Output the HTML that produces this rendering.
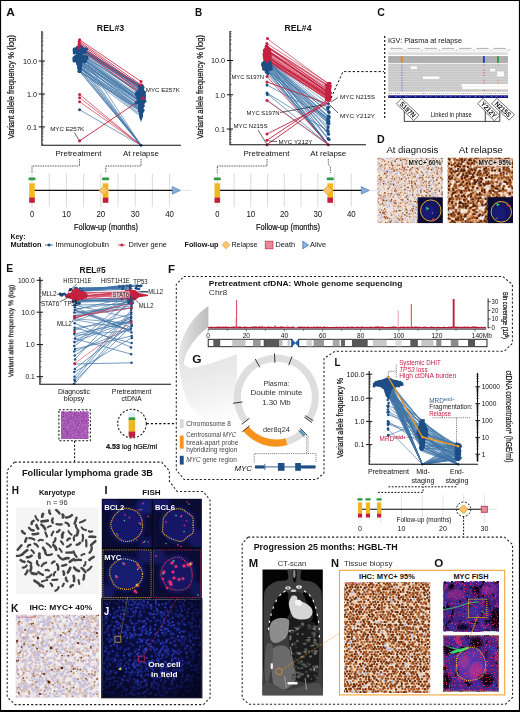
<!DOCTYPE html>
<html><head><meta charset="utf-8"><title>Figure</title>
<style>
html,body{margin:0;padding:0;background:#fff;}
body{width:520px;height:712px;overflow:hidden;font-family:"Liberation Sans",sans-serif;}
svg{display:block;font-family:"Liberation Sans",sans-serif;}
</style></head><body>
<svg width="520" height="712" viewBox="0 0 520 712">
<defs>
<filter id="blur04" x="-0.05" y="-0.05" width="1.1" height="1.1"><feGaussianBlur stdDeviation="0.4"/></filter>
<clipPath id="d1c"><rect x="377.5" y="157.8" width="65.3" height="65.3"/></clipPath>
<clipPath id="d2c"><rect x="447.7" y="157.8" width="65.3" height="65.3"/></clipPath>
<filter id="he" x="0" y="0" width="1" height="1" color-interpolation-filters="sRGB"><feTurbulence type="fractalNoise" baseFrequency="0.6" numOctaves="2" seed="5" result="n"/><feColorMatrix in="n" type="matrix" values="0 0 0 0 0.588 0 0 0 0 0.275 0 0 0 0 0.675 6 0 0 0 -3.1" result="L0"/><feColorMatrix in="n" type="matrix" values="0 0 0 0 0.808 0 0 0 0 0.510 0 0 0 0 0.784 0 7 0 0 -4.3" result="L1"/><feColorMatrix in="n" type="matrix" values="0 0 0 0 0.471 0 0 0 0 0.220 0 0 0 0 0.612 0 0 8 0 -5.2" result="L2"/><feMerge result="m"><feMergeNode in="L0"/><feMergeNode in="L1"/><feMergeNode in="L2"/></feMerge><feGaussianBlur in="m" stdDeviation="0.4"/></filter>
<linearGradient id="sw1" x1="0" y1="0" x2="1" y2="0"><stop offset="0" stop-color="#e6e6e6"/><stop offset="1" stop-color="#bdbdbd"/></linearGradient>
<linearGradient id="sw2" gradientUnits="userSpaceOnUse" x1="200" y1="350" x2="215" y2="425"><stop offset="0" stop-color="#e2e2e2"/><stop offset="0.55" stop-color="#f0f0f0"/><stop offset="1" stop-color="#ffffff"/></linearGradient>
<filter id="blur3" x="-0.3" y="-0.3" width="1.6" height="1.6"><feGaussianBlur stdDeviation="2.2"/></filter>
<filter id="blur1" x="-0.3" y="-0.3" width="1.6" height="1.6"><feGaussianBlur stdDeviation="0.45"/></filter>
<clipPath id="cf1"><rect x="102.4" y="499.4" width="49.2" height="47.8"/></clipPath>
<clipPath id="cf2"><rect x="153" y="499.4" width="48.2" height="47.8"/></clipPath>
<clipPath id="cf3"><rect x="102.4" y="549.4" width="49.2" height="48.6"/></clipPath>
<clipPath id="cf4"><rect x="153" y="549.4" width="48.2" height="48.6"/></clipPath>
<radialGradient id="jg" cx="0.42" cy="0.42" r="0.62"><stop offset="0" stop-color="#10165a"/><stop offset="0.6" stop-color="#0a0e40"/><stop offset="1" stop-color="#04051c"/></radialGradient>
<radialGradient id="jv" cx="0.42" cy="0.4" r="0.72"><stop offset="0" stop-color="#03041a" stop-opacity="0"/><stop offset="0.5" stop-color="#03041a" stop-opacity="0.12"/><stop offset="1" stop-color="#03041a" stop-opacity="0.85"/></radialGradient>
<filter id="blur06" x="-0.05" y="-0.05" width="1.1" height="1.1"><feGaussianBlur stdDeviation="0.55"/></filter>
<clipPath id="jc"><rect x="102.4" y="599.6" width="98.8" height="97.6"/></clipPath>
<clipPath id="kc"><rect x="15.8" y="614.8" width="83.3" height="82.8"/></clipPath>
<clipPath id="ctc"><rect x="262.5" y="569.5" width="60.3" height="125.8"/></clipPath>
<filter id="b08" x="-0.2" y="-0.2" width="1.4" height="1.4"><feGaussianBlur stdDeviation="0.7"/></filter>
<filter id="b15" x="-0.2" y="-0.2" width="1.4" height="1.4"><feGaussianBlur stdDeviation="1.4"/></filter>
<clipPath id="nc"><rect x="344.1" y="582.3" width="86.1" height="110.7"/></clipPath>
<filter id="of1" x="0" y="0" width="1" height="1" color-interpolation-filters="sRGB"><feTurbulence type="fractalNoise" baseFrequency="0.2" numOctaves="3" seed="41" result="n"/><feColorMatrix in="n" type="matrix" values="0 0 0 0 0.227 0 0 0 0 0.173 0 0 0 0 0.643 0 0 6 0 -3.0" result="L0"/><feColorMatrix in="n" type="matrix" values="0 0 0 0 0.031 0 0 0 0 0.020 0 0 0 0 0.063 9 0 0 0 -5.6" result="L1"/><feColorMatrix in="n" type="matrix" values="0 0 0 0 0.588 0 0 0 0 0.141 0 0 0 0 0.510 0 10 0 0 -6.3" result="L2"/><feMerge><feMergeNode in="L0"/><feMergeNode in="L1"/><feMergeNode in="L2"/></feMerge></filter>
<filter id="of1b" x="0" y="0" width="1" height="1" color-interpolation-filters="sRGB"><feTurbulence type="fractalNoise" baseFrequency="1.1" numOctaves="1" seed="42" result="n"/><feColorMatrix in="n" type="matrix" values="0 0 0 0 0.902 0 0 0 0 0.157 0 0 0 0 0.392 14 0 0 0 -8.9" result="L0"/><feMerge><feMergeNode in="L0"/></feMerge></filter>
<clipPath id="oc1"><rect x="443.3" y="581.9" width="55.7" height="49.3"/></clipPath>
<filter id="of2" x="0" y="0" width="1" height="1" color-interpolation-filters="sRGB"><feTurbulence type="fractalNoise" baseFrequency="0.11" numOctaves="3" seed="57" result="n"/><feColorMatrix in="n" type="matrix" values="0 0 0 0 0.227 0 0 0 0 0.180 0 0 0 0 0.651 0 0 6 0 -3.1" result="L0"/><feColorMatrix in="n" type="matrix" values="0 0 0 0 0.031 0 0 0 0 0.020 0 0 0 0 0.063 9 0 0 0 -5.3" result="L1"/><feColorMatrix in="n" type="matrix" values="0 0 0 0 0.706 0 0 0 0 0.141 0 0 0 0 0.471 0 9 0 0 -5.9" result="L2"/><feMerge><feMergeNode in="L0"/><feMergeNode in="L1"/><feMergeNode in="L2"/></feMerge></filter>
<filter id="of2b" x="0" y="0" width="1" height="1" color-interpolation-filters="sRGB"><feTurbulence type="fractalNoise" baseFrequency="0.75" numOctaves="1" seed="58" result="n"/><feColorMatrix in="n" type="matrix" values="0 0 0 0 0.941 0 0 0 0 0.157 0 0 0 0 0.373 14 0 0 0 -8.6" result="L0"/><feMerge><feMergeNode in="L0"/></feMerge></filter>
<clipPath id="oc2"><rect x="443.3" y="635.4" width="55.7" height="56.1"/></clipPath>
</defs>
<rect x="0" y="0" width="520" height="712" fill="#fff"/>
<g style="opacity:0.999">
<text x="6.3" y="16.3" font-size="11.3" font-weight="bold" text-anchor="start" fill="#111" textLength="8.6" lengthAdjust="spacingAndGlyphs">A</text>
<text x="110.5" y="30.9" font-size="9.3" font-weight="bold" text-anchor="middle" fill="#111" textLength="27.5" lengthAdjust="spacingAndGlyphs">REL#3</text>
<text transform="translate(14.2,87) rotate(-90)" font-size="9.2" text-anchor="middle" fill="#111" stroke="#111" stroke-width="0.22" textLength="104" lengthAdjust="spacingAndGlyphs">Variant allele frequency % (log)</text>
<g stroke-linecap="round">
<line x1="79.6" y1="54.4" x2="141.0" y2="92.2" stroke="#3f74a6" stroke-width="0.7" opacity="0.85"/>
<line x1="79.6" y1="62.9" x2="141.0" y2="101.3" stroke="#3f74a6" stroke-width="0.7" opacity="0.85"/>
<line x1="79.6" y1="59.9" x2="141.0" y2="100.7" stroke="#3f74a6" stroke-width="0.7" opacity="0.85"/>
<line x1="79.6" y1="47.5" x2="141.0" y2="87.8" stroke="#3f74a6" stroke-width="0.7" opacity="0.85"/>
<line x1="79.6" y1="47.0" x2="141.0" y2="86.5" stroke="#3f74a6" stroke-width="0.7" opacity="0.85"/>
<line x1="79.6" y1="47.8" x2="141.0" y2="85.5" stroke="#3f74a6" stroke-width="0.7" opacity="0.85"/>
<line x1="79.6" y1="57.0" x2="141.0" y2="102.0" stroke="#3f74a6" stroke-width="0.7" opacity="0.85"/>
<line x1="79.6" y1="49.2" x2="141.0" y2="86.9" stroke="#3f74a6" stroke-width="0.7" opacity="0.85"/>
<line x1="79.6" y1="62.3" x2="141.0" y2="109.3" stroke="#3f74a6" stroke-width="0.7" opacity="0.85"/>
<line x1="79.6" y1="61.0" x2="141.0" y2="102.3" stroke="#3f74a6" stroke-width="0.7" opacity="0.85"/>
<line x1="79.6" y1="71.4" x2="141.0" y2="110.8" stroke="#3f74a6" stroke-width="0.7" opacity="0.85"/>
<line x1="79.6" y1="68.3" x2="141.0" y2="109.7" stroke="#3f74a6" stroke-width="0.7" opacity="0.85"/>
<line x1="79.6" y1="49.8" x2="141.0" y2="86.5" stroke="#3f74a6" stroke-width="0.7" opacity="0.85"/>
<line x1="79.6" y1="54.0" x2="141.0" y2="98.4" stroke="#3f74a6" stroke-width="0.7" opacity="0.85"/>
<line x1="79.6" y1="50.7" x2="141.0" y2="92.2" stroke="#3f74a6" stroke-width="0.7" opacity="0.85"/>
<line x1="79.6" y1="62.6" x2="141.0" y2="103.9" stroke="#3f74a6" stroke-width="0.7" opacity="0.85"/>
<line x1="79.6" y1="60.2" x2="141.0" y2="98.1" stroke="#3f74a6" stroke-width="0.7" opacity="0.85"/>
<line x1="79.6" y1="47.5" x2="141.0" y2="85.5" stroke="#3f74a6" stroke-width="0.7" opacity="0.85"/>
<line x1="79.6" y1="63.7" x2="141.0" y2="105.7" stroke="#3f74a6" stroke-width="0.7" opacity="0.85"/>
<line x1="79.6" y1="54.2" x2="141.0" y2="96.3" stroke="#3f74a6" stroke-width="0.7" opacity="0.85"/>
<line x1="79.6" y1="57.8" x2="141.0" y2="97.6" stroke="#3f74a6" stroke-width="0.7" opacity="0.85"/>
<line x1="79.6" y1="66.7" x2="141.0" y2="111.8" stroke="#3f74a6" stroke-width="0.7" opacity="0.85"/>
<line x1="79.6" y1="52.3" x2="141.0" y2="94.1" stroke="#3f74a6" stroke-width="0.7" opacity="0.85"/>
<line x1="79.6" y1="59.7" x2="141.0" y2="105.5" stroke="#3f74a6" stroke-width="0.7" opacity="0.85"/>
<line x1="79.6" y1="65.0" x2="141.0" y2="105.8" stroke="#3f74a6" stroke-width="0.7" opacity="0.85"/>
<line x1="79.6" y1="71.5" x2="141.0" y2="111.6" stroke="#3f74a6" stroke-width="0.7" opacity="0.85"/>
<line x1="79.6" y1="56.9" x2="141.0" y2="101.1" stroke="#3f74a6" stroke-width="0.7" opacity="0.85"/>
<line x1="79.6" y1="50.0" x2="141.0" y2="90.4" stroke="#3f74a6" stroke-width="0.7" opacity="0.85"/>
<line x1="79.6" y1="47.0" x2="141.0" y2="88.9" stroke="#3f74a6" stroke-width="0.7" opacity="0.85"/>
<line x1="79.6" y1="65.9" x2="141.0" y2="109.7" stroke="#3f74a6" stroke-width="0.7" opacity="0.85"/>
<line x1="79.6" y1="68.8" x2="141.0" y2="110.4" stroke="#3f74a6" stroke-width="0.7" opacity="0.85"/>
<line x1="79.6" y1="64.1" x2="141.0" y2="107.8" stroke="#3f74a6" stroke-width="0.7" opacity="0.85"/>
<line x1="79.6" y1="61.1" x2="141.0" y2="103.0" stroke="#3f74a6" stroke-width="0.7" opacity="0.85"/>
<line x1="79.6" y1="67.8" x2="141.0" y2="115.6" stroke="#3f74a6" stroke-width="0.7" opacity="0.85"/>
<line x1="79.6" y1="58.3" x2="141.0" y2="101.9" stroke="#3f74a6" stroke-width="0.7" opacity="0.85"/>
<line x1="79.6" y1="47.6" x2="141.0" y2="89.8" stroke="#3f74a6" stroke-width="0.7" opacity="0.85"/>
<line x1="79.6" y1="62.8" x2="141.0" y2="110.3" stroke="#3f74a6" stroke-width="0.7" opacity="0.85"/>
<line x1="79.6" y1="67.4" x2="141.0" y2="108.5" stroke="#3f74a6" stroke-width="0.7" opacity="0.85"/>
<line x1="79.6" y1="56.0" x2="141.0" y2="99.3" stroke="#3f74a6" stroke-width="0.7" opacity="0.85"/>
<line x1="79.6" y1="46.6" x2="141.0" y2="86.3" stroke="#3f74a6" stroke-width="0.7" opacity="0.85"/>
<line x1="79.6" y1="50.4" x2="141.0" y2="87.2" stroke="#3f74a6" stroke-width="0.7" opacity="0.85"/>
<line x1="79.6" y1="47.5" x2="141.0" y2="90.5" stroke="#3f74a6" stroke-width="0.7" opacity="0.85"/>
<line x1="79.6" y1="49.4" x2="141.0" y2="87.4" stroke="#3f74a6" stroke-width="0.7" opacity="0.85"/>
<line x1="79.6" y1="56.2" x2="141.0" y2="101.4" stroke="#3f74a6" stroke-width="0.7" opacity="0.85"/>
<line x1="79.6" y1="48.1" x2="141.0" y2="87.9" stroke="#3f74a6" stroke-width="0.7" opacity="0.85"/>
<line x1="79.6" y1="60.3" x2="141.0" y2="106.3" stroke="#3f74a6" stroke-width="0.7" opacity="0.85"/>
<line x1="79.6" y1="67.3" x2="141.0" y2="114.2" stroke="#3f74a6" stroke-width="0.7" opacity="0.85"/>
<line x1="79.6" y1="53.2" x2="141.0" y2="93.5" stroke="#3f74a6" stroke-width="0.7" opacity="0.85"/>
<line x1="79.6" y1="55.3" x2="141.0" y2="100.6" stroke="#3f74a6" stroke-width="0.7" opacity="0.85"/>
<line x1="79.6" y1="70.9" x2="141.0" y2="111.2" stroke="#3f74a6" stroke-width="0.7" opacity="0.85"/>
<line x1="79.6" y1="50.6" x2="141.0" y2="88.6" stroke="#3f74a6" stroke-width="0.7" opacity="0.85"/>
<line x1="79.6" y1="52.1" x2="141.0" y2="92.8" stroke="#3f74a6" stroke-width="0.7" opacity="0.85"/>
<line x1="79.6" y1="61.3" x2="141.0" y2="101.3" stroke="#3f74a6" stroke-width="0.7" opacity="0.85"/>
<line x1="79.6" y1="46.1" x2="141.0" y2="85.5" stroke="#3f74a6" stroke-width="0.7" opacity="0.85"/>
<line x1="79.6" y1="55.6" x2="141.0" y2="97.7" stroke="#3f74a6" stroke-width="0.7" opacity="0.85"/>
<line x1="79.6" y1="70.8" x2="141.0" y2="116.5" stroke="#3f74a6" stroke-width="0.7" opacity="0.85"/>
<line x1="79.6" y1="62.4" x2="141.0" y2="145.3" stroke="#3f74a6" stroke-width="0.7" opacity="0.9"/>
<line x1="79.6" y1="64.8" x2="141.0" y2="145.3" stroke="#3f74a6" stroke-width="0.7" opacity="0.9"/>
<line x1="79.6" y1="66.2" x2="141.0" y2="145.3" stroke="#3f74a6" stroke-width="0.7" opacity="0.9"/>
<line x1="79.6" y1="51.3" x2="141.0" y2="145.3" stroke="#3f74a6" stroke-width="0.7" opacity="0.9"/>
<line x1="79.6" y1="71.6" x2="141.0" y2="145.3" stroke="#3f74a6" stroke-width="0.7" opacity="0.9"/>
<line x1="79.6" y1="68.7" x2="141.0" y2="145.3" stroke="#3f74a6" stroke-width="0.7" opacity="0.9"/>
<line x1="79.6" y1="71.0" x2="141.0" y2="145.3" stroke="#3f74a6" stroke-width="0.7" opacity="0.9"/>
<line x1="79.6" y1="69.1" x2="141.0" y2="145.3" stroke="#3f74a6" stroke-width="0.7" opacity="0.9"/>
<line x1="79.6" y1="59.4" x2="141.0" y2="145.3" stroke="#3f74a6" stroke-width="0.7" opacity="0.9"/>
<line x1="79.6" y1="109.8" x2="141.0" y2="145.3" stroke="#3f74a6" stroke-width="0.7"/>
<line x1="79.6" y1="39.8" x2="141.0" y2="81.5" stroke="#c4203f" stroke-width="0.8"/>
<line x1="79.6" y1="41.5" x2="141.0" y2="84.8" stroke="#c4203f" stroke-width="0.8"/>
<line x1="79.6" y1="43.0" x2="141.0" y2="87.0" stroke="#c4203f" stroke-width="0.8"/>
<line x1="79.6" y1="44.6" x2="141.0" y2="89.0" stroke="#c4203f" stroke-width="0.8"/>
<line x1="79.6" y1="46.5" x2="141.0" y2="92.0" stroke="#c4203f" stroke-width="0.8"/>
<line x1="79.6" y1="48.0" x2="141.0" y2="95.0" stroke="#c4203f" stroke-width="0.8"/>
<line x1="79.6" y1="94.5" x2="141.0" y2="145.3" stroke="#cf3552" stroke-width="0.7"/>
<line x1="79.6" y1="97.7" x2="141.0" y2="145.3" stroke="#cf3552" stroke-width="0.7"/>
<line x1="79.6" y1="101.7" x2="141.0" y2="145.3" stroke="#cf3552" stroke-width="0.7"/>
<line x1="79.6" y1="140.8" x2="143.1" y2="98.2" stroke="#c4203f" stroke-width="0.9"/>
</g>
<circle cx="79.2" cy="54.4" r="1.5" fill="#1d4f86"/>
<circle cx="78.0" cy="62.9" r="1.5" fill="#1d4f86"/>
<circle cx="81.1" cy="59.9" r="1.5" fill="#1d4f86"/>
<circle cx="77.8" cy="47.5" r="1.5" fill="#1d4f86"/>
<circle cx="77.9" cy="47.0" r="1.5" fill="#1d4f86"/>
<circle cx="78.4" cy="47.8" r="1.5" fill="#1d4f86"/>
<circle cx="75.9" cy="57.0" r="1.5" fill="#1d4f86"/>
<circle cx="77.8" cy="49.2" r="1.5" fill="#1d4f86"/>
<circle cx="77.8" cy="62.3" r="1.5" fill="#1d4f86"/>
<circle cx="74.1" cy="61.0" r="1.5" fill="#1d4f86"/>
<circle cx="79.2" cy="71.4" r="1.5" fill="#1d4f86"/>
<circle cx="79.1" cy="68.3" r="1.5" fill="#1d4f86"/>
<circle cx="78.1" cy="49.8" r="1.5" fill="#1d4f86"/>
<circle cx="77.7" cy="54.0" r="1.5" fill="#1d4f86"/>
<circle cx="83.7" cy="50.7" r="1.5" fill="#1d4f86"/>
<circle cx="80.1" cy="62.6" r="1.5" fill="#1d4f86"/>
<circle cx="75.7" cy="60.2" r="1.5" fill="#1d4f86"/>
<circle cx="78.6" cy="47.5" r="1.5" fill="#1d4f86"/>
<circle cx="79.0" cy="63.7" r="1.5" fill="#1d4f86"/>
<circle cx="79.1" cy="54.2" r="1.5" fill="#1d4f86"/>
<circle cx="75.5" cy="57.8" r="1.5" fill="#1d4f86"/>
<circle cx="80.0" cy="66.7" r="1.5" fill="#1d4f86"/>
<circle cx="85.0" cy="52.3" r="1.5" fill="#1d4f86"/>
<circle cx="79.2" cy="59.7" r="1.5" fill="#1d4f86"/>
<circle cx="79.5" cy="65.0" r="1.5" fill="#1d4f86"/>
<circle cx="79.1" cy="71.5" r="1.5" fill="#1d4f86"/>
<circle cx="75.2" cy="56.9" r="1.5" fill="#1d4f86"/>
<circle cx="77.9" cy="50.0" r="1.5" fill="#1d4f86"/>
<circle cx="78.7" cy="47.0" r="1.5" fill="#1d4f86"/>
<circle cx="80.9" cy="65.9" r="1.5" fill="#1d4f86"/>
<circle cx="79.2" cy="68.8" r="1.5" fill="#1d4f86"/>
<circle cx="77.7" cy="64.1" r="1.5" fill="#1d4f86"/>
<circle cx="84.6" cy="61.1" r="1.5" fill="#1d4f86"/>
<circle cx="79.6" cy="67.8" r="1.5" fill="#1d4f86"/>
<circle cx="75.7" cy="58.3" r="1.5" fill="#1d4f86"/>
<circle cx="79.8" cy="47.6" r="1.5" fill="#1d4f86"/>
<circle cx="77.7" cy="62.8" r="1.5" fill="#1d4f86"/>
<circle cx="79.6" cy="67.4" r="1.5" fill="#1d4f86"/>
<circle cx="84.9" cy="56.0" r="1.5" fill="#1d4f86"/>
<circle cx="81.1" cy="46.6" r="1.5" fill="#1d4f86"/>
<circle cx="81.8" cy="50.4" r="1.5" fill="#1d4f86"/>
<circle cx="78.6" cy="47.5" r="1.5" fill="#1d4f86"/>
<circle cx="78.1" cy="49.4" r="1.5" fill="#1d4f86"/>
<circle cx="75.9" cy="56.2" r="1.5" fill="#1d4f86"/>
<circle cx="82.6" cy="48.1" r="1.5" fill="#1d4f86"/>
<circle cx="80.0" cy="60.3" r="1.5" fill="#1d4f86"/>
<circle cx="79.9" cy="67.3" r="1.5" fill="#1d4f86"/>
<circle cx="77.7" cy="53.2" r="1.5" fill="#1d4f86"/>
<circle cx="78.5" cy="55.3" r="1.5" fill="#1d4f86"/>
<circle cx="80.0" cy="70.9" r="1.5" fill="#1d4f86"/>
<circle cx="84.9" cy="50.6" r="1.5" fill="#1d4f86"/>
<circle cx="83.5" cy="52.1" r="1.5" fill="#1d4f86"/>
<circle cx="83.0" cy="61.3" r="1.5" fill="#1d4f86"/>
<circle cx="80.9" cy="46.1" r="1.5" fill="#1d4f86"/>
<circle cx="80.6" cy="55.6" r="1.5" fill="#1d4f86"/>
<circle cx="79.3" cy="70.8" r="1.5" fill="#1d4f86"/>
<circle cx="79.7" cy="62.4" r="1.5" fill="#1d4f86"/>
<circle cx="79.0" cy="64.8" r="1.5" fill="#1d4f86"/>
<circle cx="79.0" cy="66.2" r="1.5" fill="#1d4f86"/>
<circle cx="74.4" cy="51.3" r="1.5" fill="#1d4f86"/>
<circle cx="79.3" cy="71.6" r="1.5" fill="#1d4f86"/>
<circle cx="79.3" cy="68.7" r="1.5" fill="#1d4f86"/>
<circle cx="79.8" cy="71.0" r="1.5" fill="#1d4f86"/>
<circle cx="80.1" cy="69.1" r="1.5" fill="#1d4f86"/>
<circle cx="79.0" cy="59.4" r="1.5" fill="#1d4f86"/>
<path d="M77.1,46 L72.6,49.5 L73.1,53 L76.6,54.5 L72.6,57 L72.6,61 L76.6,63 L77.6,70 L79.6,73 L81.6,70 L82.1,63 L84.6,60 L83.1,55 L85.1,51 L82.6,47 Z" fill="#1d4f86" stroke="none" stroke-width="1"/>
<circle cx="144.5" cy="92.2" r="1.5" fill="#1d4f86"/>
<circle cx="144.9" cy="101.3" r="1.5" fill="#1d4f86"/>
<circle cx="144.6" cy="100.7" r="1.5" fill="#1d4f86"/>
<circle cx="140.4" cy="87.8" r="1.5" fill="#1d4f86"/>
<circle cx="139.8" cy="86.5" r="1.5" fill="#1d4f86"/>
<circle cx="139.8" cy="85.5" r="1.5" fill="#1d4f86"/>
<circle cx="139.7" cy="102.0" r="1.5" fill="#1d4f86"/>
<circle cx="139.7" cy="86.9" r="1.5" fill="#1d4f86"/>
<circle cx="141.5" cy="109.3" r="1.5" fill="#1d4f86"/>
<circle cx="142.8" cy="102.3" r="1.5" fill="#1d4f86"/>
<circle cx="142.5" cy="110.8" r="1.5" fill="#1d4f86"/>
<circle cx="140.9" cy="109.7" r="1.5" fill="#1d4f86"/>
<circle cx="141.7" cy="86.5" r="1.5" fill="#1d4f86"/>
<circle cx="143.4" cy="98.4" r="1.5" fill="#1d4f86"/>
<circle cx="137.7" cy="92.2" r="1.5" fill="#1d4f86"/>
<circle cx="141.7" cy="103.9" r="1.5" fill="#1d4f86"/>
<circle cx="144.3" cy="98.1" r="1.5" fill="#1d4f86"/>
<circle cx="142.2" cy="85.5" r="1.5" fill="#1d4f86"/>
<circle cx="142.1" cy="105.7" r="1.5" fill="#1d4f86"/>
<circle cx="140.8" cy="96.3" r="1.5" fill="#1d4f86"/>
<circle cx="138.4" cy="97.6" r="1.5" fill="#1d4f86"/>
<circle cx="142.3" cy="111.8" r="1.5" fill="#1d4f86"/>
<circle cx="139.7" cy="94.1" r="1.5" fill="#1d4f86"/>
<circle cx="142.3" cy="105.5" r="1.5" fill="#1d4f86"/>
<circle cx="143.1" cy="105.8" r="1.5" fill="#1d4f86"/>
<circle cx="140.5" cy="111.6" r="1.5" fill="#1d4f86"/>
<circle cx="140.2" cy="101.1" r="1.5" fill="#1d4f86"/>
<circle cx="143.0" cy="90.4" r="1.5" fill="#1d4f86"/>
<circle cx="142.0" cy="88.9" r="1.5" fill="#1d4f86"/>
<circle cx="139.5" cy="109.7" r="1.5" fill="#1d4f86"/>
<circle cx="139.4" cy="110.4" r="1.5" fill="#1d4f86"/>
<circle cx="139.5" cy="107.8" r="1.5" fill="#1d4f86"/>
<circle cx="142.8" cy="103.0" r="1.5" fill="#1d4f86"/>
<circle cx="141.6" cy="115.6" r="1.5" fill="#1d4f86"/>
<circle cx="138.2" cy="101.9" r="1.5" fill="#1d4f86"/>
<circle cx="142.4" cy="89.8" r="1.5" fill="#1d4f86"/>
<circle cx="143.1" cy="110.3" r="1.5" fill="#1d4f86"/>
<circle cx="141.7" cy="108.5" r="1.5" fill="#1d4f86"/>
<circle cx="139.8" cy="99.3" r="1.5" fill="#1d4f86"/>
<circle cx="141.2" cy="86.3" r="1.5" fill="#1d4f86"/>
<circle cx="139.4" cy="87.2" r="1.5" fill="#1d4f86"/>
<circle cx="138.9" cy="90.5" r="1.5" fill="#1d4f86"/>
<circle cx="143.1" cy="87.4" r="1.5" fill="#1d4f86"/>
<circle cx="142.2" cy="101.4" r="1.5" fill="#1d4f86"/>
<circle cx="141.1" cy="87.9" r="1.5" fill="#1d4f86"/>
<circle cx="142.9" cy="106.3" r="1.5" fill="#1d4f86"/>
<circle cx="140.9" cy="114.2" r="1.5" fill="#1d4f86"/>
<circle cx="144.0" cy="93.5" r="1.5" fill="#1d4f86"/>
<circle cx="143.6" cy="100.6" r="1.5" fill="#1d4f86"/>
<circle cx="139.7" cy="111.2" r="1.5" fill="#1d4f86"/>
<circle cx="139.9" cy="88.6" r="1.5" fill="#1d4f86"/>
<circle cx="139.3" cy="92.8" r="1.5" fill="#1d4f86"/>
<circle cx="138.9" cy="101.3" r="1.5" fill="#1d4f86"/>
<circle cx="141.4" cy="85.5" r="1.5" fill="#1d4f86"/>
<circle cx="139.1" cy="97.7" r="1.5" fill="#1d4f86"/>
<circle cx="140.8" cy="116.5" r="1.5" fill="#1d4f86"/>
<path d="M139.5,86 L138,91 L136,96 L137,102 L138.5,108 L139.5,118 L141,122 L142.5,118 L143.5,108 L145.5,100 L146,95 L143.5,90 L142.5,86 Z" fill="#1d4f86" stroke="none" stroke-width="1"/>
<circle cx="74.1" cy="58.1" r="1.5" fill="#1d4f86"/>
<circle cx="82.0" cy="52.6" r="1.5" fill="#1d4f86"/>
<circle cx="80.1" cy="56.1" r="1.5" fill="#1d4f86"/>
<circle cx="83.7" cy="51.5" r="1.5" fill="#1d4f86"/>
<circle cx="74.7" cy="50.9" r="1.5" fill="#1d4f86"/>
<circle cx="77.0" cy="51.1" r="1.5" fill="#1d4f86"/>
<circle cx="85.3" cy="48.8" r="1.5" fill="#1d4f86"/>
<circle cx="83.7" cy="51.0" r="1.5" fill="#1d4f86"/>
<circle cx="78.7" cy="51.6" r="1.5" fill="#1d4f86"/>
<circle cx="82.5" cy="59.2" r="1.5" fill="#1d4f86"/>
<circle cx="79.7" cy="59.1" r="1.5" fill="#1d4f86"/>
<circle cx="85.9" cy="57.2" r="1.5" fill="#1d4f86"/>
<circle cx="74.2" cy="49.1" r="1.5" fill="#1d4f86"/>
<circle cx="82.2" cy="57.3" r="1.5" fill="#1d4f86"/>
<circle cx="83.9" cy="56.9" r="1.5" fill="#1d4f86"/>
<circle cx="74.2" cy="52.9" r="1.5" fill="#1d4f86"/>
<circle cx="83.3" cy="49.0" r="1.5" fill="#1d4f86"/>
<circle cx="86.9" cy="57.0" r="1.5" fill="#1d4f86"/>
<circle cx="87.0" cy="58.5" r="1.5" fill="#1d4f86"/>
<circle cx="76.9" cy="56.1" r="1.5" fill="#1d4f86"/>
<circle cx="78.7" cy="58.0" r="1.5" fill="#1d4f86"/>
<circle cx="79.8" cy="48.8" r="1.5" fill="#1d4f86"/>
<circle cx="86.7" cy="49.0" r="1.5" fill="#1d4f86"/>
<circle cx="85.7" cy="60.5" r="1.5" fill="#1d4f86"/>
<circle cx="84.8" cy="61.7" r="1.5" fill="#1d4f86"/>
<circle cx="74.3" cy="59.4" r="1.5" fill="#1d4f86"/>
<circle cx="136.5" cy="92.7" r="1.5" fill="#1d4f86"/>
<circle cx="143.1" cy="97.1" r="1.5" fill="#1d4f86"/>
<circle cx="136.3" cy="103.3" r="1.5" fill="#1d4f86"/>
<circle cx="142.5" cy="101.6" r="1.5" fill="#1d4f86"/>
<circle cx="136.4" cy="102.3" r="1.5" fill="#1d4f86"/>
<circle cx="136.2" cy="102.4" r="1.5" fill="#1d4f86"/>
<circle cx="140.5" cy="96.1" r="1.5" fill="#1d4f86"/>
<circle cx="141.6" cy="103.1" r="1.5" fill="#1d4f86"/>
<circle cx="138.4" cy="93.6" r="1.5" fill="#1d4f86"/>
<circle cx="141.3" cy="94.9" r="1.5" fill="#1d4f86"/>
<circle cx="136.7" cy="93.9" r="1.5" fill="#1d4f86"/>
<circle cx="136.1" cy="94.4" r="1.5" fill="#1d4f86"/>
<circle cx="138.9" cy="95.7" r="1.5" fill="#1d4f86"/>
<circle cx="143.9" cy="95.5" r="1.5" fill="#1d4f86"/>
<circle cx="79.6" cy="109.8" r="1.5" fill="#1d4f86"/>
<circle cx="79.6" cy="39.8" r="1.5" fill="#c4203f"/>
<circle cx="79.2" cy="41.5" r="1.5" fill="#c4203f"/>
<circle cx="79.4" cy="43.0" r="1.5" fill="#c4203f"/>
<circle cx="79.0" cy="44.6" r="1.5" fill="#c4203f"/>
<circle cx="79.3" cy="46.5" r="1.5" fill="#c4203f"/>
<circle cx="79.0" cy="48.0" r="1.5" fill="#c4203f"/>
<circle cx="141.0" cy="81.5" r="1.5" fill="#c4203f"/>
<circle cx="141.0" cy="84.8" r="1.5" fill="#c4203f"/>
<circle cx="79.6" cy="94.5" r="1.5" fill="#c4203f"/>
<circle cx="79.6" cy="97.7" r="1.5" fill="#c4203f"/>
<circle cx="79.6" cy="101.7" r="1.5" fill="#c4203f"/>
<circle cx="79.6" cy="140.8" r="1.6" fill="#c4203f"/>
<circle cx="143.1" cy="98.2" r="1.7" fill="#c4203f"/>
<circle cx="141.0" cy="145.3" r="1.5" fill="#1d4f86"/>
<line x1="41.9" y1="31.0" x2="41.9" y2="145.3" stroke="#111" stroke-width="1.1"/>
<line x1="38.7" y1="61.0" x2="45.0" y2="61.0" stroke="#111" stroke-width="1.0"/>
<text x="37.0" y="63.8" font-size="7.9" font-weight="normal" text-anchor="end" fill="#111" textLength="14.1" lengthAdjust="spacingAndGlyphs">10.0</text>
<line x1="38.7" y1="94.0" x2="45.0" y2="94.0" stroke="#111" stroke-width="1.0"/>
<text x="37.0" y="96.8" font-size="7.9" font-weight="normal" text-anchor="end" fill="#111" textLength="10.0" lengthAdjust="spacingAndGlyphs">1.0</text>
<line x1="38.7" y1="126.9" x2="45.0" y2="126.9" stroke="#111" stroke-width="1.0"/>
<text x="37.0" y="129.7" font-size="7.9" font-weight="normal" text-anchor="end" fill="#111" textLength="10.0" lengthAdjust="spacingAndGlyphs">0.1</text>
<line x1="41.9" y1="51.1" x2="43.6" y2="51.1" stroke="#111" stroke-width="0.5"/>
<line x1="41.9" y1="45.3" x2="43.6" y2="45.3" stroke="#111" stroke-width="0.5"/>
<line x1="41.9" y1="41.1" x2="43.6" y2="41.1" stroke="#111" stroke-width="0.5"/>
<line x1="41.9" y1="37.9" x2="43.6" y2="37.9" stroke="#111" stroke-width="0.5"/>
<line x1="41.9" y1="35.3" x2="43.6" y2="35.3" stroke="#111" stroke-width="0.5"/>
<line x1="41.9" y1="33.1" x2="43.6" y2="33.1" stroke="#111" stroke-width="0.5"/>
<line x1="41.9" y1="84.1" x2="43.6" y2="84.1" stroke="#111" stroke-width="0.5"/>
<line x1="41.9" y1="78.3" x2="43.6" y2="78.3" stroke="#111" stroke-width="0.5"/>
<line x1="41.9" y1="74.1" x2="43.6" y2="74.1" stroke="#111" stroke-width="0.5"/>
<line x1="41.9" y1="70.9" x2="43.6" y2="70.9" stroke="#111" stroke-width="0.5"/>
<line x1="41.9" y1="68.3" x2="43.6" y2="68.3" stroke="#111" stroke-width="0.5"/>
<line x1="41.9" y1="66.1" x2="43.6" y2="66.1" stroke="#111" stroke-width="0.5"/>
<line x1="41.9" y1="64.2" x2="43.6" y2="64.2" stroke="#111" stroke-width="0.5"/>
<line x1="41.9" y1="62.5" x2="43.6" y2="62.5" stroke="#111" stroke-width="0.5"/>
<line x1="41.9" y1="117.0" x2="43.6" y2="117.0" stroke="#111" stroke-width="0.5"/>
<line x1="41.9" y1="111.2" x2="43.6" y2="111.2" stroke="#111" stroke-width="0.5"/>
<line x1="41.9" y1="107.0" x2="43.6" y2="107.0" stroke="#111" stroke-width="0.5"/>
<line x1="41.9" y1="103.8" x2="43.6" y2="103.8" stroke="#111" stroke-width="0.5"/>
<line x1="41.9" y1="101.2" x2="43.6" y2="101.2" stroke="#111" stroke-width="0.5"/>
<line x1="41.9" y1="99.0" x2="43.6" y2="99.0" stroke="#111" stroke-width="0.5"/>
<line x1="41.9" y1="97.1" x2="43.6" y2="97.1" stroke="#111" stroke-width="0.5"/>
<line x1="41.9" y1="95.4" x2="43.6" y2="95.4" stroke="#111" stroke-width="0.5"/>
<line x1="41.9" y1="144.2" x2="43.6" y2="144.2" stroke="#111" stroke-width="0.5"/>
<line x1="41.9" y1="140.0" x2="43.6" y2="140.0" stroke="#111" stroke-width="0.5"/>
<line x1="41.9" y1="136.8" x2="43.6" y2="136.8" stroke="#111" stroke-width="0.5"/>
<line x1="41.9" y1="134.2" x2="43.6" y2="134.2" stroke="#111" stroke-width="0.5"/>
<line x1="41.9" y1="132.0" x2="43.6" y2="132.0" stroke="#111" stroke-width="0.5"/>
<line x1="41.9" y1="130.1" x2="43.6" y2="130.1" stroke="#111" stroke-width="0.5"/>
<line x1="41.9" y1="128.4" x2="43.6" y2="128.4" stroke="#111" stroke-width="0.5"/>
<line x1="41.4" y1="145.3" x2="181.0" y2="145.3" stroke="#111" stroke-width="1.1"/>
<text x="50.2" y="131.0" font-size="6.0" font-weight="normal" text-anchor="start" fill="#111" textLength="34.0" lengthAdjust="spacingAndGlyphs">MYC E257K</text>
<line x1="74.5" y1="132.5" x2="78.6" y2="139.5" stroke="#111" stroke-width="0.65"/>
<text x="145.8" y="92.0" font-size="6.0" font-weight="normal" text-anchor="start" fill="#111" textLength="34.0" lengthAdjust="spacingAndGlyphs">MYC E257K</text>
<text x="78.5" y="156.3" font-size="7.4" font-weight="normal" text-anchor="middle" fill="#111" textLength="46.0" lengthAdjust="spacingAndGlyphs">Pretreatment</text>
<text x="141.0" y="156.3" font-size="7.4" font-weight="normal" text-anchor="middle" fill="#111" textLength="36.0" lengthAdjust="spacingAndGlyphs">At relapse</text>
<path d="M79.5,159 V166 H32 V173" fill="none" stroke="#111" stroke-width="0.8" stroke-dasharray="0.9,0.8"/>
<path d="M141,159 V166 H105.8 V173" fill="none" stroke="#111" stroke-width="0.8" stroke-dasharray="0.9,0.8"/>
<line x1="32.0" y1="173.5" x2="32.0" y2="207.0" stroke="#d2d2d2" stroke-width="0.8"/>
<line x1="49.2" y1="173.5" x2="49.2" y2="207.0" stroke="#d2d2d2" stroke-width="0.8"/>
<line x1="66.4" y1="173.5" x2="66.4" y2="207.0" stroke="#d2d2d2" stroke-width="0.8"/>
<line x1="83.6" y1="173.5" x2="83.6" y2="207.0" stroke="#d2d2d2" stroke-width="0.8"/>
<line x1="100.8" y1="173.5" x2="100.8" y2="207.0" stroke="#d2d2d2" stroke-width="0.8"/>
<line x1="118.0" y1="173.5" x2="118.0" y2="207.0" stroke="#d2d2d2" stroke-width="0.8"/>
<line x1="135.2" y1="173.5" x2="135.2" y2="207.0" stroke="#d2d2d2" stroke-width="0.8"/>
<line x1="152.4" y1="173.5" x2="152.4" y2="207.0" stroke="#d2d2d2" stroke-width="0.8"/>
<line x1="169.6" y1="173.5" x2="169.6" y2="207.0" stroke="#d2d2d2" stroke-width="0.8"/>
<line x1="32.0" y1="190.4" x2="190.5" y2="190.4" stroke="#d0d0d0" stroke-width="0.6"/>
<line x1="32.0" y1="190.4" x2="173.5" y2="190.4" stroke="#111" stroke-width="1.2"/>
<rect x="29.2" y="183.3" width="5.6" height="14.6" fill="#f0b81e"/>
<rect x="29.2" y="197.6" width="5.6" height="5.2" fill="#c41f3a"/>
<rect x="28.4" y="177.5" width="7.2" height="2.8" fill="#2e9a48" rx="1"/>
<rect x="102.8" y="183.3" width="5.6" height="14.6" fill="#f0b81e"/>
<rect x="102.8" y="197.6" width="5.6" height="5.2" fill="#c41f3a"/>
<rect x="102.0" y="177.5" width="7.2" height="2.8" fill="#2e9a48" rx="1"/>
<path d="M99.29599999999999,190.4 L103.89599999999999,185.8 L108.49599999999998,190.4 L103.89599999999999,195.0 Z" fill="#f6c46a" stroke="#f09a25" stroke-width="0.9"/>
<path d="M172.3,186.6 L180.3,190.4 L172.3,194.20000000000002 Z" fill="#86aed6" stroke="#4a80b8" stroke-width="0.7"/>
<text x="32.0" y="216.6" font-size="8.6" font-weight="normal" text-anchor="middle" fill="#111" textLength="4.2" lengthAdjust="spacingAndGlyphs">0</text>
<text x="66.4" y="216.6" font-size="8.6" font-weight="normal" text-anchor="middle" fill="#111" textLength="8.8" lengthAdjust="spacingAndGlyphs">10</text>
<text x="100.8" y="216.6" font-size="8.6" font-weight="normal" text-anchor="middle" fill="#111" textLength="8.8" lengthAdjust="spacingAndGlyphs">20</text>
<text x="135.2" y="216.6" font-size="8.6" font-weight="normal" text-anchor="middle" fill="#111" textLength="8.8" lengthAdjust="spacingAndGlyphs">30</text>
<text x="169.6" y="216.6" font-size="8.6" font-weight="normal" text-anchor="middle" fill="#111" textLength="8.8" lengthAdjust="spacingAndGlyphs">40</text>
<text x="106.0" y="230.2" font-size="8.6" font-weight="normal" text-anchor="middle" fill="#111" textLength="64.0" lengthAdjust="spacingAndGlyphs" stroke="#111" stroke-width="0.2">Follow-up (months)</text>
<text x="195.0" y="16.3" font-size="11.3" font-weight="bold" text-anchor="start" fill="#111" textLength="7.2" lengthAdjust="spacingAndGlyphs">B</text>
<text x="298.0" y="30.9" font-size="9.3" font-weight="bold" text-anchor="middle" fill="#111" textLength="27.0" lengthAdjust="spacingAndGlyphs">REL#4</text>
<text transform="translate(202.7,87) rotate(-90)" font-size="9.2" text-anchor="middle" fill="#111" stroke="#111" stroke-width="0.22" textLength="104" lengthAdjust="spacingAndGlyphs">Variant allele frequency % (log)</text>
<g stroke-linecap="round">
<line x1="267.0" y1="68.3" x2="328.3" y2="123.4" stroke="#3f74a6" stroke-width="0.7" opacity="0.85"/>
<line x1="267.0" y1="60.7" x2="328.3" y2="120.6" stroke="#3f74a6" stroke-width="0.7" opacity="0.85"/>
<line x1="267.0" y1="71.1" x2="328.3" y2="106.9" stroke="#3f74a6" stroke-width="0.7" opacity="0.85"/>
<line x1="267.0" y1="69.5" x2="328.3" y2="119.0" stroke="#3f74a6" stroke-width="0.7" opacity="0.85"/>
<line x1="267.0" y1="64.9" x2="328.3" y2="133.9" stroke="#3f74a6" stroke-width="0.7" opacity="0.85"/>
<line x1="267.0" y1="63.5" x2="328.3" y2="121.7" stroke="#3f74a6" stroke-width="0.7" opacity="0.85"/>
<line x1="267.0" y1="67.6" x2="328.3" y2="139.4" stroke="#3f74a6" stroke-width="0.7" opacity="0.85"/>
<line x1="267.0" y1="62.8" x2="328.3" y2="133.8" stroke="#3f74a6" stroke-width="0.7" opacity="0.85"/>
<line x1="267.0" y1="67.9" x2="328.3" y2="126.5" stroke="#3f74a6" stroke-width="0.7" opacity="0.85"/>
<line x1="267.0" y1="63.7" x2="328.3" y2="115.9" stroke="#3f74a6" stroke-width="0.7" opacity="0.85"/>
<line x1="267.0" y1="58.8" x2="328.3" y2="107.8" stroke="#3f74a6" stroke-width="0.7" opacity="0.85"/>
<line x1="267.0" y1="59.0" x2="328.3" y2="130.4" stroke="#3f74a6" stroke-width="0.7" opacity="0.85"/>
<line x1="267.0" y1="61.6" x2="328.3" y2="109.0" stroke="#3f74a6" stroke-width="0.7" opacity="0.85"/>
<line x1="267.0" y1="59.2" x2="328.3" y2="134.1" stroke="#3f74a6" stroke-width="0.7" opacity="0.85"/>
<line x1="267.0" y1="70.2" x2="328.3" y2="127.8" stroke="#3f74a6" stroke-width="0.7" opacity="0.85"/>
<line x1="267.0" y1="61.9" x2="328.3" y2="112.0" stroke="#3f74a6" stroke-width="0.7" opacity="0.85"/>
<line x1="267.0" y1="62.1" x2="328.3" y2="120.0" stroke="#3f74a6" stroke-width="0.7" opacity="0.85"/>
<line x1="267.0" y1="60.2" x2="328.3" y2="119.5" stroke="#3f74a6" stroke-width="0.7" opacity="0.85"/>
<line x1="267.0" y1="61.7" x2="328.3" y2="138.6" stroke="#3f74a6" stroke-width="0.7" opacity="0.85"/>
<line x1="267.0" y1="71.6" x2="328.3" y2="123.2" stroke="#3f74a6" stroke-width="0.7" opacity="0.85"/>
<line x1="267.0" y1="61.4" x2="328.3" y2="138.7" stroke="#3f74a6" stroke-width="0.7" opacity="0.85"/>
<line x1="267.0" y1="62.3" x2="328.3" y2="116.2" stroke="#3f74a6" stroke-width="0.7" opacity="0.85"/>
<line x1="267.0" y1="58.0" x2="328.3" y2="117.1" stroke="#3f74a6" stroke-width="0.7" opacity="0.85"/>
<line x1="267.0" y1="64.6" x2="328.3" y2="121.6" stroke="#3f74a6" stroke-width="0.7" opacity="0.85"/>
<line x1="267.0" y1="60.8" x2="328.3" y2="121.7" stroke="#3f74a6" stroke-width="0.7" opacity="0.85"/>
<line x1="267.0" y1="58.1" x2="328.3" y2="112.8" stroke="#3f74a6" stroke-width="0.7" opacity="0.85"/>
<line x1="267.0" y1="59.3" x2="328.3" y2="117.8" stroke="#3f74a6" stroke-width="0.7" opacity="0.85"/>
<line x1="267.0" y1="58.6" x2="328.3" y2="103.8" stroke="#3f74a6" stroke-width="0.7" opacity="0.85"/>
<line x1="267.0" y1="62.3" x2="328.3" y2="111.6" stroke="#3f74a6" stroke-width="0.7" opacity="0.85"/>
<line x1="267.0" y1="66.2" x2="328.3" y2="122.6" stroke="#3f74a6" stroke-width="0.7" opacity="0.85"/>
<line x1="267.0" y1="85.0" x2="328.3" y2="118.0" stroke="#3f74a6" stroke-width="0.7"/>
<line x1="267.0" y1="93.0" x2="328.3" y2="131.0" stroke="#3f74a6" stroke-width="0.7"/>
<line x1="267.0" y1="93.5" x2="328.3" y2="144.7" stroke="#3f74a6" stroke-width="0.7"/>
<line x1="267.0" y1="100.0" x2="328.3" y2="144.7" stroke="#3f74a6" stroke-width="0.7"/>
<line x1="267.0" y1="70.5" x2="328.3" y2="144.7" stroke="#3f74a6" stroke-width="0.7" opacity="0.9"/>
<line x1="267.0" y1="69.2" x2="328.3" y2="144.7" stroke="#3f74a6" stroke-width="0.7" opacity="0.9"/>
<line x1="267.0" y1="70.0" x2="328.3" y2="144.7" stroke="#3f74a6" stroke-width="0.7" opacity="0.9"/>
<line x1="267.0" y1="72.3" x2="328.3" y2="144.7" stroke="#3f74a6" stroke-width="0.7" opacity="0.9"/>
<line x1="267.0" y1="65.5" x2="328.3" y2="144.7" stroke="#3f74a6" stroke-width="0.7" opacity="0.9"/>
<line x1="267.0" y1="64.6" x2="328.3" y2="144.7" stroke="#3f74a6" stroke-width="0.7" opacity="0.9"/>
<line x1="267.0" y1="73.8" x2="328.3" y2="144.7" stroke="#3f74a6" stroke-width="0.7" opacity="0.9"/>
<line x1="267.0" y1="62.1" x2="328.3" y2="144.7" stroke="#3f74a6" stroke-width="0.7" opacity="0.9"/>
<line x1="267.0" y1="70.1" x2="328.3" y2="144.7" stroke="#3f74a6" stroke-width="0.7" opacity="0.9"/>
<line x1="267.0" y1="38.5" x2="328.3" y2="83.9" stroke="#c4203f" stroke-width="0.7" opacity="0.9"/>
<line x1="267.0" y1="43.5" x2="328.3" y2="83.2" stroke="#c4203f" stroke-width="0.7" opacity="0.9"/>
<line x1="267.0" y1="59.4" x2="328.3" y2="100.4" stroke="#c4203f" stroke-width="0.7" opacity="0.9"/>
<line x1="267.0" y1="56.0" x2="328.3" y2="96.9" stroke="#c4203f" stroke-width="0.7" opacity="0.9"/>
<line x1="267.0" y1="59.0" x2="328.3" y2="94.8" stroke="#c4203f" stroke-width="0.7" opacity="0.9"/>
<line x1="267.0" y1="54.4" x2="328.3" y2="94.1" stroke="#c4203f" stroke-width="0.7" opacity="0.9"/>
<line x1="267.0" y1="59.4" x2="328.3" y2="99.8" stroke="#c4203f" stroke-width="0.7" opacity="0.9"/>
<line x1="267.0" y1="59.2" x2="328.3" y2="98.1" stroke="#c4203f" stroke-width="0.7" opacity="0.9"/>
<line x1="267.0" y1="60.3" x2="328.3" y2="99.6" stroke="#c4203f" stroke-width="0.7" opacity="0.9"/>
<line x1="267.0" y1="57.1" x2="328.3" y2="94.1" stroke="#c4203f" stroke-width="0.7" opacity="0.9"/>
<line x1="267.0" y1="46.5" x2="328.3" y2="86.0" stroke="#c4203f" stroke-width="0.7" opacity="0.9"/>
<line x1="267.0" y1="51.8" x2="328.3" y2="89.5" stroke="#c4203f" stroke-width="0.7" opacity="0.9"/>
<line x1="267.0" y1="59.4" x2="328.3" y2="98.0" stroke="#c4203f" stroke-width="0.7" opacity="0.9"/>
<line x1="267.0" y1="56.0" x2="328.3" y2="96.2" stroke="#c4203f" stroke-width="0.7" opacity="0.9"/>
<line x1="267.0" y1="56.9" x2="328.3" y2="95.8" stroke="#c4203f" stroke-width="0.7" opacity="0.9"/>
<line x1="267.0" y1="46.1" x2="328.3" y2="90.3" stroke="#c4203f" stroke-width="0.7" opacity="0.9"/>
<line x1="267.0" y1="58.0" x2="328.3" y2="96.7" stroke="#c4203f" stroke-width="0.7" opacity="0.9"/>
<line x1="267.0" y1="54.6" x2="328.3" y2="95.3" stroke="#c4203f" stroke-width="0.7" opacity="0.9"/>
<line x1="267.0" y1="47.1" x2="328.3" y2="90.6" stroke="#c4203f" stroke-width="0.7" opacity="0.9"/>
<line x1="267.0" y1="50.0" x2="328.3" y2="88.0" stroke="#c4203f" stroke-width="0.7" opacity="0.9"/>
<line x1="267.0" y1="50.2" x2="328.3" y2="92.8" stroke="#c4203f" stroke-width="0.7" opacity="0.9"/>
<line x1="267.0" y1="49.3" x2="328.3" y2="92.2" stroke="#c4203f" stroke-width="0.7" opacity="0.9"/>
<line x1="267.0" y1="61.6" x2="328.3" y2="99.2" stroke="#c4203f" stroke-width="0.7" opacity="0.9"/>
<line x1="267.0" y1="52.1" x2="328.3" y2="92.4" stroke="#c4203f" stroke-width="0.7" opacity="0.9"/>
<line x1="267.0" y1="56.9" x2="328.3" y2="97.8" stroke="#c4203f" stroke-width="0.7" opacity="0.9"/>
<line x1="267.0" y1="55.9" x2="328.3" y2="96.2" stroke="#c4203f" stroke-width="0.7" opacity="0.9"/>
<line x1="267.0" y1="47.2" x2="328.3" y2="86.6" stroke="#c4203f" stroke-width="0.7" opacity="0.9"/>
<line x1="267.0" y1="50.1" x2="328.3" y2="92.7" stroke="#c4203f" stroke-width="0.7" opacity="0.9"/>
<line x1="267.0" y1="50.9" x2="328.3" y2="92.1" stroke="#c4203f" stroke-width="0.7" opacity="0.9"/>
<line x1="267.0" y1="46.2" x2="328.3" y2="85.2" stroke="#c4203f" stroke-width="0.7" opacity="0.9"/>
<line x1="267.0" y1="50.3" x2="328.3" y2="92.4" stroke="#c4203f" stroke-width="0.7" opacity="0.9"/>
<line x1="267.0" y1="57.1" x2="328.3" y2="97.2" stroke="#c4203f" stroke-width="0.7" opacity="0.9"/>
<line x1="267.0" y1="50.7" x2="328.3" y2="91.6" stroke="#c4203f" stroke-width="0.7" opacity="0.9"/>
<line x1="267.0" y1="53.4" x2="328.3" y2="93.2" stroke="#c4203f" stroke-width="0.7" opacity="0.9"/>
<line x1="267.0" y1="76.5" x2="328.3" y2="144.7" stroke="#c4203f" stroke-width="0.8"/>
<line x1="267.0" y1="100.5" x2="328.3" y2="144.7" stroke="#cf3552" stroke-width="0.7"/>
<line x1="267.0" y1="134.0" x2="328.3" y2="103.0" stroke="#c4203f" stroke-width="0.9"/>
<line x1="267.0" y1="140.2" x2="328.3" y2="99.5" stroke="#c4203f" stroke-width="0.9"/>
<line x1="267.0" y1="144.7" x2="328.3" y2="101.0" stroke="#c4203f" stroke-width="0.9"/>
<line x1="267.0" y1="82.0" x2="328.3" y2="104.0" stroke="#c4203f" stroke-width="0.9"/>
</g>
<circle cx="263.6" cy="68.3" r="1.5" fill="#1d4f86"/>
<circle cx="268.2" cy="60.7" r="1.5" fill="#1d4f86"/>
<circle cx="266.1" cy="71.1" r="1.5" fill="#1d4f86"/>
<circle cx="271.2" cy="69.5" r="1.5" fill="#1d4f86"/>
<circle cx="270.8" cy="64.9" r="1.5" fill="#1d4f86"/>
<circle cx="262.8" cy="63.5" r="1.5" fill="#1d4f86"/>
<circle cx="266.6" cy="67.6" r="1.5" fill="#1d4f86"/>
<circle cx="269.8" cy="62.8" r="1.5" fill="#1d4f86"/>
<circle cx="271.1" cy="67.9" r="1.5" fill="#1d4f86"/>
<circle cx="266.6" cy="63.7" r="1.5" fill="#1d4f86"/>
<circle cx="266.3" cy="58.8" r="1.5" fill="#1d4f86"/>
<circle cx="266.1" cy="59.0" r="1.5" fill="#1d4f86"/>
<circle cx="268.3" cy="61.6" r="1.5" fill="#1d4f86"/>
<circle cx="266.1" cy="59.2" r="1.5" fill="#1d4f86"/>
<circle cx="267.2" cy="70.2" r="1.5" fill="#1d4f86"/>
<circle cx="265.9" cy="61.9" r="1.5" fill="#1d4f86"/>
<circle cx="267.2" cy="62.1" r="1.5" fill="#1d4f86"/>
<circle cx="268.4" cy="60.2" r="1.5" fill="#1d4f86"/>
<circle cx="265.9" cy="61.7" r="1.5" fill="#1d4f86"/>
<circle cx="268.0" cy="71.6" r="1.5" fill="#1d4f86"/>
<circle cx="267.0" cy="61.4" r="1.5" fill="#1d4f86"/>
<circle cx="270.4" cy="62.3" r="1.5" fill="#1d4f86"/>
<circle cx="267.6" cy="58.0" r="1.5" fill="#1d4f86"/>
<circle cx="264.6" cy="64.6" r="1.5" fill="#1d4f86"/>
<circle cx="268.2" cy="60.8" r="1.5" fill="#1d4f86"/>
<circle cx="267.0" cy="58.1" r="1.5" fill="#1d4f86"/>
<circle cx="265.6" cy="59.3" r="1.5" fill="#1d4f86"/>
<circle cx="265.5" cy="58.6" r="1.5" fill="#1d4f86"/>
<circle cx="266.9" cy="62.3" r="1.5" fill="#1d4f86"/>
<circle cx="266.6" cy="66.2" r="1.5" fill="#1d4f86"/>
<circle cx="266.4" cy="70.5" r="1.5" fill="#1d4f86"/>
<circle cx="263.8" cy="69.2" r="1.5" fill="#1d4f86"/>
<circle cx="266.5" cy="70.0" r="1.5" fill="#1d4f86"/>
<circle cx="266.4" cy="72.3" r="1.5" fill="#1d4f86"/>
<circle cx="270.0" cy="65.5" r="1.5" fill="#1d4f86"/>
<circle cx="262.6" cy="64.6" r="1.5" fill="#1d4f86"/>
<circle cx="267.8" cy="73.8" r="1.5" fill="#1d4f86"/>
<circle cx="270.0" cy="62.1" r="1.5" fill="#1d4f86"/>
<circle cx="265.9" cy="70.1" r="1.5" fill="#1d4f86"/>
<path d="M266,58 L262,62.5 L261.5,66.5 L264,70 L267,73 L270,70 L272.5,66 L271.5,62 L268.5,58 Z" fill="#1d4f86" stroke="none" stroke-width="1"/>
<circle cx="329.0" cy="123.4" r="1.5" fill="#1d4f86"/>
<circle cx="328.6" cy="120.6" r="1.5" fill="#1d4f86"/>
<circle cx="328.9" cy="106.9" r="1.5" fill="#1d4f86"/>
<circle cx="328.0" cy="119.0" r="1.5" fill="#1d4f86"/>
<circle cx="328.1" cy="133.9" r="1.5" fill="#1d4f86"/>
<circle cx="328.1" cy="121.7" r="1.5" fill="#1d4f86"/>
<circle cx="329.1" cy="139.4" r="1.5" fill="#1d4f86"/>
<circle cx="328.4" cy="133.8" r="1.5" fill="#1d4f86"/>
<circle cx="328.1" cy="126.5" r="1.5" fill="#1d4f86"/>
<circle cx="328.2" cy="115.9" r="1.5" fill="#1d4f86"/>
<circle cx="327.9" cy="107.8" r="1.5" fill="#1d4f86"/>
<circle cx="327.6" cy="130.4" r="1.5" fill="#1d4f86"/>
<circle cx="327.7" cy="109.0" r="1.5" fill="#1d4f86"/>
<circle cx="328.8" cy="134.1" r="1.5" fill="#1d4f86"/>
<circle cx="328.0" cy="127.8" r="1.5" fill="#1d4f86"/>
<circle cx="329.0" cy="112.0" r="1.5" fill="#1d4f86"/>
<circle cx="327.9" cy="120.0" r="1.5" fill="#1d4f86"/>
<circle cx="327.9" cy="119.5" r="1.5" fill="#1d4f86"/>
<circle cx="328.3" cy="138.6" r="1.5" fill="#1d4f86"/>
<circle cx="327.8" cy="123.2" r="1.5" fill="#1d4f86"/>
<circle cx="328.1" cy="138.7" r="1.5" fill="#1d4f86"/>
<circle cx="329.0" cy="116.2" r="1.5" fill="#1d4f86"/>
<circle cx="328.9" cy="117.1" r="1.5" fill="#1d4f86"/>
<circle cx="328.8" cy="121.6" r="1.5" fill="#1d4f86"/>
<circle cx="328.5" cy="121.7" r="1.5" fill="#1d4f86"/>
<circle cx="329.0" cy="112.8" r="1.5" fill="#1d4f86"/>
<circle cx="329.0" cy="117.8" r="1.5" fill="#1d4f86"/>
<circle cx="328.4" cy="103.8" r="1.5" fill="#1d4f86"/>
<circle cx="328.7" cy="111.6" r="1.5" fill="#1d4f86"/>
<circle cx="327.6" cy="122.6" r="1.5" fill="#1d4f86"/>
<circle cx="267.5" cy="38.5" r="1.5" fill="#c4203f"/>
<circle cx="266.9" cy="43.5" r="1.5" fill="#c4203f"/>
<circle cx="268.7" cy="59.4" r="1.5" fill="#c4203f"/>
<circle cx="268.0" cy="56.0" r="1.5" fill="#c4203f"/>
<circle cx="265.5" cy="59.0" r="1.5" fill="#c4203f"/>
<circle cx="263.9" cy="54.4" r="1.5" fill="#c4203f"/>
<circle cx="269.9" cy="59.4" r="1.5" fill="#c4203f"/>
<circle cx="264.5" cy="59.2" r="1.5" fill="#c4203f"/>
<circle cx="266.9" cy="60.3" r="1.5" fill="#c4203f"/>
<circle cx="265.9" cy="57.1" r="1.5" fill="#c4203f"/>
<circle cx="266.6" cy="46.5" r="1.5" fill="#c4203f"/>
<circle cx="268.6" cy="51.8" r="1.5" fill="#c4203f"/>
<circle cx="270.2" cy="59.4" r="1.5" fill="#c4203f"/>
<circle cx="265.4" cy="56.0" r="1.5" fill="#c4203f"/>
<circle cx="268.1" cy="56.9" r="1.5" fill="#c4203f"/>
<circle cx="266.6" cy="46.1" r="1.5" fill="#c4203f"/>
<circle cx="267.4" cy="58.0" r="1.5" fill="#c4203f"/>
<circle cx="266.3" cy="54.6" r="1.5" fill="#c4203f"/>
<circle cx="266.3" cy="47.1" r="1.5" fill="#c4203f"/>
<circle cx="264.7" cy="50.0" r="1.5" fill="#c4203f"/>
<circle cx="265.0" cy="50.2" r="1.5" fill="#c4203f"/>
<circle cx="269.8" cy="49.3" r="1.5" fill="#c4203f"/>
<circle cx="267.0" cy="61.6" r="1.5" fill="#c4203f"/>
<circle cx="265.1" cy="52.1" r="1.5" fill="#c4203f"/>
<circle cx="269.8" cy="56.9" r="1.5" fill="#c4203f"/>
<circle cx="270.4" cy="55.9" r="1.5" fill="#c4203f"/>
<circle cx="266.9" cy="47.2" r="1.5" fill="#c4203f"/>
<circle cx="264.5" cy="50.1" r="1.5" fill="#c4203f"/>
<circle cx="264.9" cy="50.9" r="1.5" fill="#c4203f"/>
<circle cx="266.2" cy="46.2" r="1.5" fill="#c4203f"/>
<circle cx="265.9" cy="50.3" r="1.5" fill="#c4203f"/>
<circle cx="264.2" cy="57.1" r="1.5" fill="#c4203f"/>
<circle cx="265.2" cy="50.7" r="1.5" fill="#c4203f"/>
<circle cx="265.4" cy="53.4" r="1.5" fill="#c4203f"/>
<path d="M265.5,46 L263,51 L263.5,57 L266,61 L269,60 L271.5,55 L271,50 L268.5,46 Z" fill="#c4203f" stroke="none" stroke-width="1"/>
<circle cx="328.6" cy="83.9" r="1.5" fill="#c4203f"/>
<circle cx="330.0" cy="83.2" r="1.5" fill="#c4203f"/>
<circle cx="329.4" cy="100.4" r="1.5" fill="#c4203f"/>
<circle cx="327.9" cy="96.9" r="1.5" fill="#c4203f"/>
<circle cx="327.9" cy="94.8" r="1.5" fill="#c4203f"/>
<circle cx="328.4" cy="94.1" r="1.5" fill="#c4203f"/>
<circle cx="327.8" cy="99.8" r="1.5" fill="#c4203f"/>
<circle cx="327.6" cy="98.1" r="1.5" fill="#c4203f"/>
<circle cx="326.4" cy="99.6" r="1.5" fill="#c4203f"/>
<circle cx="327.3" cy="94.1" r="1.5" fill="#c4203f"/>
<circle cx="330.4" cy="86.0" r="1.5" fill="#c4203f"/>
<circle cx="326.7" cy="89.5" r="1.5" fill="#c4203f"/>
<circle cx="328.3" cy="98.0" r="1.5" fill="#c4203f"/>
<circle cx="328.9" cy="96.2" r="1.5" fill="#c4203f"/>
<circle cx="329.9" cy="95.8" r="1.5" fill="#c4203f"/>
<circle cx="327.1" cy="90.3" r="1.5" fill="#c4203f"/>
<circle cx="327.3" cy="96.7" r="1.5" fill="#c4203f"/>
<circle cx="327.2" cy="95.3" r="1.5" fill="#c4203f"/>
<circle cx="327.9" cy="90.6" r="1.5" fill="#c4203f"/>
<circle cx="328.1" cy="88.0" r="1.5" fill="#c4203f"/>
<circle cx="330.3" cy="92.8" r="1.5" fill="#c4203f"/>
<circle cx="329.8" cy="92.2" r="1.5" fill="#c4203f"/>
<circle cx="329.9" cy="99.2" r="1.5" fill="#c4203f"/>
<circle cx="326.2" cy="92.4" r="1.5" fill="#c4203f"/>
<circle cx="326.2" cy="97.8" r="1.5" fill="#c4203f"/>
<circle cx="329.2" cy="96.2" r="1.5" fill="#c4203f"/>
<circle cx="330.0" cy="86.6" r="1.5" fill="#c4203f"/>
<circle cx="328.2" cy="92.7" r="1.5" fill="#c4203f"/>
<circle cx="328.7" cy="92.1" r="1.5" fill="#c4203f"/>
<circle cx="326.1" cy="85.2" r="1.5" fill="#c4203f"/>
<circle cx="327.8" cy="92.4" r="1.5" fill="#c4203f"/>
<circle cx="330.2" cy="97.2" r="1.5" fill="#c4203f"/>
<circle cx="329.7" cy="91.6" r="1.5" fill="#c4203f"/>
<circle cx="329.9" cy="93.2" r="1.5" fill="#c4203f"/>
<path d="M327.3,82 L325.3,88 L325.7,96 L328.3,101 L330.7,96 L331.3,88 L329.3,82 Z" fill="#c4203f" stroke="none" stroke-width="1"/>
<circle cx="267.0" cy="100.5" r="1.5" fill="#c4203f"/>
<circle cx="267.0" cy="134.0" r="1.5" fill="#c4203f"/>
<circle cx="267.0" cy="140.2" r="1.5" fill="#c4203f"/>
<circle cx="267.0" cy="144.7" r="1.5" fill="#c4203f"/>
<circle cx="328.3" cy="144.7" r="1.5" fill="#c4203f"/>
<circle cx="267.0" cy="82.0" r="1.5" fill="#c4203f"/>
<circle cx="267.0" cy="76.5" r="1.5" fill="#c4203f"/>
<circle cx="267.0" cy="85.0" r="1.5" fill="#1d4f86"/>
<circle cx="267.0" cy="93.0" r="1.5" fill="#1d4f86"/>
<circle cx="267.3" cy="94.5" r="1.5" fill="#1d4f86"/>
<circle cx="328.3" cy="118.0" r="1.5" fill="#1d4f86"/>
<circle cx="328.3" cy="131.0" r="1.5" fill="#1d4f86"/>
<line x1="230.0" y1="31.0" x2="230.0" y2="144.7" stroke="#111" stroke-width="1.1"/>
<line x1="226.8" y1="60.5" x2="233.1" y2="60.5" stroke="#111" stroke-width="1.0"/>
<text x="225.1" y="63.3" font-size="7.9" font-weight="normal" text-anchor="end" fill="#111" textLength="14.1" lengthAdjust="spacingAndGlyphs">10.0</text>
<line x1="226.8" y1="94.8" x2="233.1" y2="94.8" stroke="#111" stroke-width="1.0"/>
<text x="225.1" y="97.6" font-size="7.9" font-weight="normal" text-anchor="end" fill="#111" textLength="10.0" lengthAdjust="spacingAndGlyphs">1.0</text>
<line x1="226.8" y1="129.0" x2="233.1" y2="129.0" stroke="#111" stroke-width="1.0"/>
<text x="225.1" y="131.8" font-size="7.9" font-weight="normal" text-anchor="end" fill="#111" textLength="10.0" lengthAdjust="spacingAndGlyphs">0.1</text>
<line x1="230.0" y1="50.2" x2="231.7" y2="50.2" stroke="#111" stroke-width="0.5"/>
<line x1="230.0" y1="44.2" x2="231.7" y2="44.2" stroke="#111" stroke-width="0.5"/>
<line x1="230.0" y1="39.9" x2="231.7" y2="39.9" stroke="#111" stroke-width="0.5"/>
<line x1="230.0" y1="36.6" x2="231.7" y2="36.6" stroke="#111" stroke-width="0.5"/>
<line x1="230.0" y1="33.9" x2="231.7" y2="33.9" stroke="#111" stroke-width="0.5"/>
<line x1="230.0" y1="31.6" x2="231.7" y2="31.6" stroke="#111" stroke-width="0.5"/>
<line x1="230.0" y1="84.5" x2="231.7" y2="84.5" stroke="#111" stroke-width="0.5"/>
<line x1="230.0" y1="78.5" x2="231.7" y2="78.5" stroke="#111" stroke-width="0.5"/>
<line x1="230.0" y1="74.2" x2="231.7" y2="74.2" stroke="#111" stroke-width="0.5"/>
<line x1="230.0" y1="70.9" x2="231.7" y2="70.9" stroke="#111" stroke-width="0.5"/>
<line x1="230.0" y1="68.2" x2="231.7" y2="68.2" stroke="#111" stroke-width="0.5"/>
<line x1="230.0" y1="65.9" x2="231.7" y2="65.9" stroke="#111" stroke-width="0.5"/>
<line x1="230.0" y1="63.9" x2="231.7" y2="63.9" stroke="#111" stroke-width="0.5"/>
<line x1="230.0" y1="62.2" x2="231.7" y2="62.2" stroke="#111" stroke-width="0.5"/>
<line x1="230.0" y1="118.7" x2="231.7" y2="118.7" stroke="#111" stroke-width="0.5"/>
<line x1="230.0" y1="112.7" x2="231.7" y2="112.7" stroke="#111" stroke-width="0.5"/>
<line x1="230.0" y1="108.4" x2="231.7" y2="108.4" stroke="#111" stroke-width="0.5"/>
<line x1="230.0" y1="105.1" x2="231.7" y2="105.1" stroke="#111" stroke-width="0.5"/>
<line x1="230.0" y1="102.4" x2="231.7" y2="102.4" stroke="#111" stroke-width="0.5"/>
<line x1="230.0" y1="100.1" x2="231.7" y2="100.1" stroke="#111" stroke-width="0.5"/>
<line x1="230.0" y1="98.1" x2="231.7" y2="98.1" stroke="#111" stroke-width="0.5"/>
<line x1="230.0" y1="96.4" x2="231.7" y2="96.4" stroke="#111" stroke-width="0.5"/>
<line x1="230.0" y1="142.6" x2="231.7" y2="142.6" stroke="#111" stroke-width="0.5"/>
<line x1="230.0" y1="139.3" x2="231.7" y2="139.3" stroke="#111" stroke-width="0.5"/>
<line x1="230.0" y1="136.6" x2="231.7" y2="136.6" stroke="#111" stroke-width="0.5"/>
<line x1="230.0" y1="134.3" x2="231.7" y2="134.3" stroke="#111" stroke-width="0.5"/>
<line x1="230.0" y1="132.3" x2="231.7" y2="132.3" stroke="#111" stroke-width="0.5"/>
<line x1="230.0" y1="130.6" x2="231.7" y2="130.6" stroke="#111" stroke-width="0.5"/>
<line x1="229.5" y1="144.7" x2="366.0" y2="144.7" stroke="#111" stroke-width="1.1"/>
<text x="231.5" y="78.6" font-size="6.0" font-weight="normal" text-anchor="start" fill="#111" textLength="32.5" lengthAdjust="spacingAndGlyphs" stroke="#fff" stroke-width="1.6" paint-order="stroke">MYC S197N</text>
<text x="246.5" y="115.0" font-size="6.0" font-weight="normal" text-anchor="start" fill="#111" textLength="33.0" lengthAdjust="spacingAndGlyphs">MYC S197N</text>
<line x1="280.0" y1="112.5" x2="322.0" y2="105.0" stroke="#111" stroke-width="0.65"/>
<text x="233.5" y="128.0" font-size="6.0" font-weight="normal" text-anchor="start" fill="#111" textLength="34.0" lengthAdjust="spacingAndGlyphs">MYC N215S</text>
<line x1="258.0" y1="130.0" x2="266.5" y2="143.5" stroke="#111" stroke-width="0.65"/>
<text x="278.5" y="143.5" font-size="6.0" font-weight="normal" text-anchor="start" fill="#111" textLength="34.0" lengthAdjust="spacingAndGlyphs">MYC Y212Y</text>
<line x1="269.0" y1="141.0" x2="277.0" y2="141.5" stroke="#111" stroke-width="0.65"/>
<text x="340.0" y="98.5" font-size="6.0" font-weight="normal" text-anchor="start" fill="#111" textLength="35.0" lengthAdjust="spacingAndGlyphs">MYC N215S</text>
<line x1="331.0" y1="102.0" x2="338.0" y2="97.5" stroke="#111" stroke-width="0.65"/>
<text x="340.0" y="117.5" font-size="6.0" font-weight="normal" text-anchor="start" fill="#111" textLength="35.0" lengthAdjust="spacingAndGlyphs">MYC Y212Y</text>
<line x1="330.0" y1="105.0" x2="338.0" y2="113.0" stroke="#111" stroke-width="0.65"/>
<text x="266.5" y="156.3" font-size="7.4" font-weight="normal" text-anchor="middle" fill="#111" textLength="46.0" lengthAdjust="spacingAndGlyphs">Pretreatment</text>
<text x="328.3" y="156.3" font-size="7.4" font-weight="normal" text-anchor="middle" fill="#111" textLength="36.0" lengthAdjust="spacingAndGlyphs">At relapse</text>
<path d="M267,159 V166 H217.3 V173" fill="none" stroke="#111" stroke-width="0.8" stroke-dasharray="0.9,0.8"/>
<path d="M328.3,159 V164 L330.4,167 V173" fill="none" stroke="#111" stroke-width="0.8" stroke-dasharray="0.9,0.8"/>
<path d="M331,98 L343,71.6 H384" fill="none" stroke="#111" stroke-width="1.0" stroke-dasharray="2.3,2.0"/>
<line x1="217.3" y1="173.5" x2="217.3" y2="207.0" stroke="#d2d2d2" stroke-width="0.8"/>
<line x1="234.1" y1="173.5" x2="234.1" y2="207.0" stroke="#d2d2d2" stroke-width="0.8"/>
<line x1="250.8" y1="173.5" x2="250.8" y2="207.0" stroke="#d2d2d2" stroke-width="0.8"/>
<line x1="267.6" y1="173.5" x2="267.6" y2="207.0" stroke="#d2d2d2" stroke-width="0.8"/>
<line x1="284.3" y1="173.5" x2="284.3" y2="207.0" stroke="#d2d2d2" stroke-width="0.8"/>
<line x1="301.1" y1="173.5" x2="301.1" y2="207.0" stroke="#d2d2d2" stroke-width="0.8"/>
<line x1="317.8" y1="173.5" x2="317.8" y2="207.0" stroke="#d2d2d2" stroke-width="0.8"/>
<line x1="334.6" y1="173.5" x2="334.6" y2="207.0" stroke="#d2d2d2" stroke-width="0.8"/>
<line x1="351.3" y1="173.5" x2="351.3" y2="207.0" stroke="#d2d2d2" stroke-width="0.8"/>
<line x1="217.3" y1="190.4" x2="379.5" y2="190.4" stroke="#d0d0d0" stroke-width="0.6"/>
<line x1="217.3" y1="190.4" x2="362.5" y2="190.4" stroke="#111" stroke-width="1.2"/>
<rect x="214.5" y="183.3" width="5.6" height="14.6" fill="#f0b81e"/>
<rect x="214.5" y="197.6" width="5.6" height="5.2" fill="#c41f3a"/>
<rect x="213.7" y="177.5" width="7.2" height="2.8" fill="#2e9a48" rx="1"/>
<rect x="327.4" y="183.3" width="5.6" height="14.6" fill="#f0b81e"/>
<rect x="327.4" y="197.6" width="5.6" height="5.2" fill="#c41f3a"/>
<rect x="326.6" y="177.5" width="7.2" height="2.8" fill="#2e9a48" rx="1"/>
<path d="M323.25,190.4 L327.85,185.8 L332.45000000000005,190.4 L327.85,195.0 Z" fill="#f6c46a" stroke="#f09a25" stroke-width="0.9"/>
<path d="M361.3,186.6 L369.3,190.4 L361.3,194.20000000000002 Z" fill="#86aed6" stroke="#4a80b8" stroke-width="0.7"/>
<text x="217.3" y="216.6" font-size="8.6" font-weight="normal" text-anchor="middle" fill="#111" textLength="4.2" lengthAdjust="spacingAndGlyphs">0</text>
<text x="250.8" y="216.6" font-size="8.6" font-weight="normal" text-anchor="middle" fill="#111" textLength="8.8" lengthAdjust="spacingAndGlyphs">10</text>
<text x="284.3" y="216.6" font-size="8.6" font-weight="normal" text-anchor="middle" fill="#111" textLength="8.8" lengthAdjust="spacingAndGlyphs">20</text>
<text x="317.8" y="216.6" font-size="8.6" font-weight="normal" text-anchor="middle" fill="#111" textLength="8.8" lengthAdjust="spacingAndGlyphs">30</text>
<text x="351.3" y="216.6" font-size="8.6" font-weight="normal" text-anchor="middle" fill="#111" textLength="8.8" lengthAdjust="spacingAndGlyphs">40</text>
<text x="288.0" y="230.2" font-size="8.6" font-weight="normal" text-anchor="middle" fill="#111" textLength="64.0" lengthAdjust="spacingAndGlyphs" stroke="#111" stroke-width="0.2">Follow-up (months)</text>
<text x="10.5" y="238.6" font-size="6.6" font-weight="bold" text-anchor="start" fill="#111" textLength="15.0" lengthAdjust="spacingAndGlyphs">Key:</text>
<text x="10.5" y="247.3" font-size="6.6" font-weight="bold" text-anchor="start" fill="#111" textLength="31.0" lengthAdjust="spacingAndGlyphs">Mutation</text>
<line x1="45.0" y1="245.0" x2="53.0" y2="245.0" stroke="#1d4f86" stroke-width="0.8"/>
<circle cx="49.0" cy="245.0" r="1.5" fill="#1d4f86"/>
<text x="55.5" y="247.3" font-size="6.6" font-weight="normal" text-anchor="start" fill="#111" textLength="53.5" lengthAdjust="spacingAndGlyphs">Immunoglobulin</text>
<line x1="118.0" y1="245.0" x2="125.5" y2="245.0" stroke="#c4203f" stroke-width="0.8"/>
<circle cx="121.8" cy="245.0" r="1.5" fill="#c4203f"/>
<text x="128.5" y="247.3" font-size="6.6" font-weight="normal" text-anchor="start" fill="#111" textLength="38.5" lengthAdjust="spacingAndGlyphs">Driver gene</text>
<text x="184.5" y="247.3" font-size="6.6" font-weight="bold" text-anchor="start" fill="#111" textLength="34.0" lengthAdjust="spacingAndGlyphs">Follow-up</text>
<path d="M222.3,245 L226,241.3 L229.7,245 L226,248.7 Z" fill="#f8c977" stroke="#f09a25" stroke-width="0.8"/>
<text x="231.5" y="247.3" font-size="6.6" font-weight="normal" text-anchor="start" fill="#111" textLength="26.0" lengthAdjust="spacingAndGlyphs">Relapse</text>
<rect x="265.3" y="241.2" width="7.6" height="7.6" fill="#e9899b" stroke="#c8324d" stroke-width="0.8"/>
<text x="275.5" y="247.3" font-size="6.6" font-weight="normal" text-anchor="start" fill="#111" textLength="19.5" lengthAdjust="spacingAndGlyphs">Death</text>
<path d="M302.8,241.2 L308.6,245 L302.8,248.8 Z" fill="#8db4da" stroke="#3e77b3" stroke-width="0.8"/>
<text x="310.0" y="247.3" font-size="6.6" font-weight="normal" text-anchor="start" fill="#111" textLength="16.0" lengthAdjust="spacingAndGlyphs">Alive</text>
<text x="377.2" y="16.3" font-size="11.3" font-weight="bold" text-anchor="start" fill="#111" textLength="7.6" lengthAdjust="spacingAndGlyphs">C</text>
<text x="388.0" y="43.2" font-size="7.6" font-weight="normal" text-anchor="start" fill="#111" textLength="74.0" lengthAdjust="spacingAndGlyphs">IGV: Plasma at relapse</text>
<line x1="384.7" y1="36.0" x2="384.7" y2="119.5" stroke="#111" stroke-width="1.2" stroke-dasharray="2.0,2.0"/>
<rect x="390.2" y="47.9" width="12.5" height="1.3" fill="#888" opacity="0.6"/>
<line x1="405.0" y1="49.0" x2="405.0" y2="51.0" stroke="#888" stroke-width="0.4"/>
<rect x="407.4" y="47.9" width="12.5" height="1.3" fill="#888" opacity="0.6"/>
<line x1="422.2" y1="49.0" x2="422.2" y2="51.0" stroke="#888" stroke-width="0.4"/>
<rect x="424.6" y="47.9" width="12.5" height="1.3" fill="#888" opacity="0.6"/>
<line x1="439.4" y1="49.0" x2="439.4" y2="51.0" stroke="#888" stroke-width="0.4"/>
<rect x="441.8" y="47.9" width="12.5" height="1.3" fill="#888" opacity="0.6"/>
<line x1="456.6" y1="49.0" x2="456.6" y2="51.0" stroke="#888" stroke-width="0.4"/>
<rect x="459.0" y="47.9" width="12.5" height="1.3" fill="#888" opacity="0.6"/>
<line x1="473.8" y1="49.0" x2="473.8" y2="51.0" stroke="#888" stroke-width="0.4"/>
<rect x="476.2" y="47.9" width="12.5" height="1.3" fill="#888" opacity="0.6"/>
<line x1="491.0" y1="49.0" x2="491.0" y2="51.0" stroke="#888" stroke-width="0.4"/>
<rect x="493.4" y="47.9" width="12.5" height="1.3" fill="#888" opacity="0.6"/>
<line x1="508.2" y1="49.0" x2="508.2" y2="51.0" stroke="#888" stroke-width="0.4"/>
<rect x="510.6" y="47.9" width="-3.1" height="1.3" fill="#888" opacity="0.6"/>
<line x1="509.8" y1="49.0" x2="509.8" y2="51.0" stroke="#888" stroke-width="0.4"/>
<line x1="388.2" y1="50.8" x2="508.0" y2="50.8" stroke="#cfcfcf" stroke-width="0.5"/>
<rect x="388.2" y="52.3" width="119.8" height="2.6" fill="#dcdcdc"/>
<rect x="388.2" y="56.1" width="119.8" height="6.8" fill="#a9a9a9"/>
<path d="M389.5,56.1V62.9M390.8,56.1V62.9M392.1,56.1V62.9M393.4,56.1V62.9M394.7,56.1V62.9M396.0,56.1V62.9M397.3,56.1V62.9M398.6,56.1V62.9M399.9,56.1V62.9M401.2,56.1V62.9M402.5,56.1V62.9M403.8,56.1V62.9M405.1,56.1V62.9M406.4,56.1V62.9M407.7,56.1V62.9M409.0,56.1V62.9M410.3,56.1V62.9M411.6,56.1V62.9M412.9,56.1V62.9M414.2,56.1V62.9M415.5,56.1V62.9M416.8,56.1V62.9M418.1,56.1V62.9M419.4,56.1V62.9M420.7,56.1V62.9M422.0,56.1V62.9M423.3,56.1V62.9M424.6,56.1V62.9M425.9,56.1V62.9M427.2,56.1V62.9M428.5,56.1V62.9M429.8,56.1V62.9M431.1,56.1V62.9M432.4,56.1V62.9M433.7,56.1V62.9M435.0,56.1V62.9M436.3,56.1V62.9M437.6,56.1V62.9M438.9,56.1V62.9M440.2,56.1V62.9M441.5,56.1V62.9M442.8,56.1V62.9M444.1,56.1V62.9M445.4,56.1V62.9M446.7,56.1V62.9M448.0,56.1V62.9M449.3,56.1V62.9M450.6,56.1V62.9M451.9,56.1V62.9M453.2,56.1V62.9M454.5,56.1V62.9M455.8,56.1V62.9M457.1,56.1V62.9M458.4,56.1V62.9M459.7,56.1V62.9M461.0,56.1V62.9M462.3,56.1V62.9M463.6,56.1V62.9M464.9,56.1V62.9M466.2,56.1V62.9M467.5,56.1V62.9M468.8,56.1V62.9M470.1,56.1V62.9M471.4,56.1V62.9M472.7,56.1V62.9M474.0,56.1V62.9M475.3,56.1V62.9M476.6,56.1V62.9M477.9,56.1V62.9M479.2,56.1V62.9M480.5,56.1V62.9M481.8,56.1V62.9M483.1,56.1V62.9M484.4,56.1V62.9M485.7,56.1V62.9M487.0,56.1V62.9M488.3,56.1V62.9M489.6,56.1V62.9M490.9,56.1V62.9M492.2,56.1V62.9M493.5,56.1V62.9M494.8,56.1V62.9M496.1,56.1V62.9M497.4,56.1V62.9M498.7,56.1V62.9M500.0,56.1V62.9M501.3,56.1V62.9M502.6,56.1V62.9M503.9,56.1V62.9M505.2,56.1V62.9M506.5,56.1V62.9" stroke="#bcbcbc" stroke-width="0.4"/>
<rect x="400.8" y="56.1" width="1.9" height="6.8" fill="#e8871c"/>
<rect x="483.0" y="56.1" width="1.8" height="6.8" fill="#1f35e8"/>
<rect x="497.1" y="56.1" width="1.7" height="6.8" fill="#1fa02c"/>
<rect x="388.2" y="63.8" width="119.8" height="28.0" fill="#c7c7c7"/>
<line x1="388.2" y1="63.8" x2="508.0" y2="63.8" stroke="#e3e3e3" stroke-width="0.55"/>
<line x1="388.2" y1="66.3" x2="508.0" y2="66.3" stroke="#e3e3e3" stroke-width="0.55"/>
<line x1="388.2" y1="68.9" x2="508.0" y2="68.9" stroke="#e3e3e3" stroke-width="0.55"/>
<line x1="388.2" y1="71.4" x2="508.0" y2="71.4" stroke="#e3e3e3" stroke-width="0.55"/>
<line x1="388.2" y1="74.0" x2="508.0" y2="74.0" stroke="#e3e3e3" stroke-width="0.55"/>
<line x1="388.2" y1="76.5" x2="508.0" y2="76.5" stroke="#e3e3e3" stroke-width="0.55"/>
<line x1="388.2" y1="79.0" x2="508.0" y2="79.0" stroke="#e3e3e3" stroke-width="0.55"/>
<line x1="388.2" y1="81.6" x2="508.0" y2="81.6" stroke="#e3e3e3" stroke-width="0.55"/>
<line x1="388.2" y1="84.1" x2="508.0" y2="84.1" stroke="#e3e3e3" stroke-width="0.55"/>
<line x1="388.2" y1="86.7" x2="508.0" y2="86.7" stroke="#e3e3e3" stroke-width="0.55"/>
<line x1="388.2" y1="89.2" x2="508.0" y2="89.2" stroke="#e3e3e3" stroke-width="0.55"/>
<line x1="388.2" y1="91.7" x2="508.0" y2="91.7" stroke="#e3e3e3" stroke-width="0.55"/>
<rect x="410.9" y="66.3" width="6.1" height="2.6" fill="#fdfdfd"/>
<rect x="423.0" y="76.5" width="16.3" height="2.5" fill="#fdfdfd"/>
<rect x="490.2" y="68.9" width="4.9" height="2.5" fill="#fdfdfd"/>
<rect x="497.1" y="71.5" width="6.7" height="4.9" fill="#fdfdfd"/>
<rect x="461.4" y="84.1" width="46.6" height="2.5" fill="#fdfdfd"/>
<rect x="462.2" y="86.6" width="45.8" height="2.6" fill="#fdfdfd"/>
<rect x="401.4" y="64.6" width="1.1" height="1.2" fill="#6f6ff2"/>
<rect x="401.4" y="67.1" width="1.1" height="1.2" fill="#6f6ff2"/>
<rect x="401.4" y="69.7" width="1.1" height="1.2" fill="#6f6ff2"/>
<rect x="401.4" y="72.2" width="1.1" height="1.2" fill="#6f6ff2"/>
<rect x="401.4" y="74.8" width="1.1" height="1.2" fill="#6f6ff2"/>
<rect x="401.4" y="77.3" width="1.1" height="1.2" fill="#6f6ff2"/>
<rect x="401.4" y="79.8" width="1.1" height="1.2" fill="#6f6ff2"/>
<rect x="401.4" y="82.4" width="1.1" height="1.2" fill="#6f6ff2"/>
<rect x="401.4" y="84.9" width="1.1" height="1.2" fill="#6f6ff2"/>
<rect x="401.4" y="87.5" width="1.1" height="1.2" fill="#6f6ff2"/>
<rect x="401.4" y="90.0" width="1.1" height="1.2" fill="#6f6ff2"/>
<rect x="483.4" y="64.6" width="1.2" height="1.1" fill="#e05a5a"/>
<rect x="483.4" y="69.7" width="1.2" height="1.1" fill="#e05a5a"/>
<rect x="483.4" y="72.2" width="1.2" height="1.1" fill="#e05a5a"/>
<rect x="483.4" y="74.8" width="1.2" height="1.1" fill="#e05a5a"/>
<rect x="483.4" y="79.8" width="1.2" height="1.1" fill="#e05a5a"/>
<rect x="483.4" y="82.4" width="1.2" height="1.1" fill="#e05a5a"/>
<rect x="483.4" y="90.0" width="1.2" height="1.1" fill="#e05a5a"/>
<rect x="497.4" y="64.6" width="1.3" height="1.1" fill="#e39a4a"/>
<rect x="497.4" y="79.8" width="1.3" height="1.1" fill="#e39a4a"/>
<rect x="497.4" y="82.4" width="1.3" height="1.1" fill="#e39a4a"/>
<rect x="497.4" y="90.0" width="1.3" height="1.1" fill="#e39a4a"/>
<rect x="388.8" y="93.0" width="1.0" height="1.0" fill="#e85a5a" opacity="0.75"/>
<rect x="390.8" y="93.0" width="1.0" height="1.0" fill="#3c5fe8" opacity="0.75"/>
<rect x="392.8" y="93.0" width="1.0" height="1.0" fill="#e8a03c" opacity="0.75"/>
<rect x="394.8" y="93.0" width="1.0" height="1.0" fill="#3c5fe8" opacity="0.75"/>
<rect x="396.8" y="93.0" width="1.0" height="1.0" fill="#3c5fe8" opacity="0.75"/>
<rect x="398.8" y="93.0" width="1.0" height="1.0" fill="#3c5fe8" opacity="0.75"/>
<rect x="400.8" y="93.0" width="1.0" height="1.0" fill="#e8a03c" opacity="0.75"/>
<rect x="402.8" y="93.0" width="1.0" height="1.0" fill="#6f7df0" opacity="0.75"/>
<rect x="404.8" y="93.0" width="1.0" height="1.0" fill="#e8a03c" opacity="0.75"/>
<rect x="406.8" y="93.0" width="1.0" height="1.0" fill="#6f7df0" opacity="0.75"/>
<rect x="408.8" y="93.0" width="1.0" height="1.0" fill="#6f7df0" opacity="0.75"/>
<rect x="410.8" y="93.0" width="1.0" height="1.0" fill="#6f7df0" opacity="0.75"/>
<rect x="412.8" y="93.0" width="1.0" height="1.0" fill="#e85a5a" opacity="0.75"/>
<rect x="414.8" y="93.0" width="1.0" height="1.0" fill="#e8a03c" opacity="0.75"/>
<rect x="416.8" y="93.0" width="1.0" height="1.0" fill="#e8a03c" opacity="0.75"/>
<rect x="418.8" y="93.0" width="1.0" height="1.0" fill="#e8a03c" opacity="0.75"/>
<rect x="420.8" y="93.0" width="1.0" height="1.0" fill="#e8a03c" opacity="0.75"/>
<rect x="422.8" y="93.0" width="1.0" height="1.0" fill="#3c5fe8" opacity="0.75"/>
<rect x="424.8" y="93.0" width="1.0" height="1.0" fill="#3c5fe8" opacity="0.75"/>
<rect x="426.8" y="93.0" width="1.0" height="1.0" fill="#e8a03c" opacity="0.75"/>
<rect x="428.8" y="93.0" width="1.0" height="1.0" fill="#e8a03c" opacity="0.75"/>
<rect x="430.8" y="93.0" width="1.0" height="1.0" fill="#6f7df0" opacity="0.75"/>
<rect x="432.8" y="93.0" width="1.0" height="1.0" fill="#6f7df0" opacity="0.75"/>
<rect x="434.8" y="93.0" width="1.0" height="1.0" fill="#3cb84a" opacity="0.75"/>
<rect x="436.8" y="93.0" width="1.0" height="1.0" fill="#3c5fe8" opacity="0.75"/>
<rect x="438.8" y="93.0" width="1.0" height="1.0" fill="#6f7df0" opacity="0.75"/>
<rect x="440.8" y="93.0" width="1.0" height="1.0" fill="#3cb84a" opacity="0.75"/>
<rect x="442.8" y="93.0" width="1.0" height="1.0" fill="#e8a03c" opacity="0.75"/>
<rect x="444.8" y="93.0" width="1.0" height="1.0" fill="#6f7df0" opacity="0.75"/>
<rect x="446.8" y="93.0" width="1.0" height="1.0" fill="#e85a5a" opacity="0.75"/>
<rect x="448.8" y="93.0" width="1.0" height="1.0" fill="#6f7df0" opacity="0.75"/>
<rect x="450.8" y="93.0" width="1.0" height="1.0" fill="#e8a03c" opacity="0.75"/>
<rect x="452.8" y="93.0" width="1.0" height="1.0" fill="#e8a03c" opacity="0.75"/>
<rect x="454.8" y="93.0" width="1.0" height="1.0" fill="#e8a03c" opacity="0.75"/>
<rect x="456.8" y="93.0" width="1.0" height="1.0" fill="#3cb84a" opacity="0.75"/>
<rect x="458.8" y="93.0" width="1.0" height="1.0" fill="#e8a03c" opacity="0.75"/>
<rect x="460.8" y="93.0" width="1.0" height="1.0" fill="#e8a03c" opacity="0.75"/>
<rect x="462.8" y="93.0" width="1.0" height="1.0" fill="#3c5fe8" opacity="0.75"/>
<rect x="464.8" y="93.0" width="1.0" height="1.0" fill="#e85a5a" opacity="0.75"/>
<rect x="466.8" y="93.0" width="1.0" height="1.0" fill="#3cb84a" opacity="0.75"/>
<rect x="468.8" y="93.0" width="1.0" height="1.0" fill="#3c5fe8" opacity="0.75"/>
<rect x="470.8" y="93.0" width="1.0" height="1.0" fill="#e8a03c" opacity="0.75"/>
<rect x="472.8" y="93.0" width="1.0" height="1.0" fill="#e8a03c" opacity="0.75"/>
<rect x="474.8" y="93.0" width="1.0" height="1.0" fill="#e8a03c" opacity="0.75"/>
<rect x="476.8" y="93.0" width="1.0" height="1.0" fill="#e8a03c" opacity="0.75"/>
<rect x="478.8" y="93.0" width="1.0" height="1.0" fill="#3cb84a" opacity="0.75"/>
<rect x="480.8" y="93.0" width="1.0" height="1.0" fill="#e85a5a" opacity="0.75"/>
<rect x="482.8" y="93.0" width="1.0" height="1.0" fill="#3cb84a" opacity="0.75"/>
<rect x="484.8" y="93.0" width="1.0" height="1.0" fill="#3cb84a" opacity="0.75"/>
<rect x="486.8" y="93.0" width="1.0" height="1.0" fill="#6f7df0" opacity="0.75"/>
<rect x="488.8" y="93.0" width="1.0" height="1.0" fill="#3c5fe8" opacity="0.75"/>
<rect x="490.8" y="93.0" width="1.0" height="1.0" fill="#e85a5a" opacity="0.75"/>
<rect x="492.8" y="93.0" width="1.0" height="1.0" fill="#e8a03c" opacity="0.75"/>
<rect x="494.8" y="93.0" width="1.0" height="1.0" fill="#3c5fe8" opacity="0.75"/>
<rect x="496.8" y="93.0" width="1.0" height="1.0" fill="#e8a03c" opacity="0.75"/>
<rect x="498.8" y="93.0" width="1.0" height="1.0" fill="#3c5fe8" opacity="0.75"/>
<rect x="500.8" y="93.0" width="1.0" height="1.0" fill="#e8a03c" opacity="0.75"/>
<rect x="502.8" y="93.0" width="1.0" height="1.0" fill="#e85a5a" opacity="0.75"/>
<rect x="504.8" y="93.0" width="1.0" height="1.0" fill="#6f7df0" opacity="0.75"/>
<rect x="506.8" y="93.0" width="1.0" height="1.0" fill="#6f7df0" opacity="0.75"/>
<rect x="388.2" y="95.3" width="119.8" height="2.7" fill="#14147e"/>
<rect x="389.3" y="96.2" width="1.2" height="0.9" fill="#5560c8"/>
<rect x="394.7" y="96.2" width="2.1" height="0.9" fill="#5560c8"/>
<rect x="399.5" y="96.2" width="1.6" height="0.9" fill="#5560c8"/>
<rect x="405.0" y="96.2" width="2.5" height="0.9" fill="#5560c8"/>
<rect x="409.2" y="96.2" width="1.2" height="0.9" fill="#5560c8"/>
<rect x="414.4" y="96.2" width="1.8" height="0.9" fill="#5560c8"/>
<rect x="420.1" y="96.2" width="1.5" height="0.9" fill="#5560c8"/>
<rect x="425.3" y="96.2" width="2.2" height="0.9" fill="#5560c8"/>
<rect x="429.7" y="96.2" width="1.5" height="0.9" fill="#5560c8"/>
<rect x="435.6" y="96.2" width="1.6" height="0.9" fill="#5560c8"/>
<rect x="440.3" y="96.2" width="1.5" height="0.9" fill="#5560c8"/>
<rect x="444.1" y="96.2" width="2.3" height="0.9" fill="#5560c8"/>
<rect x="449.3" y="96.2" width="2.5" height="0.9" fill="#5560c8"/>
<rect x="454.7" y="96.2" width="1.5" height="0.9" fill="#5560c8"/>
<rect x="459.1" y="96.2" width="1.8" height="0.9" fill="#5560c8"/>
<rect x="465.0" y="96.2" width="2.5" height="0.9" fill="#5560c8"/>
<rect x="469.0" y="96.2" width="1.8" height="0.9" fill="#5560c8"/>
<rect x="474.1" y="96.2" width="2.6" height="0.9" fill="#5560c8"/>
<rect x="479.0" y="96.2" width="1.3" height="0.9" fill="#5560c8"/>
<rect x="483.8" y="96.2" width="1.8" height="0.9" fill="#5560c8"/>
<rect x="490.5" y="96.2" width="2.4" height="0.9" fill="#5560c8"/>
<rect x="495.2" y="96.2" width="2.6" height="0.9" fill="#5560c8"/>
<rect x="500.6" y="96.2" width="1.7" height="0.9" fill="#5560c8"/>
<rect x="504.1" y="96.2" width="2.5" height="0.9" fill="#5560c8"/>
<path d="M404.3,111 V121.4 H499.8 V111 M485.3,111 V121.4" fill="none" stroke="#111" stroke-width="0.8"/>
<g transform="translate(407.7,109.5) rotate(44)"><rect x="-12.0" y="-3.8" width="24" height="7.6" fill="#fff" stroke="#222" stroke-width="0.6"/><text x="0" y="2.5" font-size="6.9" font-weight="bold" text-anchor="middle" fill="#111" textLength="19.5" lengthAdjust="spacingAndGlyphs">S197N</text></g>
<g transform="translate(488.7,109.6) rotate(46)"><rect x="-12.0" y="-3.8" width="24" height="7.6" fill="#fff" stroke="#222" stroke-width="0.6"/><text x="0" y="2.5" font-size="6.9" font-weight="bold" text-anchor="middle" fill="#111" textLength="19.5" lengthAdjust="spacingAndGlyphs">Y212Y</text></g>
<g transform="translate(503,109.2) rotate(43)"><rect x="-12.0" y="-3.8" width="24" height="7.6" fill="#fff" stroke="#222" stroke-width="0.6"/><text x="0" y="2.5" font-size="6.9" font-weight="bold" text-anchor="middle" fill="#111" textLength="19.5" lengthAdjust="spacingAndGlyphs">N215S</text></g>
<text x="451.3" y="116.5" font-size="7.4" font-weight="normal" text-anchor="middle" fill="#111" textLength="41.0" lengthAdjust="spacingAndGlyphs">Linked in phase</text>
<text x="377.1" y="142.7" font-size="11.3" font-weight="bold" text-anchor="start" fill="#111" textLength="7.7" lengthAdjust="spacingAndGlyphs">D</text>
<text x="386.4" y="152.6" font-size="9.6" font-weight="normal" text-anchor="start" fill="#111" textLength="52.0" lengthAdjust="spacingAndGlyphs">At diagnosis</text>
<text x="458.8" y="152.6" font-size="9.6" font-weight="normal" text-anchor="start" fill="#111" textLength="44.0" lengthAdjust="spacingAndGlyphs">At relapse</text>
<rect x="377.5" y="157.8" width="65.3" height="65.3" fill="#efe1d6"/>
<g clip-path="url(#d1c)"><g filter="url(#blur04)" fill="none" stroke-linecap="round">
<path d="M382.0,158.0h0M386.9,158.1h0M389.4,158.5h0M393.3,157.2h0M395.1,157.1h0M416.3,157.8h0M422.3,158.4h0M426.4,158.2h0M429.3,157.7h0M431.8,157.3h0M435.7,158.5h0M440.4,158.3h0M444.7,158.2h0M381.0,159.4h0M392.5,160.4h0M395.0,160.3h0M399.5,159.4h0M412.1,159.7h0M414.2,159.6h0M423.0,160.3h0M402.2,162.1h0M413.4,161.4h0M415.6,161.9h0M423.0,161.1h0M439.8,161.7h0M397.2,164.3h0M408.3,163.1h0M420.1,165.9h0M422.1,165.9h0M430.9,165.7h0M435.6,166.1h0M441.1,165.6h0M378.9,168.1h0M380.8,167.9h0M419.3,167.9h0M423.5,167.0h0M432.8,168.0h0M435.5,167.1h0M381.5,169.9h0M387.2,170.2h0M389.3,169.4h0M424.1,169.2h0M437.7,170.0h0M383.7,170.9h0M385.5,171.5h0M389.5,171.7h0M391.9,171.8h0M399.2,171.6h0M425.9,171.9h0M427.5,171.8h0M433.0,171.7h0M390.9,173.2h0M395.7,173.8h0M397.1,173.4h0M401.8,173.1h0M409.4,173.2h0M427.0,173.3h0M431.0,173.2h0M440.9,173.9h0M414.9,175.2h0M420.8,175.7h0M443.6,175.2h0M402.8,177.4h0M418.7,178.0h0M436.6,177.5h0M389.3,179.3h0M399.5,180.0h0M419.7,179.1h0M430.9,180.0h0M432.8,178.9h0M443.5,179.1h0M393.4,181.0h0M431.0,180.6h0M380.5,182.8h0M385.2,183.1h0M388.3,182.6h0M392.1,183.6h0M394.0,183.8h0M396.5,183.0h0M421.2,182.8h0M425.8,183.0h0M432.9,183.1h0M442.2,183.1h0M377.3,185.0h0M380.3,185.0h0M386.6,184.5h0M391.3,184.9h0M395.2,185.5h0M401.6,184.5h0M431.3,185.0h0M433.6,184.6h0M396.7,187.0h0M420.8,186.6h0M423.9,186.6h0M428.6,187.7h0M430.0,187.2h0M379.9,189.7h0M393.0,188.5h0M406.3,188.6h0M411.0,188.4h0M420.8,188.9h0M422.1,189.1h0M437.6,188.7h0M439.9,188.9h0M444.6,189.8h0M378.7,191.5h0M405.1,190.6h0M417.6,191.0h0M425.7,191.8h0M428.3,190.9h0M396.0,193.3h0M412.9,192.8h0M417.8,193.5h0M433.2,193.3h0M441.2,193.3h0M394.3,194.7h0M409.9,194.8h0M428.1,194.9h0M432.4,194.5h0M437.3,195.2h0M382.4,196.7h0M385.9,197.0h0M398.4,197.0h0M404.9,197.3h0M408.5,196.7h0M413.4,196.4h0M432.0,196.3h0M384.8,198.6h0M399.2,198.3h0M416.6,199.2h0M418.6,199.4h0M423.4,199.5h0M430.9,198.9h0M432.5,198.7h0M439.7,198.4h0M443.7,199.0h0M389.2,200.7h0M405.1,201.2h0M408.6,200.9h0M422.6,200.5h0M432.0,201.4h0M385.5,202.3h0M390.1,202.2h0M392.2,203.5h0M398.9,202.6h0M421.4,203.5h0M423.1,203.3h0M432.0,203.2h0M377.0,204.4h0M386.1,204.5h0M409.0,204.6h0M411.8,204.3h0M414.0,205.4h0M418.3,205.4h0M419.7,205.0h0M429.0,204.1h0M437.9,204.2h0M387.2,207.1h0M389.2,206.3h0M414.9,206.4h0M425.9,206.4h0M430.4,206.7h0M379.4,209.2h0M398.0,208.1h0M402.5,209.1h0M415.3,209.1h0M442.1,208.5h0M405.3,210.9h0M414.9,210.1h0M416.8,210.0h0M419.0,210.6h0M422.0,211.1h0M390.9,213.0h0M443.2,212.9h0M379.1,215.1h0M381.2,214.8h0M398.7,214.9h0M401.7,215.1h0M408.4,214.6h0M417.2,214.1h0M427.9,214.7h0M377.2,215.9h0M382.5,217.0h0M399.5,216.4h0M411.2,216.6h0M415.4,216.7h0M417.4,216.9h0M422.7,216.2h0M426.3,216.9h0M428.8,215.9h0M431.5,217.2h0M436.2,216.7h0M380.5,218.2h0M391.5,219.2h0M405.2,218.4h0M414.0,219.0h0M420.8,218.2h0M423.1,218.1h0M434.6,217.8h0M381.9,220.9h0M395.4,220.5h0M398.1,219.8h0M413.3,220.1h0M430.8,220.3h0M434.1,220.5h0M437.6,220.4h0M378.2,221.8h0M394.3,222.1h0M398.4,222.5h0M414.1,222.3h0M420.7,222.9h0M434.2,222.6h0M438.7,222.5h0M444.1,221.8h0M384.3,225.0h0M394.9,223.9h0M433.5,224.2h0M440.0,223.8h0" stroke="#bcbad8" stroke-width="1.9"/>
<path d="M408.4,158.2h0M411.7,157.6h0M378.3,159.2h0M410.7,159.3h0M431.1,159.2h0M382.3,161.8h0M392.6,161.4h0M431.0,161.1h0M445.3,161.7h0M387.7,164.2h0M401.7,164.2h0M402.8,163.6h0M444.5,164.3h0M377.5,165.1h0M389.0,165.4h0M391.2,165.1h0M395.1,165.7h0M407.1,166.1h0M382.7,167.1h0M395.0,167.9h0M415.3,167.8h0M421.2,167.0h0M426.4,167.7h0M443.6,167.8h0M379.1,169.2h0M384.8,169.9h0M415.4,169.8h0M433.7,169.1h0M436.3,170.0h0M445.2,170.2h0M378.7,171.8h0M396.9,171.3h0M405.5,172.1h0M409.9,171.4h0M411.9,171.6h0M434.5,171.9h0M440.0,171.7h0M404.8,173.6h0M406.3,173.2h0M414.0,174.0h0M415.8,174.1h0M434.3,173.5h0M383.7,174.8h0M389.6,174.8h0M392.1,175.7h0M394.6,174.9h0M396.6,176.1h0M401.4,175.0h0M412.6,175.1h0M419.6,174.8h0M427.6,174.9h0M429.8,176.0h0M437.0,174.7h0M439.7,176.1h0M395.6,177.7h0M398.4,177.2h0M411.8,177.0h0M431.6,177.1h0M382.5,179.6h0M396.5,179.0h0M412.1,178.7h0M417.0,178.7h0M380.0,181.7h0M382.2,181.8h0M395.9,180.7h0M398.1,180.9h0M400.1,180.9h0M420.2,181.7h0M436.4,180.7h0M442.1,181.0h0M403.0,183.3h0M405.6,183.9h0M407.6,183.9h0M434.2,182.8h0M437.0,183.8h0M383.9,184.6h0M388.6,185.3h0M397.6,185.7h0M399.7,185.0h0M413.7,184.6h0M417.8,185.2h0M419.8,185.1h0M424.2,185.0h0M437.9,184.5h0M441.0,185.3h0M443.0,184.8h0M378.7,187.8h0M383.0,186.8h0M394.6,186.8h0M398.9,187.4h0M406.2,186.9h0M414.3,187.5h0M418.7,187.2h0M435.2,186.9h0M437.5,187.6h0M384.4,189.0h0M391.3,189.8h0M398.2,189.6h0M399.8,189.3h0M415.4,189.1h0M417.7,188.5h0M428.6,189.2h0M387.9,190.7h0M392.0,190.9h0M401.5,190.7h0M407.8,190.4h0M441.8,191.2h0M398.2,193.0h0M402.5,192.4h0M407.2,193.5h0M429.0,193.2h0M431.6,193.3h0M444.5,193.2h0M383.4,194.6h0M388.1,195.2h0M400.6,195.5h0M403.3,194.8h0M435.2,194.4h0M379.8,197.0h0M389.1,196.6h0M390.4,196.6h0M400.2,197.5h0M415.2,197.5h0M418.0,197.2h0M425.1,196.6h0M426.9,196.9h0M429.2,196.9h0M435.4,196.8h0M438.2,196.6h0M443.4,196.3h0M388.0,198.8h0M414.6,198.8h0M428.2,199.4h0M424.4,200.3h0M429.3,201.4h0M442.7,200.7h0M403.4,202.2h0M410.4,203.4h0M436.9,202.1h0M382.2,204.4h0M389.1,205.0h0M396.2,204.6h0M398.3,205.5h0M399.5,205.2h0M404.2,204.9h0M427.6,204.2h0M431.1,204.3h0M440.9,205.4h0M396.0,206.4h0M418.6,207.0h0M421.5,206.7h0M437.6,207.2h0M439.9,206.7h0M393.7,208.8h0M418.2,209.1h0M422.1,208.9h0M378.5,210.3h0M428.6,210.7h0M430.2,211.2h0M433.0,210.9h0M439.1,211.0h0M386.9,212.7h0M393.4,212.2h0M396.2,212.2h0M411.6,213.2h0M413.6,212.6h0M427.4,212.0h0M429.5,212.9h0M433.8,211.9h0M436.2,212.1h0M438.8,213.2h0M440.0,212.1h0M445.0,212.9h0M383.7,214.2h0M394.3,214.5h0M403.2,214.2h0M413.1,214.7h0M419.4,214.8h0M421.3,214.3h0M425.6,214.2h0M429.8,215.1h0M439.2,214.6h0M396.0,216.5h0M413.6,216.7h0M420.9,216.6h0M433.4,217.0h0M441.0,216.2h0M394.1,218.0h0M416.3,217.8h0M441.9,218.3h0M377.2,220.8h0M407.0,220.0h0M410.6,219.7h0M425.1,220.4h0M403.3,222.4h0M410.8,221.8h0M411.8,222.6h0M418.9,222.9h0M432.1,222.8h0M380.1,224.9h0M388.3,224.7h0M399.8,223.9h0M411.1,224.2h0M420.0,223.8h0M424.2,223.9h0M429.6,224.0h0M436.3,223.7h0" stroke="#dcb8a2" stroke-width="1.8"/>
<path d="M377.6,158.4h0M379.8,157.9h0M397.7,158.3h0M400.2,157.8h0M420.6,157.5h0M382.9,159.7h0M396.5,159.2h0M403.1,159.3h0M408.4,159.9h0M416.4,159.6h0M428.1,160.1h0M433.0,160.3h0M443.7,159.9h0M376.9,161.9h0M384.7,161.1h0M388.4,162.0h0M391.2,162.3h0M406.5,161.2h0M409.5,162.2h0M417.7,162.2h0M428.6,162.2h0M433.7,161.9h0M379.0,163.5h0M385.6,164.2h0M406.0,163.7h0M414.9,164.1h0M421.1,164.0h0M423.7,164.2h0M425.6,163.5h0M432.2,163.7h0M435.0,163.0h0M380.2,166.2h0M381.7,165.2h0M384.8,165.1h0M397.6,165.5h0M399.5,165.2h0M402.4,165.7h0M427.4,165.6h0M433.8,165.1h0M444.9,165.8h0M384.7,168.1h0M389.7,167.7h0M392.8,168.0h0M404.9,167.4h0M408.0,167.2h0M428.8,167.7h0M436.7,167.6h0M438.8,168.2h0M441.7,167.7h0M377.2,169.8h0M391.7,169.2h0M393.9,169.9h0M396.2,170.0h0M397.2,169.7h0M399.6,168.9h0M401.7,169.5h0M406.6,169.9h0M409.7,170.2h0M418.1,169.7h0M427.2,169.0h0M428.7,169.0h0M440.9,169.1h0M442.4,170.0h0M403.8,171.2h0M416.4,171.9h0M421.4,171.6h0M437.5,171.4h0M441.7,171.8h0M386.0,173.8h0M400.6,172.8h0M411.7,173.4h0M417.6,172.8h0M422.5,173.1h0M436.7,173.1h0M437.8,173.8h0M379.3,175.5h0M387.1,175.9h0M403.3,174.7h0M407.6,175.2h0M409.8,175.2h0M432.6,175.6h0M380.2,177.8h0M381.5,177.7h0M386.0,177.7h0M392.8,176.8h0M399.5,178.0h0M404.6,177.0h0M408.5,177.8h0M414.0,176.9h0M415.2,176.7h0M426.5,177.2h0M428.8,177.4h0M438.1,177.5h0M443.4,177.8h0M379.2,179.4h0M380.8,179.9h0M392.0,178.7h0M406.2,178.8h0M422.0,180.0h0M423.2,179.0h0M383.9,181.0h0M388.2,182.0h0M391.0,181.3h0M404.9,181.1h0M409.2,181.1h0M414.0,181.5h0M416.4,180.8h0M424.4,181.4h0M426.3,181.4h0M433.7,181.2h0M445.0,181.0h0M378.0,183.7h0M390.2,183.9h0M398.3,182.6h0M409.5,183.1h0M423.2,182.8h0M428.8,183.5h0M404.6,185.6h0M415.6,184.6h0M422.0,185.4h0M426.5,185.3h0M436.1,185.2h0M445.2,185.8h0M389.6,187.0h0M401.3,187.2h0M412.4,187.3h0M416.5,186.8h0M426.3,187.1h0M395.5,188.9h0M413.0,189.3h0M426.9,189.5h0M436.5,189.4h0M396.4,190.8h0M410.0,190.8h0M413.0,190.7h0M435.0,190.5h0M443.2,191.3h0M377.6,193.2h0M388.4,193.5h0M400.5,192.6h0M404.9,193.0h0M420.8,192.4h0M435.5,192.5h0M379.1,194.9h0M380.9,195.6h0M385.1,195.5h0M390.5,194.8h0M397.3,194.7h0M407.3,195.5h0M416.8,194.8h0M418.9,195.2h0M422.0,195.7h0M443.2,195.5h0M383.7,197.0h0M393.3,196.9h0M423.1,196.8h0M433.8,196.8h0M445.6,196.8h0M378.4,198.6h0M381.0,198.6h0M383.1,199.3h0M401.2,199.5h0M402.7,199.5h0M426.5,198.5h0M441.2,198.7h0M377.3,201.0h0M382.7,200.6h0M393.9,201.4h0M395.5,200.5h0M402.3,200.6h0M410.7,201.2h0M414.1,201.5h0M426.7,200.6h0M433.8,201.2h0M436.2,201.5h0M378.4,202.4h0M396.0,202.9h0M400.7,203.1h0M405.7,203.5h0M407.4,202.5h0M417.0,203.1h0M419.3,203.4h0M430.7,203.3h0M441.4,203.1h0M443.5,203.4h0M380.1,204.5h0M383.9,205.3h0M424.6,204.2h0M433.8,204.9h0M442.3,204.5h0M444.7,205.2h0M393.9,206.1h0M398.7,206.7h0M400.9,206.5h0M405.6,206.5h0M413.1,206.4h0M416.4,207.4h0M428.3,206.7h0M434.3,207.2h0M441.7,207.4h0M443.9,206.4h0M411.9,208.9h0M413.3,208.5h0M433.7,208.0h0M440.1,208.5h0M445.6,208.9h0M381.5,210.1h0M383.4,211.0h0M385.6,211.3h0M394.1,211.0h0M400.6,210.6h0M407.4,210.5h0M410.5,210.5h0M423.7,210.4h0M434.7,210.6h0M436.9,210.8h0M441.6,211.2h0M443.7,211.2h0M402.5,213.0h0M415.3,212.8h0M422.4,212.7h0M385.1,214.5h0M391.6,215.2h0M409.6,213.9h0M423.4,214.4h0M432.6,214.3h0M441.7,214.6h0M386.4,216.6h0M401.7,216.6h0M406.9,216.1h0M409.6,216.8h0M389.7,218.5h0M397.2,218.0h0M398.9,218.9h0M400.8,218.0h0M428.0,218.0h0M430.4,218.3h0M432.0,218.6h0M440.0,218.0h0M389.4,221.0h0M391.5,221.1h0M399.7,220.2h0M401.8,220.4h0M422.2,220.3h0M380.4,222.5h0M387.7,222.9h0M396.6,222.4h0M407.7,222.4h0M417.2,222.3h0M423.1,221.9h0M429.7,223.0h0M437.7,222.8h0M441.3,223.0h0M427.5,223.8h0M438.7,224.1h0M445.1,224.1h0" stroke="#b87450" stroke-width="1.7"/>
<path d="M391.2,157.3h0M402.2,157.5h0M406.5,157.4h0M433.2,157.7h0M442.2,158.5h0M400.8,160.2h0M405.0,159.4h0M421.5,159.3h0M426.5,159.1h0M435.2,160.2h0M395.1,161.3h0M411.9,161.4h0M424.8,161.4h0M436.4,162.4h0M437.8,161.7h0M442.3,161.4h0M391.7,164.0h0M417.5,163.7h0M441.0,163.7h0M392.7,165.6h0M415.4,165.1h0M428.8,165.0h0M402.8,167.4h0M412.5,167.6h0M417.2,168.3h0M404.4,169.2h0M410.9,169.0h0M431.6,169.7h0M387.3,171.9h0M394.1,171.0h0M444.5,171.4h0M384.7,173.4h0M444.4,173.4h0M423.2,175.3h0M376.9,177.2h0M420.0,177.6h0M422.3,177.5h0M433.1,177.6h0M440.9,177.7h0M394.4,179.0h0M401.6,179.2h0M436.9,179.9h0M442.2,179.3h0M377.1,180.8h0M411.6,181.3h0M429.4,181.8h0M383.6,183.6h0M411.8,183.0h0M415.1,183.4h0M439.1,183.1h0M393.5,184.7h0M411.9,185.7h0M429.3,185.5h0M408.1,187.4h0M441.8,187.6h0M377.1,188.7h0M388.2,188.5h0M404.6,189.5h0M431.7,188.8h0M394.8,190.9h0M420.9,190.8h0M424.3,190.8h0M430.0,191.2h0M439.3,190.9h0M384.9,192.9h0M391.6,193.5h0M426.9,192.4h0M442.6,192.8h0M399.1,194.6h0M412.6,194.8h0M426.2,195.7h0M430.0,195.7h0M442.0,194.5h0M406.3,197.0h0M391.5,199.6h0M407.8,199.2h0M421.4,198.4h0M435.5,198.9h0M437.0,199.3h0M383.9,200.5h0M386.6,200.5h0M390.9,201.0h0M415.6,201.5h0M417.7,201.4h0M419.9,200.5h0M445.6,200.9h0M382.5,203.4h0M394.9,203.2h0M433.3,206.4h0M384.7,209.0h0M406.1,209.2h0M420.3,208.4h0M425.4,208.5h0M396.4,211.0h0M399.2,210.6h0M412.6,210.8h0M380.1,212.3h0M382.6,212.8h0M384.2,212.8h0M406.8,212.7h0M405.0,214.8h0M437.4,214.6h0M384.5,216.9h0M442.3,216.5h0M385.6,218.3h0M387.6,217.9h0M402.8,219.0h0M425.4,218.0h0M444.4,217.8h0M417.6,220.4h0M420.7,221.0h0M426.5,220.8h0M436.7,219.8h0M444.3,220.1h0M385.7,222.9h0M390.5,222.1h0M401.8,222.8h0M427.7,222.3h0M393.6,224.3h0M404.6,224.5h0M413.3,224.1h0" stroke="#8e4420" stroke-width="1.7"/>
</g></g>
<rect x="447.7" y="157.8" width="65.3" height="65.3" fill="#e2b892"/>
<g clip-path="url(#d2c)"><g filter="url(#blur04)" fill="none" stroke-linecap="round">
<path d="M450.3,157.7h0M457.0,158.1h0M482.1,157.1h0M502.6,157.0h0M515.1,157.3h0M451.5,159.4h0M452.6,161.5h0M465.7,161.5h0M488.3,161.7h0M505.0,162.5h0M463.2,164.1h0M476.4,163.8h0M499.6,165.1h0M502.0,163.7h0M504.4,164.7h0M450.5,165.9h0M472.1,166.6h0M494.8,166.3h0M510.9,166.1h0M457.0,169.1h0M466.1,168.7h0M478.7,168.4h0M481.4,168.4h0M494.2,169.0h0M501.8,169.1h0M510.7,168.1h0M513.8,169.3h0M497.2,170.4h0M514.7,170.2h0M456.7,172.2h0M461.3,172.7h0M490.8,173.1h0M493.6,172.8h0M496.9,173.7h0M499.4,172.5h0M460.1,175.4h0M470.3,175.1h0M504.6,175.5h0M508.1,174.5h0M458.7,176.6h0M476.0,177.9h0M483.8,178.0h0M484.4,179.2h0M487.7,179.3h0M490.1,179.2h0M495.9,180.3h0M453.6,181.6h0M472.1,181.0h0M483.2,182.3h0M513.6,181.6h0M452.3,183.3h0M458.2,183.3h0M494.4,183.4h0M503.1,184.3h0M504.9,184.2h0M512.5,184.6h0M451.7,185.7h0M461.3,185.5h0M476.1,186.1h0M486.0,186.2h0M489.7,185.3h0M500.9,186.5h0M507.1,186.2h0M514.5,186.3h0M459.5,188.9h0M463.1,188.2h0M471.0,188.3h0M474.8,189.0h0M485.2,187.6h0M488.1,188.3h0M505.7,188.9h0M507.2,187.8h0M509.6,188.3h0M487.2,190.2h0M496.3,191.0h0M509.0,189.7h0M468.4,192.9h0M478.1,191.8h0M492.9,192.1h0M499.8,193.0h0M504.8,192.6h0M453.5,195.5h0M456.3,194.1h0M465.9,195.3h0M491.5,194.5h0M501.9,194.8h0M506.6,194.5h0M513.2,195.1h0M482.7,197.1h0M507.6,197.1h0M468.9,198.9h0M508.6,199.6h0M458.0,202.0h0M462.8,200.6h0M484.7,201.8h0M502.9,201.4h0M505.8,201.6h0M479.2,203.1h0M499.5,203.7h0M507.2,203.8h0M456.9,205.1h0M470.7,205.0h0M491.0,205.1h0M498.3,206.3h0M507.3,206.0h0M455.8,207.6h0M473.2,207.7h0M479.7,208.2h0M481.7,207.2h0M484.2,207.2h0M499.6,208.1h0M450.7,210.4h0M462.1,210.0h0M464.7,210.3h0M477.4,210.7h0M482.9,209.4h0M499.5,209.3h0M506.9,209.4h0M450.7,212.5h0M461.7,211.9h0M464.2,211.6h0M467.2,211.5h0M488.2,211.4h0M497.0,211.5h0M470.7,214.9h0M492.4,214.2h0M508.0,214.9h0M483.5,216.5h0M490.7,217.0h0M503.9,216.7h0M453.5,218.6h0M465.2,218.7h0M480.7,218.2h0M483.0,218.3h0M449.5,221.3h0M508.5,220.9h0M514.1,220.5h0M448.1,223.6h0M460.9,223.5h0M489.5,222.4h0M503.1,222.9h0M514.5,222.9h0M448.4,225.1h0M458.7,225.1h0M469.5,224.9h0M478.5,224.7h0M484.5,225.0h0M486.8,225.5h0M510.8,225.2h0" stroke="#f8eee6" stroke-width="2.5"/>
<path d="M454.6,169.4h0M482.9,170.7h0M509.6,173.4h0M455.7,175.6h0M474.5,175.6h0M453.8,177.1h0M450.8,181.1h0M499.4,181.7h0M501.2,182.5h0M477.4,183.3h0M497.9,184.4h0M514.7,184.4h0M490.0,188.9h0M475.8,190.2h0M511.4,190.8h0M448.3,194.4h0M510.7,194.6h0M460.4,196.4h0M485.0,196.5h0M509.6,196.8h0M483.5,198.8h0M511.6,199.5h0M470.2,200.9h0M454.2,202.8h0M483.4,204.0h0M479.8,205.4h0M452.4,210.2h0M458.1,209.9h0M468.1,209.2h0M490.0,210.5h0M449.5,211.8h0M478.5,214.3h0M480.8,215.9h0M496.6,216.2h0M501.2,216.3h0M499.5,220.5h0M465.4,223.0h0" stroke="#b9b7d6" stroke-width="2.0"/>
<path d="M472.0,157.8h0M480.7,157.3h0M485.3,158.3h0M490.6,157.9h0M492.1,158.3h0M466.1,159.8h0M477.2,159.3h0M489.2,159.5h0M499.6,159.3h0M506.2,159.7h0M509.7,159.7h0M447.0,161.7h0M450.8,162.2h0M458.3,161.7h0M469.5,162.8h0M483.7,165.1h0M486.1,164.3h0M509.1,165.1h0M470.7,167.0h0M497.1,169.4h0M503.1,170.1h0M513.1,170.3h0M448.4,172.4h0M484.9,175.3h0M489.9,175.2h0M510.4,174.4h0M455.8,177.8h0M468.5,176.6h0M496.6,176.9h0M452.0,178.8h0M457.3,179.5h0M459.8,179.5h0M473.2,179.4h0M492.8,179.3h0M498.0,179.7h0M500.3,179.2h0M502.6,178.8h0M506.0,180.0h0M460.7,181.4h0M466.9,181.0h0M494.7,181.9h0M447.6,183.8h0M468.7,186.3h0M471.0,186.4h0M449.4,188.8h0M457.6,188.5h0M499.7,188.2h0M451.0,191.2h0M473.3,189.7h0M457.2,193.2h0M464.9,193.4h0M475.4,192.1h0M483.0,192.3h0M488.5,193.2h0M503.5,192.0h0M507.5,193.0h0M474.5,194.8h0M484.1,195.3h0M486.3,194.6h0M489.6,195.1h0M503.4,195.3h0M472.3,197.2h0M477.7,197.0h0M461.0,198.8h0M482.1,199.1h0M474.8,200.8h0M496.2,203.4h0M450.2,204.9h0M500.9,205.3h0M463.7,208.0h0M489.1,207.2h0M497.2,207.2h0M514.7,207.5h0M459.6,209.6h0M469.6,210.1h0M479.5,210.8h0M497.8,210.4h0M474.1,212.3h0M482.2,212.2h0M493.5,212.9h0M503.6,211.5h0M506.6,212.1h0M511.5,211.8h0M462.0,214.7h0M512.1,214.5h0M449.3,216.2h0M456.0,217.3h0M470.8,216.2h0M477.1,216.8h0M505.9,215.8h0M508.9,217.3h0M514.6,215.7h0M467.8,218.7h0M492.2,218.6h0M503.3,219.0h0M508.1,218.6h0M471.7,220.9h0M473.3,221.2h0M476.4,220.7h0M491.5,221.1h0M487.5,223.6h0M492.2,222.8h0M452.2,224.7h0" stroke="#c88a58" stroke-width="2.4"/>
<path d="M452.1,157.3h0M454.8,157.7h0M460.2,158.2h0M462.0,158.3h0M465.5,158.0h0M470.3,158.1h0M487.5,157.5h0M498.4,157.9h0M454.5,159.6h0M457.1,159.9h0M459.6,160.5h0M474.0,160.5h0M479.0,159.6h0M481.4,159.9h0M491.3,159.3h0M496.5,160.0h0M511.3,160.5h0M514.0,159.6h0M455.1,162.7h0M477.1,162.5h0M480.5,162.3h0M484.9,161.6h0M489.9,162.3h0M493.3,162.0h0M495.4,162.5h0M503.1,162.7h0M509.5,161.9h0M513.2,162.3h0M514.8,161.9h0M454.1,164.2h0M457.1,165.1h0M470.8,164.5h0M474.0,163.7h0M489.4,164.0h0M494.6,163.8h0M463.3,166.4h0M478.2,166.5h0M480.3,167.2h0M485.7,166.8h0M490.0,166.0h0M493.5,166.9h0M499.8,165.8h0M503.5,166.9h0M514.5,166.4h0M449.4,168.5h0M469.7,168.9h0M474.3,168.8h0M476.2,168.1h0M488.5,169.5h0M492.1,168.3h0M507.0,168.0h0M508.7,169.1h0M447.1,171.1h0M450.3,171.2h0M453.1,171.0h0M469.8,171.5h0M486.9,170.7h0M505.6,170.1h0M507.4,170.8h0M454.4,172.3h0M459.1,173.6h0M463.2,173.4h0M470.8,173.5h0M484.1,173.3h0M488.5,172.9h0M507.0,173.5h0M447.3,174.7h0M450.1,175.9h0M452.8,175.6h0M479.7,175.2h0M482.4,175.5h0M495.3,175.2h0M497.2,175.4h0M500.7,175.4h0M503.5,174.7h0M513.5,175.6h0M515.9,175.3h0M479.3,178.0h0M494.6,177.7h0M498.7,178.2h0M501.9,177.9h0M504.1,176.9h0M506.4,177.7h0M508.4,177.6h0M511.5,177.3h0M447.5,179.4h0M455.0,179.5h0M465.8,179.8h0M468.5,179.8h0M480.1,179.0h0M508.5,179.3h0M513.3,179.0h0M515.0,180.0h0M458.7,181.6h0M469.3,181.7h0M479.1,181.5h0M486.2,182.5h0M491.6,181.4h0M496.8,182.1h0M508.7,182.5h0M510.7,182.2h0M450.4,184.2h0M455.1,184.5h0M462.0,183.6h0M465.5,184.6h0M472.8,183.7h0M489.8,183.5h0M492.8,183.4h0M500.4,183.8h0M510.3,184.4h0M454.6,186.1h0M456.2,185.7h0M459.3,185.5h0M463.4,186.1h0M467.2,185.8h0M473.3,186.6h0M479.4,185.5h0M497.0,186.5h0M503.9,186.0h0M508.9,186.7h0M511.5,186.6h0M447.1,188.3h0M455.9,187.8h0M468.0,187.9h0M482.2,188.4h0M492.3,188.2h0M456.7,191.2h0M459.3,190.3h0M464.3,190.8h0M466.4,190.6h0M471.5,190.2h0M491.2,190.6h0M501.3,190.4h0M503.5,190.2h0M505.7,190.5h0M447.7,192.7h0M472.8,192.8h0M490.9,193.3h0M494.9,192.2h0M497.2,192.3h0M512.8,192.4h0M458.7,195.5h0M469.2,194.9h0M481.4,194.7h0M493.3,194.9h0M496.7,194.2h0M498.9,195.0h0M509.7,194.2h0M452.0,197.1h0M457.7,196.9h0M467.7,196.2h0M475.3,197.1h0M488.0,196.6h0M489.7,196.8h0M494.7,197.6h0M499.8,197.2h0M504.8,197.2h0M514.7,196.7h0M453.2,199.0h0M456.7,199.3h0M459.5,198.7h0M466.3,199.3h0M471.3,199.4h0M476.2,198.6h0M494.6,199.9h0M496.8,199.5h0M502.0,199.6h0M504.0,199.9h0M447.9,201.7h0M464.8,200.7h0M473.0,202.0h0M480.7,201.4h0M482.6,201.4h0M490.0,201.4h0M495.1,201.7h0M499.6,200.6h0M509.9,201.4h0M448.2,203.2h0M455.8,203.8h0M468.2,203.4h0M470.7,202.9h0M476.7,203.3h0M481.8,203.6h0M503.6,203.0h0M510.7,203.8h0M513.3,204.2h0M446.9,205.2h0M453.0,205.9h0M455.6,205.1h0M477.0,206.2h0M484.9,205.1h0M492.2,205.4h0M510.1,205.9h0M513.3,205.5h0M515.8,204.9h0M449.2,208.1h0M451.4,208.5h0M459.3,207.2h0M462.0,207.2h0M469.5,208.5h0M476.6,208.5h0M500.8,207.7h0M505.8,207.9h0M509.4,207.9h0M455.8,210.0h0M473.1,209.9h0M485.7,209.4h0M494.5,210.1h0M503.1,209.6h0M456.0,211.8h0M468.8,211.7h0M484.4,213.0h0M498.9,212.3h0M500.9,212.8h0M514.2,211.7h0M452.9,214.8h0M454.8,215.1h0M460.4,214.9h0M467.4,213.7h0M472.8,214.4h0M490.4,214.1h0M495.3,215.0h0M503.1,214.6h0M504.6,213.8h0M509.4,214.1h0M451.9,215.8h0M453.7,216.5h0M458.5,216.8h0M465.9,216.0h0M473.5,217.2h0M494.1,216.2h0M449.6,219.0h0M460.6,218.4h0M469.8,218.7h0M472.3,218.0h0M475.5,218.1h0M485.3,218.4h0M456.5,220.1h0M458.3,220.1h0M460.8,220.2h0M468.3,220.2h0M479.7,221.4h0M489.3,220.4h0M494.5,221.5h0M495.8,220.7h0M450.3,222.8h0M452.0,223.4h0M462.5,222.5h0M467.8,222.6h0M472.1,223.0h0M474.7,223.8h0M482.4,222.9h0M494.8,223.2h0M454.0,225.1h0M489.4,224.9h0M501.6,224.6h0M506.9,225.9h0" stroke="#96481a" stroke-width="2.5"/>
<path d="M448.4,158.4h0M475.3,157.7h0M477.2,157.3h0M495.7,157.4h0M499.7,158.6h0M505.5,158.6h0M508.4,157.9h0M449.7,159.5h0M461.8,159.8h0M464.5,160.2h0M469.0,160.1h0M470.8,160.2h0M483.2,159.8h0M485.9,160.6h0M493.9,160.3h0M502.0,160.0h0M504.2,160.1h0M462.3,161.9h0M467.5,162.4h0M472.2,162.9h0M474.7,161.4h0M483.2,162.3h0M497.4,162.8h0M507.8,161.7h0M448.9,163.8h0M451.6,165.1h0M458.8,163.6h0M461.3,164.1h0M468.6,163.8h0M478.6,164.5h0M481.6,164.4h0M497.2,164.6h0M506.7,164.3h0M512.1,163.8h0M514.3,163.6h0M447.2,166.0h0M455.3,166.6h0M457.9,165.9h0M460.0,166.6h0M464.5,166.2h0M467.9,167.0h0M483.2,166.1h0M488.4,165.9h0M497.6,166.0h0M504.6,166.6h0M508.1,166.4h0M512.6,166.9h0M451.3,169.0h0M458.3,169.0h0M461.7,169.4h0M464.2,169.4h0M471.6,169.4h0M484.4,168.9h0M486.1,168.1h0M499.7,169.4h0M503.7,168.7h0M455.6,171.5h0M457.4,170.9h0M460.7,171.2h0M463.2,170.9h0M464.5,170.8h0M468.4,171.4h0M472.2,170.1h0M475.3,170.2h0M479.8,170.9h0M484.6,170.4h0M492.3,170.4h0M494.9,170.4h0M499.5,170.9h0M509.5,171.4h0M451.5,173.0h0M466.5,173.3h0M469.5,173.5h0M474.3,172.7h0M478.5,172.6h0M480.7,173.6h0M486.0,172.4h0M500.7,173.4h0M503.6,172.5h0M512.2,172.5h0M513.2,172.5h0M457.6,175.3h0M463.3,174.9h0M465.8,175.9h0M467.4,175.8h0M472.9,174.7h0M477.5,174.8h0M487.1,174.9h0M492.2,175.6h0M448.7,177.2h0M451.9,177.7h0M461.7,176.7h0M464.7,177.8h0M466.8,176.6h0M471.6,177.2h0M473.5,177.0h0M481.2,178.1h0M486.2,177.9h0M489.3,177.0h0M491.7,177.9h0M514.2,177.6h0M450.1,178.9h0M462.0,178.8h0M470.7,178.8h0M474.5,180.3h0M477.6,180.1h0M482.1,179.2h0M509.9,180.2h0M448.4,181.6h0M456.7,182.1h0M463.2,181.7h0M474.5,182.3h0M476.2,181.9h0M481.1,181.8h0M488.4,181.8h0M504.6,181.7h0M506.3,182.1h0M460.8,184.7h0M467.0,183.3h0M469.7,184.0h0M474.9,183.7h0M479.4,183.5h0M483.3,183.6h0M485.7,184.1h0M488.1,183.6h0M507.2,183.7h0M448.9,186.0h0M480.9,185.5h0M484.4,185.4h0M491.9,185.9h0M493.4,186.5h0M499.5,185.7h0M453.3,188.7h0M465.8,188.2h0M472.8,187.6h0M477.4,188.2h0M495.4,188.2h0M497.5,188.9h0M503.1,188.5h0M512.6,188.3h0M515.7,189.0h0M448.9,189.7h0M453.4,190.2h0M461.5,190.9h0M469.1,190.2h0M482.1,190.7h0M484.4,189.8h0M489.7,191.2h0M493.3,190.9h0M499.5,191.0h0M453.1,193.2h0M455.0,192.5h0M460.7,192.3h0M461.9,192.6h0M479.8,193.3h0M484.7,192.2h0M509.8,193.2h0M515.3,192.6h0M452.1,194.6h0M463.9,195.2h0M471.1,194.3h0M476.9,194.5h0M479.4,194.8h0M447.2,197.1h0M455.8,196.3h0M462.0,196.2h0M464.9,196.8h0M471.0,196.6h0M480.4,197.7h0M497.0,196.9h0M502.5,197.7h0M512.2,196.9h0M449.4,199.2h0M450.7,198.7h0M463.9,199.8h0M473.2,199.2h0M478.4,198.7h0M485.7,198.7h0M488.3,199.3h0M491.4,199.4h0M498.8,199.4h0M506.0,199.1h0M513.8,198.4h0M449.5,201.2h0M452.3,201.8h0M459.9,202.0h0M468.2,201.4h0M478.2,201.1h0M487.8,201.6h0M493.4,200.9h0M498.5,201.6h0M507.3,201.0h0M512.9,201.0h0M452.0,203.3h0M459.4,203.2h0M461.5,203.0h0M463.5,204.2h0M465.7,203.8h0M473.6,204.1h0M486.2,203.7h0M491.7,203.6h0M493.7,203.0h0M501.7,203.9h0M509.1,203.4h0M459.9,206.3h0M463.2,206.4h0M465.5,206.1h0M467.6,205.9h0M473.0,206.4h0M475.0,205.7h0M482.6,205.3h0M487.6,206.0h0M495.2,206.4h0M502.4,205.7h0M505.8,205.4h0M453.6,207.7h0M466.0,207.8h0M470.9,207.6h0M486.3,208.1h0M491.9,207.6h0M493.3,208.0h0M503.3,208.3h0M511.9,207.8h0M448.2,209.5h0M474.5,210.2h0M488.0,209.4h0M492.2,210.6h0M505.8,210.0h0M510.7,209.2h0M513.4,209.7h0M515.7,209.5h0M453.4,212.8h0M459.4,212.7h0M476.6,212.1h0M485.7,211.6h0M491.3,212.6h0M509.5,211.9h0M448.3,214.6h0M451.0,214.3h0M458.0,213.7h0M465.3,214.7h0M474.5,213.9h0M479.9,214.8h0M482.5,215.1h0M488.4,214.5h0M497.6,214.3h0M500.4,214.2h0M515.7,214.8h0M461.4,216.7h0M464.6,216.5h0M478.9,215.8h0M486.0,216.4h0M488.3,216.8h0M511.0,216.2h0M448.1,218.4h0M455.9,219.3h0M457.9,218.5h0M462.9,219.4h0M477.1,218.1h0M487.6,218.9h0M490.3,219.1h0M495.2,218.7h0M498.2,219.4h0M500.5,218.6h0M510.4,218.4h0M512.2,219.1h0M515.6,219.3h0M452.2,221.0h0M453.9,221.6h0M465.7,221.5h0M481.1,221.1h0M484.4,220.7h0M486.4,221.5h0M501.8,220.8h0M503.7,220.8h0M506.0,221.2h0M512.0,221.3h0M454.9,222.7h0M470.4,222.5h0M477.5,223.2h0M479.5,223.1h0M485.4,223.7h0M497.4,222.5h0M505.6,222.4h0M508.4,223.8h0M510.4,223.7h0M512.6,222.7h0M457.2,225.8h0M461.8,225.0h0M464.7,224.6h0M471.6,224.5h0M476.5,224.6h0M481.0,225.1h0M491.9,225.2h0M493.6,225.3h0M495.7,225.4h0M499.7,226.0h0M509.7,225.9h0M514.5,225.7h0" stroke="#5c2408" stroke-width="2.4"/>
</g></g>
<text x="441.5" y="165.2" font-size="6.4" font-weight="bold" text-anchor="end" fill="#111" textLength="33.0" lengthAdjust="spacingAndGlyphs" stroke="#f5ece4" stroke-width="1.8" paint-order="stroke" stroke-linejoin="round">MYC+ 60%</text>
<rect x="477.5" y="159.3" width="34.5" height="7.2" fill="#f3e6dc" opacity="0.85"/>
<text x="511.6" y="165.2" font-size="6.4" font-weight="bold" text-anchor="end" fill="#111" textLength="33.0" lengthAdjust="spacingAndGlyphs">MYC+ 95%</text>
<rect x="417.7" y="197.3" width="25.1" height="25.8" fill="#0a0d33"/>
<ellipse cx="430.8" cy="210.5" rx="10.7" ry="11.1" fill="#141868" opacity="0.9"/>
<ellipse cx="428.8" cy="211.5" rx="6.119999999999999" ry="6.359999999999999" fill="#1c2080" opacity="0.6"/>
<ellipse cx="430.8" cy="210.5" rx="10.2" ry="10.6" fill="none" stroke="#e2aa30" stroke-width="1.0"/>
<path d="M0,0 L-1.6,-3.4 L1.6,-3.4 Z" transform="translate(426.2,206.5) rotate(150)" fill="#35d466"/>
<path d="M0,0 L-1.5,-3.2 L1.5,-3.2 Z" transform="translate(433.4,221.8) rotate(0)" fill="#e8323c"/>
<circle cx="432.5" cy="213.0" r="0.7" fill="#d050c0"/>
<rect x="487.6" y="197.2" width="25.4" height="25.9" fill="#0a0d33"/>
<ellipse cx="501.3" cy="211.8" rx="10.7" ry="10.8" fill="#141868" opacity="0.9"/>
<ellipse cx="499.3" cy="212.8" rx="6.119999999999999" ry="6.180000000000001" fill="#1c2080" opacity="0.6"/>
<ellipse cx="501.3" cy="211.8" rx="10.2" ry="10.3" fill="none" stroke="#e2aa30" stroke-width="1.0"/>
<path d="M0,0 L-1.6,-3.4 L1.6,-3.4 Z" transform="translate(496.2,202.8) rotate(140)" fill="#35d466"/>
<path d="M0,0 L-1.5,-3.2 L1.5,-3.2 Z" transform="translate(509.4,203.6) rotate(-140)" fill="#e8323c"/>
<circle cx="496.5" cy="218.0" r="0.6" fill="#d05070"/>
<circle cx="497.5" cy="218.6" r="0.5" fill="#40c060"/>
<text x="6.3" y="272.4" font-size="11.3" font-weight="bold" text-anchor="start" fill="#111" textLength="6.9" lengthAdjust="spacingAndGlyphs">E</text>
<text x="92.6" y="272.8" font-size="9.3" font-weight="bold" text-anchor="middle" fill="#111" textLength="26.0" lengthAdjust="spacingAndGlyphs">REL#5</text>
<text transform="translate(13.4,331) rotate(-90)" font-size="7.8" text-anchor="middle" fill="#111" stroke="#111" stroke-width="0.22" textLength="92.6" lengthAdjust="spacingAndGlyphs">Variant allele frequency % (log)</text>
<g stroke-linecap="round">
<line x1="80.6" y1="290.5" x2="128.7" y2="285.1" stroke="#3f74a6" stroke-width="0.8"/>
<line x1="77.6" y1="289.0" x2="123.4" y2="286.5" stroke="#3f74a6" stroke-width="0.8"/>
<line x1="82.3" y1="288.6" x2="125.1" y2="286.6" stroke="#3f74a6" stroke-width="0.8"/>
<line x1="78.7" y1="291.4" x2="134.9" y2="285.9" stroke="#3f74a6" stroke-width="0.8"/>
<line x1="76.9" y1="290.8" x2="130.0" y2="286.9" stroke="#3f74a6" stroke-width="0.8"/>
<line x1="77.8" y1="289.0" x2="128.5" y2="289.1" stroke="#3f74a6" stroke-width="0.8"/>
<line x1="79.1" y1="291.1" x2="134.8" y2="285.1" stroke="#3f74a6" stroke-width="0.8"/>
<line x1="76.8" y1="290.6" x2="124.3" y2="285.2" stroke="#3f74a6" stroke-width="0.8"/>
<line x1="81.1" y1="291.2" x2="136.0" y2="286.2" stroke="#3f74a6" stroke-width="0.8"/>
<line x1="82.3" y1="288.9" x2="132.0" y2="286.2" stroke="#3f74a6" stroke-width="0.8"/>
<line x1="78.5" y1="288.5" x2="127.3" y2="288.2" stroke="#3f74a6" stroke-width="0.8"/>
<line x1="82.1" y1="287.5" x2="132.3" y2="288.4" stroke="#3f74a6" stroke-width="0.8"/>
<line x1="78.0" y1="291.3" x2="130.1" y2="285.1" stroke="#3f74a6" stroke-width="0.8"/>
<line x1="78.9" y1="291.3" x2="126.9" y2="289.3" stroke="#3f74a6" stroke-width="0.8"/>
<line x1="78.2" y1="300.7" x2="129.5" y2="299.5" stroke="#3f74a6" stroke-width="0.7"/>
<line x1="77.5" y1="302.2" x2="133.0" y2="300.7" stroke="#3f74a6" stroke-width="0.7"/>
<line x1="74.5" y1="301.4" x2="130.6" y2="298.6" stroke="#3f74a6" stroke-width="0.7"/>
<line x1="73.8" y1="302.1" x2="132.9" y2="297.4" stroke="#3f74a6" stroke-width="0.7"/>
<line x1="72.8" y1="300.0" x2="131.7" y2="297.3" stroke="#3f74a6" stroke-width="0.7"/>
<line x1="77.9" y1="300.3" x2="134.3" y2="301.9" stroke="#3f74a6" stroke-width="0.7"/>
<line x1="73.2" y1="300.1" x2="131.4" y2="297.4" stroke="#3f74a6" stroke-width="0.7"/>
<line x1="74.0" y1="301.8" x2="130.9" y2="299.2" stroke="#3f74a6" stroke-width="0.7"/>
<line x1="74.6" y1="309.7" x2="131.4" y2="297.0" stroke="#3f74a6" stroke-width="0.75" opacity="0.95"/>
<line x1="74.6" y1="312.4" x2="131.4" y2="306.0" stroke="#3f74a6" stroke-width="0.75" opacity="0.95"/>
<line x1="74.6" y1="323.2" x2="131.4" y2="347.4" stroke="#3f74a6" stroke-width="0.75" opacity="0.95"/>
<line x1="74.6" y1="327.8" x2="131.4" y2="343.0" stroke="#3f74a6" stroke-width="0.75" opacity="0.95"/>
<line x1="74.6" y1="334.0" x2="131.4" y2="322.0" stroke="#3f74a6" stroke-width="0.75" opacity="0.95"/>
<line x1="74.6" y1="338.6" x2="131.4" y2="354.2" stroke="#3f74a6" stroke-width="0.75" opacity="0.95"/>
<line x1="74.6" y1="342.0" x2="131.4" y2="320.5" stroke="#3f74a6" stroke-width="0.75" opacity="0.95"/>
<line x1="74.6" y1="346.0" x2="131.4" y2="302.0" stroke="#3f74a6" stroke-width="0.75" opacity="0.95"/>
<line x1="74.6" y1="351.5" x2="131.4" y2="328.6" stroke="#3f74a6" stroke-width="0.75" opacity="0.95"/>
<line x1="74.6" y1="355.5" x2="131.4" y2="316.5" stroke="#3f74a6" stroke-width="0.75" opacity="0.95"/>
<line x1="74.6" y1="359.5" x2="131.4" y2="299.0" stroke="#3f74a6" stroke-width="0.75" opacity="0.95"/>
<line x1="74.6" y1="369.0" x2="131.4" y2="324.6" stroke="#3f74a6" stroke-width="0.75" opacity="0.95"/>
<line x1="74.6" y1="376.8" x2="131.4" y2="310.0" stroke="#3f74a6" stroke-width="0.75" opacity="0.95"/>
<line x1="74.6" y1="379.7" x2="131.4" y2="312.4" stroke="#3f74a6" stroke-width="0.75" opacity="0.95"/>
<line x1="74.6" y1="383.8" x2="131.4" y2="318.0" stroke="#3f74a6" stroke-width="0.75" opacity="0.95"/>
<line x1="74.6" y1="305.0" x2="131.4" y2="304.3" stroke="#3f74a6" stroke-width="0.75" opacity="0.95"/>
<line x1="74.6" y1="307.0" x2="131.4" y2="332.6" stroke="#3f74a6" stroke-width="0.75" opacity="0.95"/>
<line x1="74.6" y1="316.0" x2="131.4" y2="308.0" stroke="#3f74a6" stroke-width="0.75" opacity="0.95"/>
<line x1="74.6" y1="318.0" x2="131.4" y2="300.3" stroke="#3f74a6" stroke-width="0.75" opacity="0.95"/>
<line x1="74.6" y1="330.0" x2="131.4" y2="314.0" stroke="#3f74a6" stroke-width="0.75" opacity="0.95"/>
<line x1="74.6" y1="349.0" x2="131.4" y2="336.0" stroke="#3f74a6" stroke-width="0.75" opacity="0.95"/>
<line x1="74.6" y1="364.0" x2="131.4" y2="362.8" stroke="#3f74a6" stroke-width="0.75" opacity="0.95"/>
<line x1="74.6" y1="372.0" x2="131.4" y2="338.0" stroke="#3f74a6" stroke-width="0.75" opacity="0.95"/>
<line x1="74.6" y1="381.0" x2="131.4" y2="326.0" stroke="#3f74a6" stroke-width="0.75" opacity="0.95"/>
<line x1="74.6" y1="309.8" x2="131.4" y2="327.2" stroke="#3f74a6" stroke-width="0.7" opacity="0.9"/>
<line x1="74.6" y1="318.7" x2="131.4" y2="323.4" stroke="#3f74a6" stroke-width="0.7" opacity="0.9"/>
<line x1="74.6" y1="305.1" x2="131.4" y2="318.2" stroke="#3f74a6" stroke-width="0.7" opacity="0.9"/>
<line x1="74.6" y1="321.1" x2="131.4" y2="300.8" stroke="#3f74a6" stroke-width="0.7" opacity="0.9"/>
<line x1="74.6" y1="343.8" x2="131.4" y2="296.2" stroke="#3f74a6" stroke-width="0.7" opacity="0.9"/>
<line x1="74.6" y1="335.3" x2="131.4" y2="330.6" stroke="#3f74a6" stroke-width="0.7" opacity="0.9"/>
<line x1="74.6" y1="309.1" x2="131.4" y2="302.0" stroke="#3f74a6" stroke-width="0.7" opacity="0.9"/>
<line x1="74.6" y1="315.5" x2="131.4" y2="303.2" stroke="#3f74a6" stroke-width="0.7" opacity="0.9"/>
<line x1="74.6" y1="339.7" x2="131.4" y2="318.5" stroke="#3f74a6" stroke-width="0.7" opacity="0.9"/>
<line x1="74.6" y1="309.8" x2="131.4" y2="330.9" stroke="#3f74a6" stroke-width="0.7" opacity="0.9"/>
<line x1="74.6" y1="310.5" x2="131.4" y2="330.7" stroke="#3f74a6" stroke-width="0.7" opacity="0.9"/>
<line x1="74.6" y1="318.5" x2="131.4" y2="296.8" stroke="#3f74a6" stroke-width="0.7" opacity="0.9"/>
<line x1="74.6" y1="319.8" x2="131.4" y2="329.7" stroke="#3f74a6" stroke-width="0.7" opacity="0.9"/>
<line x1="74.6" y1="313.3" x2="131.4" y2="307.9" stroke="#3f74a6" stroke-width="0.7" opacity="0.9"/>
<line x1="74.6" y1="337.1" x2="131.4" y2="317.1" stroke="#3f74a6" stroke-width="0.7" opacity="0.9"/>
<line x1="74.6" y1="327.6" x2="131.4" y2="321.5" stroke="#3f74a6" stroke-width="0.7" opacity="0.9"/>
<line x1="84.6" y1="296.5" x2="126.2" y2="296.2" stroke="#cf3552" stroke-width="0.7" opacity="0.75"/>
<line x1="85.3" y1="296.8" x2="121.8" y2="291.5" stroke="#cf3552" stroke-width="0.7" opacity="0.75"/>
<line x1="84.5" y1="296.0" x2="121.0" y2="293.7" stroke="#cf3552" stroke-width="0.7" opacity="0.75"/>
<line x1="79.8" y1="293.5" x2="126.5" y2="292.6" stroke="#cf3552" stroke-width="0.7" opacity="0.75"/>
<line x1="81.8" y1="296.1" x2="127.3" y2="293.3" stroke="#cf3552" stroke-width="0.7" opacity="0.75"/>
<line x1="85.1" y1="295.6" x2="124.6" y2="292.5" stroke="#cf3552" stroke-width="0.7" opacity="0.75"/>
<line x1="82.4" y1="299.4" x2="126.0" y2="291.4" stroke="#cf3552" stroke-width="0.7" opacity="0.75"/>
<line x1="78.9" y1="298.2" x2="121.7" y2="298.3" stroke="#cf3552" stroke-width="0.7" opacity="0.75"/>
<line x1="86.4" y1="292.5" x2="124.1" y2="292.1" stroke="#cf3552" stroke-width="0.7" opacity="0.75"/>
<line x1="85.5" y1="298.9" x2="123.0" y2="293.7" stroke="#cf3552" stroke-width="0.7" opacity="0.75"/>
<line x1="86.2" y1="293.6" x2="120.2" y2="297.1" stroke="#cf3552" stroke-width="0.7" opacity="0.75"/>
<line x1="80.3" y1="296.3" x2="122.3" y2="295.8" stroke="#cf3552" stroke-width="0.7" opacity="0.75"/>
<line x1="80.6" y1="292.6" x2="124.2" y2="292.2" stroke="#cf3552" stroke-width="0.7" opacity="0.75"/>
<line x1="78.7" y1="296.7" x2="122.0" y2="292.2" stroke="#cf3552" stroke-width="0.7" opacity="0.75"/>
<line x1="81.1" y1="296.9" x2="121.0" y2="292.1" stroke="#cf3552" stroke-width="0.7" opacity="0.75"/>
<line x1="74.6" y1="316.5" x2="131.4" y2="308.0" stroke="#cf3552" stroke-width="0.7"/>
<line x1="74.6" y1="318.0" x2="131.4" y2="303.0" stroke="#cf3552" stroke-width="0.7"/>
<line x1="74.6" y1="363.5" x2="131.4" y2="322.0" stroke="#cf3552" stroke-width="0.6"/>
</g>
<circle cx="65.5" cy="294.7" r="1.3" fill="#1d4f86"/>
<circle cx="60.0" cy="293.8" r="1.3" fill="#1d4f86"/>
<circle cx="62.5" cy="294.7" r="1.3" fill="#1d4f86"/>
<circle cx="64.3" cy="293.8" r="1.3" fill="#1d4f86"/>
<circle cx="60.7" cy="295.0" r="1.3" fill="#1d4f86"/>
<circle cx="62.6" cy="294.2" r="1.3" fill="#1d4f86"/>
<circle cx="61.8" cy="295.5" r="1.3" fill="#1d4f86"/>
<circle cx="61.8" cy="294.7" r="1.3" fill="#1d4f86"/>
<circle cx="62.2" cy="294.4" r="1.3" fill="#1d4f86"/>
<line x1="59.0" y1="294.6" x2="70.0" y2="294.6" stroke="#1d4f86" stroke-width="1.0"/>
<circle cx="82.1" cy="290.5" r="1.3" fill="#1d4f86"/>
<circle cx="75.1" cy="288.2" r="1.3" fill="#1d4f86"/>
<circle cx="80.2" cy="288.2" r="1.3" fill="#1d4f86"/>
<circle cx="70.1" cy="290.2" r="1.3" fill="#1d4f86"/>
<circle cx="75.9" cy="290.0" r="1.3" fill="#1d4f86"/>
<circle cx="75.7" cy="290.2" r="1.3" fill="#1d4f86"/>
<circle cx="76.5" cy="288.1" r="1.3" fill="#1d4f86"/>
<circle cx="70.2" cy="289.2" r="1.3" fill="#1d4f86"/>
<circle cx="79.0" cy="290.2" r="1.3" fill="#1d4f86"/>
<circle cx="71.2" cy="289.4" r="1.3" fill="#1d4f86"/>
<circle cx="75.0" cy="301.5" r="1.3" fill="#1d4f86"/>
<circle cx="73.2" cy="300.6" r="1.3" fill="#1d4f86"/>
<circle cx="76.2" cy="303.2" r="1.3" fill="#1d4f86"/>
<circle cx="72.9" cy="301.5" r="1.3" fill="#1d4f86"/>
<circle cx="78.4" cy="303.4" r="1.3" fill="#1d4f86"/>
<circle cx="73.6" cy="300.0" r="1.3" fill="#1d4f86"/>
<circle cx="79.5" cy="303.4" r="1.3" fill="#1d4f86"/>
<circle cx="75.9" cy="299.7" r="1.3" fill="#1d4f86"/>
<path d="M65,296 L70,293 L74,290 L78,288.8 L81,291 L86,293.5 L88.5,296 L85,298.5 L80,300 L76,301.5 L72,299.5 L68,298 Z" fill="#c4203f" stroke="none" stroke-width="1"/>
<circle cx="86.4" cy="294.9" r="1.3" fill="#c4203f"/>
<circle cx="85.9" cy="296.7" r="1.3" fill="#c4203f"/>
<circle cx="84.1" cy="293.2" r="1.3" fill="#c4203f"/>
<circle cx="83.3" cy="293.7" r="1.3" fill="#c4203f"/>
<circle cx="74.9" cy="298.3" r="1.3" fill="#c4203f"/>
<circle cx="84.2" cy="293.4" r="1.3" fill="#c4203f"/>
<circle cx="70.8" cy="295.0" r="1.3" fill="#c4203f"/>
<circle cx="77.4" cy="294.9" r="1.3" fill="#c4203f"/>
<circle cx="68.7" cy="293.9" r="1.3" fill="#c4203f"/>
<circle cx="81.9" cy="298.7" r="1.3" fill="#c4203f"/>
<circle cx="66.9" cy="296.2" r="1.3" fill="#c4203f"/>
<circle cx="82.7" cy="292.3" r="1.3" fill="#c4203f"/>
<circle cx="84.4" cy="292.9" r="1.3" fill="#c4203f"/>
<circle cx="79.2" cy="296.1" r="1.3" fill="#c4203f"/>
<circle cx="79.8" cy="294.3" r="1.3" fill="#c4203f"/>
<circle cx="75.2" cy="296.4" r="1.3" fill="#c4203f"/>
<circle cx="75.4" cy="296.9" r="1.3" fill="#c4203f"/>
<circle cx="75.8" cy="295.3" r="1.3" fill="#c4203f"/>
<circle cx="66.5" cy="296.6" r="1.3" fill="#c4203f"/>
<circle cx="76.8" cy="293.8" r="1.3" fill="#c4203f"/>
<circle cx="82.8" cy="297.8" r="1.3" fill="#c4203f"/>
<circle cx="76.1" cy="293.3" r="1.3" fill="#c4203f"/>
<circle cx="75.8" cy="289.8" r="1.3" fill="#c4203f"/>
<circle cx="73.0" cy="290.6" r="1.3" fill="#c4203f"/>
<circle cx="72.7" cy="290.6" r="1.3" fill="#c4203f"/>
<circle cx="76.1" cy="289.6" r="1.3" fill="#c4203f"/>
<circle cx="77.1" cy="289.7" r="1.3" fill="#c4203f"/>
<circle cx="77.9" cy="291.4" r="1.3" fill="#c4203f"/>
<circle cx="130.5" cy="285.4" r="1.3" fill="#1d4f86"/>
<circle cx="130.3" cy="286.6" r="1.3" fill="#1d4f86"/>
<circle cx="141.3" cy="285.7" r="1.3" fill="#1d4f86"/>
<circle cx="139.0" cy="289.0" r="1.3" fill="#1d4f86"/>
<circle cx="135.9" cy="288.3" r="1.3" fill="#1d4f86"/>
<circle cx="122.7" cy="288.9" r="1.3" fill="#1d4f86"/>
<circle cx="130.1" cy="288.8" r="1.3" fill="#1d4f86"/>
<circle cx="140.4" cy="285.8" r="1.3" fill="#1d4f86"/>
<circle cx="137.3" cy="288.7" r="1.3" fill="#1d4f86"/>
<circle cx="119.6" cy="286.5" r="1.3" fill="#1d4f86"/>
<circle cx="136.5" cy="285.8" r="1.3" fill="#1d4f86"/>
<circle cx="140.0" cy="286.2" r="1.3" fill="#1d4f86"/>
<circle cx="138.0" cy="285.7" r="1.3" fill="#1d4f86"/>
<circle cx="130.3" cy="288.7" r="1.3" fill="#1d4f86"/>
<circle cx="123.1" cy="286.2" r="1.3" fill="#1d4f86"/>
<circle cx="130.4" cy="286.4" r="1.3" fill="#1d4f86"/>
<circle cx="128.3" cy="300.6" r="1.3" fill="#1d4f86"/>
<circle cx="129.1" cy="303.3" r="1.3" fill="#1d4f86"/>
<circle cx="132.8" cy="303.1" r="1.3" fill="#1d4f86"/>
<circle cx="129.2" cy="302.7" r="1.3" fill="#1d4f86"/>
<circle cx="128.8" cy="301.9" r="1.3" fill="#1d4f86"/>
<line x1="138.0" y1="291.8" x2="148.0" y2="291.8" stroke="#1d4f86" stroke-width="1.0"/>
<path d="M119.2,294 L124,291 L130,289.2 L136,290.5 L139,293 L148,294.8 L148,296 L139,297.2 L136,299.5 L132,301.5 L128,299.5 L123,297.5 Z" fill="#c4203f" stroke="none" stroke-width="1"/>
<circle cx="132.1" cy="293.9" r="1.3" fill="#c4203f"/>
<circle cx="136.6" cy="295.4" r="1.3" fill="#c4203f"/>
<circle cx="131.0" cy="298.1" r="1.3" fill="#c4203f"/>
<circle cx="122.0" cy="298.9" r="1.3" fill="#c4203f"/>
<circle cx="132.0" cy="294.2" r="1.3" fill="#c4203f"/>
<circle cx="135.2" cy="293.1" r="1.3" fill="#c4203f"/>
<circle cx="138.8" cy="295.6" r="1.3" fill="#c4203f"/>
<circle cx="126.8" cy="297.1" r="1.3" fill="#c4203f"/>
<circle cx="128.4" cy="292.4" r="1.3" fill="#c4203f"/>
<circle cx="134.1" cy="291.4" r="1.3" fill="#c4203f"/>
<circle cx="135.6" cy="293.0" r="1.3" fill="#c4203f"/>
<circle cx="132.1" cy="298.9" r="1.3" fill="#c4203f"/>
<circle cx="131.1" cy="296.3" r="1.3" fill="#c4203f"/>
<circle cx="125.9" cy="291.0" r="1.3" fill="#c4203f"/>
<circle cx="120.6" cy="292.2" r="1.3" fill="#c4203f"/>
<circle cx="131.7" cy="294.5" r="1.3" fill="#c4203f"/>
<circle cx="129.7" cy="298.2" r="1.3" fill="#c4203f"/>
<circle cx="122.5" cy="292.8" r="1.3" fill="#c4203f"/>
<circle cx="132.4" cy="291.2" r="1.3" fill="#c4203f"/>
<circle cx="120.0" cy="293.8" r="1.3" fill="#c4203f"/>
<circle cx="122.0" cy="293.9" r="1.3" fill="#c4203f"/>
<circle cx="124.3" cy="295.7" r="1.3" fill="#c4203f"/>
<circle cx="74.7" cy="309.7" r="1.25" fill="#1d4f86"/>
<circle cx="74.3" cy="312.4" r="1.25" fill="#1d4f86"/>
<circle cx="74.7" cy="323.2" r="1.25" fill="#1d4f86"/>
<circle cx="74.6" cy="327.8" r="1.25" fill="#1d4f86"/>
<circle cx="74.2" cy="334.0" r="1.25" fill="#1d4f86"/>
<circle cx="75.0" cy="338.6" r="1.25" fill="#1d4f86"/>
<circle cx="74.3" cy="342.0" r="1.25" fill="#1d4f86"/>
<circle cx="74.2" cy="346.0" r="1.25" fill="#1d4f86"/>
<circle cx="74.2" cy="351.5" r="1.25" fill="#1d4f86"/>
<circle cx="74.7" cy="355.5" r="1.25" fill="#1d4f86"/>
<circle cx="75.0" cy="359.5" r="1.25" fill="#1d4f86"/>
<circle cx="74.9" cy="369.0" r="1.25" fill="#1d4f86"/>
<circle cx="74.5" cy="376.8" r="1.25" fill="#1d4f86"/>
<circle cx="74.4" cy="379.7" r="1.25" fill="#1d4f86"/>
<circle cx="74.1" cy="383.8" r="1.25" fill="#1d4f86"/>
<circle cx="74.7" cy="305.0" r="1.25" fill="#1d4f86"/>
<circle cx="74.7" cy="307.0" r="1.25" fill="#1d4f86"/>
<circle cx="74.5" cy="316.0" r="1.25" fill="#1d4f86"/>
<circle cx="74.7" cy="318.0" r="1.25" fill="#1d4f86"/>
<circle cx="74.5" cy="330.0" r="1.25" fill="#1d4f86"/>
<circle cx="75.0" cy="349.0" r="1.25" fill="#1d4f86"/>
<circle cx="74.8" cy="364.0" r="1.25" fill="#1d4f86"/>
<circle cx="74.3" cy="372.0" r="1.25" fill="#1d4f86"/>
<circle cx="75.0" cy="381.0" r="1.25" fill="#1d4f86"/>
<circle cx="130.9" cy="300.3" r="1.25" fill="#1d4f86"/>
<circle cx="131.4" cy="304.3" r="1.25" fill="#1d4f86"/>
<circle cx="131.3" cy="312.4" r="1.25" fill="#1d4f86"/>
<circle cx="131.1" cy="316.5" r="1.25" fill="#1d4f86"/>
<circle cx="131.0" cy="320.5" r="1.25" fill="#1d4f86"/>
<circle cx="131.7" cy="324.6" r="1.25" fill="#1d4f86"/>
<circle cx="130.9" cy="328.6" r="1.25" fill="#1d4f86"/>
<circle cx="131.5" cy="332.6" r="1.25" fill="#1d4f86"/>
<circle cx="131.8" cy="338.0" r="1.25" fill="#1d4f86"/>
<circle cx="131.0" cy="347.4" r="1.25" fill="#1d4f86"/>
<circle cx="131.1" cy="354.2" r="1.25" fill="#1d4f86"/>
<circle cx="131.5" cy="362.8" r="1.25" fill="#1d4f86"/>
<circle cx="131.4" cy="302.0" r="1.25" fill="#1d4f86"/>
<circle cx="131.5" cy="306.0" r="1.25" fill="#1d4f86"/>
<circle cx="131.7" cy="308.0" r="1.25" fill="#1d4f86"/>
<circle cx="131.1" cy="310.0" r="1.25" fill="#1d4f86"/>
<circle cx="131.2" cy="314.0" r="1.25" fill="#1d4f86"/>
<circle cx="131.2" cy="318.0" r="1.25" fill="#1d4f86"/>
<circle cx="130.9" cy="322.0" r="1.25" fill="#1d4f86"/>
<circle cx="131.8" cy="326.0" r="1.25" fill="#1d4f86"/>
<circle cx="131.7" cy="336.0" r="1.25" fill="#1d4f86"/>
<circle cx="131.6" cy="343.0" r="1.25" fill="#1d4f86"/>
<circle cx="130.9" cy="297.0" r="1.25" fill="#1d4f86"/>
<circle cx="131.7" cy="299.0" r="1.25" fill="#1d4f86"/>
<circle cx="74.6" cy="316.5" r="1.3" fill="#c4203f"/>
<circle cx="74.6" cy="318.0" r="1.3" fill="#c4203f"/>
<circle cx="74.6" cy="363.5" r="1.3" fill="#c4203f"/>
<circle cx="74.6" cy="332.0" r="1.3" fill="#c4203f"/>
<circle cx="131.4" cy="308.0" r="1.3" fill="#c4203f"/>
<circle cx="131.4" cy="303.5" r="1.3" fill="#c4203f"/>
<circle cx="131.4" cy="322.0" r="1.3" fill="#c4203f"/>
<line x1="39.9" y1="277.0" x2="39.9" y2="384.2" stroke="#111" stroke-width="1.1"/>
<line x1="36.7" y1="280.3" x2="43.0" y2="280.3" stroke="#111" stroke-width="1.0"/>
<text x="34.7" y="282.6" font-size="6.5" font-weight="normal" text-anchor="end" fill="#111" textLength="16.8" lengthAdjust="spacingAndGlyphs">100.0</text>
<line x1="36.7" y1="312.2" x2="43.0" y2="312.2" stroke="#111" stroke-width="1.0"/>
<text x="34.7" y="314.5" font-size="6.5" font-weight="normal" text-anchor="end" fill="#111" textLength="13.1" lengthAdjust="spacingAndGlyphs">10.0</text>
<line x1="36.7" y1="344.6" x2="43.0" y2="344.6" stroke="#111" stroke-width="1.0"/>
<text x="34.7" y="346.9" font-size="6.5" font-weight="normal" text-anchor="end" fill="#111" textLength="9.3" lengthAdjust="spacingAndGlyphs">1.0</text>
<line x1="36.7" y1="376.7" x2="43.0" y2="376.7" stroke="#111" stroke-width="1.0"/>
<text x="34.7" y="379.0" font-size="6.5" font-weight="normal" text-anchor="end" fill="#111" textLength="9.3" lengthAdjust="spacingAndGlyphs">0.1</text>
<line x1="39.9" y1="302.5" x2="41.6" y2="302.5" stroke="#111" stroke-width="0.5"/>
<line x1="39.9" y1="296.8" x2="41.6" y2="296.8" stroke="#111" stroke-width="0.5"/>
<line x1="39.9" y1="292.8" x2="41.6" y2="292.8" stroke="#111" stroke-width="0.5"/>
<line x1="39.9" y1="289.7" x2="41.6" y2="289.7" stroke="#111" stroke-width="0.5"/>
<line x1="39.9" y1="287.1" x2="41.6" y2="287.1" stroke="#111" stroke-width="0.5"/>
<line x1="39.9" y1="285.0" x2="41.6" y2="285.0" stroke="#111" stroke-width="0.5"/>
<line x1="39.9" y1="283.1" x2="41.6" y2="283.1" stroke="#111" stroke-width="0.5"/>
<line x1="39.9" y1="281.5" x2="41.6" y2="281.5" stroke="#111" stroke-width="0.5"/>
<line x1="39.9" y1="334.9" x2="41.6" y2="334.9" stroke="#111" stroke-width="0.5"/>
<line x1="39.9" y1="329.2" x2="41.6" y2="329.2" stroke="#111" stroke-width="0.5"/>
<line x1="39.9" y1="325.2" x2="41.6" y2="325.2" stroke="#111" stroke-width="0.5"/>
<line x1="39.9" y1="322.1" x2="41.6" y2="322.1" stroke="#111" stroke-width="0.5"/>
<line x1="39.9" y1="319.5" x2="41.6" y2="319.5" stroke="#111" stroke-width="0.5"/>
<line x1="39.9" y1="317.4" x2="41.6" y2="317.4" stroke="#111" stroke-width="0.5"/>
<line x1="39.9" y1="315.5" x2="41.6" y2="315.5" stroke="#111" stroke-width="0.5"/>
<line x1="39.9" y1="313.9" x2="41.6" y2="313.9" stroke="#111" stroke-width="0.5"/>
<line x1="39.9" y1="367.0" x2="41.6" y2="367.0" stroke="#111" stroke-width="0.5"/>
<line x1="39.9" y1="361.3" x2="41.6" y2="361.3" stroke="#111" stroke-width="0.5"/>
<line x1="39.9" y1="357.3" x2="41.6" y2="357.3" stroke="#111" stroke-width="0.5"/>
<line x1="39.9" y1="354.2" x2="41.6" y2="354.2" stroke="#111" stroke-width="0.5"/>
<line x1="39.9" y1="351.6" x2="41.6" y2="351.6" stroke="#111" stroke-width="0.5"/>
<line x1="39.9" y1="349.5" x2="41.6" y2="349.5" stroke="#111" stroke-width="0.5"/>
<line x1="39.9" y1="347.6" x2="41.6" y2="347.6" stroke="#111" stroke-width="0.5"/>
<line x1="39.9" y1="346.0" x2="41.6" y2="346.0" stroke="#111" stroke-width="0.5"/>
<line x1="39.9" y1="381.7" x2="41.6" y2="381.7" stroke="#111" stroke-width="0.5"/>
<line x1="39.9" y1="379.8" x2="41.6" y2="379.8" stroke="#111" stroke-width="0.5"/>
<line x1="39.9" y1="378.2" x2="41.6" y2="378.2" stroke="#111" stroke-width="0.5"/>
<line x1="39.4" y1="384.2" x2="171.0" y2="384.2" stroke="#111" stroke-width="1.1"/>
<text x="63.3" y="283.0" font-size="6.7" font-weight="normal" text-anchor="start" fill="#111" textLength="28.2" lengthAdjust="spacingAndGlyphs">HIST1H1E</text>
<line x1="76.7" y1="284.2" x2="68.0" y2="291.8" stroke="#111" stroke-width="0.65"/>
<text x="101.0" y="283.0" font-size="6.7" font-weight="normal" text-anchor="start" fill="#111" textLength="28.8" lengthAdjust="spacingAndGlyphs">HIST1H1E</text>
<line x1="126.0" y1="284.5" x2="130.0" y2="288.0" stroke="#111" stroke-width="0.65"/>
<text x="133.3" y="284.2" font-size="6.7" font-weight="normal" text-anchor="start" fill="#111" textLength="14.2" lengthAdjust="spacingAndGlyphs">TP53</text>
<line x1="138.0" y1="285.5" x2="135.0" y2="289.0" stroke="#111" stroke-width="0.65"/>
<text x="41.7" y="296.3" font-size="6.7" font-weight="normal" text-anchor="start" fill="#111" textLength="14.8" lengthAdjust="spacingAndGlyphs">MLL2</text>
<line x1="56.8" y1="294.2" x2="62.0" y2="294.2" stroke="#111" stroke-width="0.65"/>
<text x="40.9" y="305.8" font-size="6.7" font-weight="normal" text-anchor="start" fill="#111" textLength="18.3" lengthAdjust="spacingAndGlyphs">STAT6</text>
<line x1="59.5" y1="302.0" x2="70.0" y2="296.5" stroke="#111" stroke-width="0.65"/>
<text x="64.1" y="305.8" font-size="6.7" font-weight="normal" text-anchor="start" fill="#111" textLength="13.4" lengthAdjust="spacingAndGlyphs">TP53</text>
<line x1="75.0" y1="302.0" x2="76.0" y2="299.0" stroke="#111" stroke-width="0.65"/>
<text x="57.1" y="325.5" font-size="6.7" font-weight="normal" text-anchor="start" fill="#111" textLength="14.8" lengthAdjust="spacingAndGlyphs">MLL2</text>
<line x1="72.2" y1="322.0" x2="74.3" y2="318.5" stroke="#111" stroke-width="0.65"/>
<rect x="111.8" y="291.2" width="17.8" height="6.4" fill="#f3d5da" opacity="0.8"/>
<text x="112.6" y="296.6" font-size="6.6" font-weight="normal" text-anchor="start" fill="#222" textLength="16.4" lengthAdjust="spacingAndGlyphs">STAT6</text>
<text x="148.3" y="294.4" font-size="6.7" font-weight="normal" text-anchor="start" fill="#111" textLength="14.6" lengthAdjust="spacingAndGlyphs">MLL2</text>
<line x1="141.0" y1="291.8" x2="148.0" y2="291.8" stroke="#111" stroke-width="0.65"/>
<text x="138.7" y="308.0" font-size="6.7" font-weight="normal" text-anchor="start" fill="#111" textLength="14.8" lengthAdjust="spacingAndGlyphs">MLL2</text>
<line x1="138.5" y1="303.0" x2="133.5" y2="297.5" stroke="#111" stroke-width="0.65"/>
<text x="74.0" y="394.0" font-size="6.6" font-weight="normal" text-anchor="middle" fill="#111" textLength="32.0" lengthAdjust="spacingAndGlyphs">Diagnostic</text>
<text x="74.0" y="401.2" font-size="6.6" font-weight="normal" text-anchor="middle" fill="#111" textLength="20.5" lengthAdjust="spacingAndGlyphs">biopsy</text>
<text x="131.6" y="394.0" font-size="6.6" font-weight="normal" text-anchor="middle" fill="#111" textLength="39.5" lengthAdjust="spacingAndGlyphs">Pretreatment</text>
<text x="131.6" y="401.2" font-size="6.6" font-weight="normal" text-anchor="middle" fill="#111" textLength="20.0" lengthAdjust="spacingAndGlyphs">ctDNA</text>
<rect x="58.9" y="409.8" width="31.4" height="31.0" fill="#fff" stroke="#111" stroke-width="1.05" stroke-dasharray="2.0,1.8"/>
<rect x="61.0" y="411.6" width="27.4" height="27.4" fill="#aa5cb6"/>
<rect x="61.0" y="411.6" width="27.4" height="27.4" fill="#fff" filter="url(#he)"/>
<line x1="74.6" y1="441.0" x2="74.6" y2="461.5" stroke="#111" stroke-width="1.05" stroke-dasharray="2.0,1.8"/>
<circle cx="132" cy="423.6" r="14.3" fill="#fff" stroke="#111" stroke-width="1.05" stroke-dasharray="2.0,1.8"/>
<rect x="128.6" y="412.7" width="6.6" height="5.0" fill="#e1edf7" rx="1"/>
<rect x="128.6" y="417.4" width="6.6" height="2.7" fill="#2e9a48"/>
<rect x="128.6" y="420.0" width="6.6" height="11.7" fill="#f0b81e"/>
<path d="M128.6,431.6 H135.2 V435.6 Q135.2,437.6 133.4,437.6 H130.4 Q128.6,437.6 128.6,435.6 Z" fill="#c41f3a"/>
<line x1="146.6" y1="423.6" x2="176.0" y2="423.6" stroke="#111" stroke-width="1.05" stroke-dasharray="2.2,2.0"/>
<text x="131.6" y="448.8" font-size="6.6" text-anchor="middle" fill="#111" stroke="#111" stroke-width="0.22" textLength="51" lengthAdjust="spacingAndGlyphs"><tspan font-weight="bold">4.53</tspan> log hGE/ml</text>
<path d="M183.8,276.5 H502.7 L512.4,284.4 V343.3 L504.4,351.2 H335 L324,358.5 V473 L316.5,479.5 H184.2 L176.3,470 V284.4 Z" fill="none" stroke="#222" stroke-width="1.05" stroke-dasharray="2.2,2.0"/>
<text x="168.0" y="272.5" font-size="11" font-weight="bold" text-anchor="start" fill="#111" textLength="7.0" lengthAdjust="spacingAndGlyphs">F</text>
<text x="208.8" y="286.2" font-size="8.0" font-weight="bold" text-anchor="start" fill="#111" textLength="193.5" lengthAdjust="spacingAndGlyphs">Pretreatment cfDNA: Whole genome sequencing</text>
<text x="208.8" y="295.3" font-size="8.0" font-weight="normal" text-anchor="start" fill="#333" textLength="18.5" lengthAdjust="spacingAndGlyphs">Chr8</text>
<path d="M178.9,359 C179.5,372 182,390 187.7,402 C193,412 202,420 214,426 L236.9,430 V354 C225,359 205,366 191.7,367.8 C188,368 185,366 183.8,363 Z" fill="url(#sw2)" stroke="none" stroke-width="1"/>
<path d="M208.4,305.9 V327.5 C199,333 190,345 184.8,357 L183.8,363 C182,364 180,363 178.9,359 C178.5,340 190,318 208.4,305.9 Z" fill="url(#sw1)" stroke="none" stroke-width="1"/>
<text x="192.3" y="363.0" font-size="11" font-weight="bold" text-anchor="start" fill="#111" textLength="9.3" lengthAdjust="spacingAndGlyphs">G</text>
<path d="M208.2,328.0 L208.2,327.0 L209.1,326.7 L210.0,326.9 L210.9,326.7 L211.8,326.6 L212.7,327.1 L213.6,327.2 L214.5,326.4 L215.4,327.0 L216.3,327.0 L217.2,326.3 L218.1,326.8 L219.0,326.4 L219.9,326.8 L220.8,326.6 L221.7,327.1 L222.6,326.6 L223.5,326.4 L224.4,326.7 L225.3,326.5 L226.2,326.6 L227.1,327.1 L228.0,326.5 L228.9,326.7 L229.8,326.9 L230.7,327.2 L231.6,326.4 L232.5,326.8 L233.4,326.6 L234.3,326.4 L235.2,326.6 L236.1,326.4 L237.0,326.8 L237.9,326.5 L238.8,326.8 L239.7,326.4 L240.6,326.4 L241.5,327.1 L242.4,327.1 L243.3,327.0 L244.2,326.3 L245.1,326.8 L246.0,326.6 L246.9,326.9 L247.8,326.7 L248.7,326.9 L249.6,326.9 L250.5,326.7 L251.4,326.7 L252.3,326.4 L253.2,326.6 L254.1,326.4 L255.0,326.4 L255.9,326.3 L256.8,326.6 L257.7,327.1 L258.6,326.4 L259.5,326.3 L260.4,326.4 L261.3,326.7 L262.2,326.6 L263.1,327.0 L264.0,326.5 L264.9,326.7 L265.8,326.9 L266.7,327.1 L267.6,326.4 L268.5,326.3 L269.4,327.1 L270.3,326.5 L271.2,326.8 L272.1,327.1 L273.0,326.9 L273.9,326.5 L274.8,326.4 L275.7,327.2 L276.6,326.6 L277.5,327.2 L278.4,326.6 L279.3,326.9 L280.2,326.4 L281.1,326.3 L282.0,326.7 L282.9,326.3 L283.8,326.9 L284.7,327.1 L285.6,326.7 L286.5,327.2 L287.4,327.0 L288.3,326.8 L289.2,326.7 L290.1,327.1 L291.0,327.2 L291.9,326.4 L292.8,326.4 L293.7,326.4 L294.6,327.8 L295.5,327.8 L296.4,327.8 L297.3,327.8 L298.2,326.4 L299.1,326.7 L300.0,326.7 L300.9,326.6 L301.8,326.4 L302.7,326.7 L303.6,326.8 L304.5,326.6 L305.4,327.0 L306.3,326.9 L307.2,326.3 L308.1,326.7 L309.0,326.7 L309.9,327.2 L310.8,326.8 L311.7,326.7 L312.6,327.2 L313.5,326.6 L314.4,326.6 L315.3,327.1 L316.2,326.6 L317.1,326.8 L318.0,326.6 L318.9,326.9 L319.8,326.6 L320.7,326.5 L321.6,327.2 L322.5,327.1 L323.4,326.6 L324.3,326.3 L325.2,327.0 L326.1,326.8 L327.0,326.7 L327.9,326.9 L328.8,326.9 L329.7,326.9 L330.6,326.9 L331.5,326.7 L332.4,326.9 L333.3,326.9 L334.2,326.5 L335.1,327.2 L336.0,326.7 L336.9,326.5 L337.8,326.9 L338.7,327.0 L339.6,326.5 L340.5,327.0 L341.4,327.0 L342.3,326.8 L343.2,326.6 L344.1,327.1 L345.0,326.9 L345.9,326.9 L346.8,326.4 L347.7,326.8 L348.6,326.4 L349.5,327.0 L350.4,326.9 L351.3,326.6 L352.2,326.4 L353.1,326.8 L354.0,327.0 L354.9,327.1 L355.8,326.7 L356.7,327.0 L357.6,326.5 L358.5,326.4 L359.4,327.0 L360.3,326.9 L361.2,326.5 L362.1,326.6 L363.0,326.5 L363.9,326.9 L364.8,327.1 L365.7,326.9 L366.6,326.5 L367.5,327.0 L368.4,326.9 L369.3,326.8 L370.2,326.8 L371.1,326.8 L372.0,326.4 L372.9,327.1 L373.8,327.2 L374.7,326.4 L375.6,326.4 L376.5,326.3 L377.4,326.8 L378.3,326.3 L379.2,326.4 L380.1,327.0 L381.0,326.5 L381.9,326.4 L382.8,326.6 L383.7,326.7 L384.6,326.9 L385.5,326.9 L386.4,327.0 L387.3,327.1 L388.2,326.7 L389.1,326.9 L390.0,326.5 L390.9,327.2 L391.8,326.4 L392.7,326.6 L393.6,326.4 L394.5,326.4 L395.4,326.4 L396.3,326.7 L397.2,327.2 L398.1,326.5 L399.0,327.0 L399.9,326.9 L400.8,326.6 L401.7,326.7 L402.6,326.8 L403.5,326.4 L404.4,326.6 L405.3,326.9 L406.2,327.0 L407.1,326.4 L408.0,326.8 L408.9,326.5 L409.8,326.9 L410.7,327.0 L411.6,326.7 L412.5,326.5 L413.4,327.0 L414.3,326.5 L415.2,326.4 L416.1,326.5 L417.0,326.5 L417.9,327.2 L418.8,326.6 L419.7,326.4 L420.6,327.2 L421.5,327.0 L422.4,327.0 L423.3,326.7 L424.2,326.8 L425.1,326.8 L426.0,326.5 L426.9,327.2 L427.8,327.2 L428.7,327.1 L429.6,327.1 L430.5,327.1 L431.4,326.3 L432.3,326.4 L433.2,327.1 L434.1,326.7 L435.0,326.9 L435.9,326.9 L436.8,326.9 L437.7,326.6 L438.6,326.7 L439.5,326.9 L440.4,327.0 L441.3,326.9 L442.2,327.1 L443.1,326.7 L444.0,326.6 L444.9,326.9 L445.8,327.1 L446.7,327.0 L447.6,326.9 L448.5,326.7 L449.4,326.5 L450.3,326.9 L451.2,326.5 L452.1,326.6 L453.0,326.8 L453.9,326.9 L454.8,326.8 L455.7,326.6 L456.6,326.8 L457.5,326.6 L458.4,326.8 L459.3,327.0 L460.2,326.7 L461.1,326.6 L462.0,327.1 L462.9,326.8 L463.8,326.8 L464.7,326.4 L465.6,326.4 L466.5,326.9 L467.4,326.4 L468.3,326.5 L469.2,327.0 L470.1,326.8 L471.0,327.1 L471.9,326.5 L472.8,326.6 L473.7,326.4 L474.6,326.5 L475.5,326.6 L476.4,326.5 L477.3,326.7 L478.2,327.1 L479.1,326.7 L480.0,327.2 L480.9,327.1 L481.8,326.5 L482.7,327.2 L483.6,327.1 L484.5,327.1 L485.4,326.4 L486,328.0 Z" fill="#c41f3a" stroke="none" stroke-width="1"/>
<line x1="208.2" y1="328.0" x2="486.0" y2="328.0" stroke="#9c1228" stroke-width="0.9"/>
<line x1="236.6" y1="328.0" x2="236.6" y2="300.0" stroke="#d02845" stroke-width="0.9"/>
<line x1="236.0" y1="328.0" x2="236.0" y2="318.0" stroke="#e07488" stroke-width="0.7"/>
<line x1="398.2" y1="328.0" x2="398.2" y2="310.4" stroke="#e58a9a" stroke-width="0.8"/>
<line x1="411.3" y1="328.0" x2="411.3" y2="304.0" stroke="#d02845" stroke-width="0.9"/>
<rect x="452.7" y="299.0" width="1.9" height="29.0" fill="#c41f3a"/>
<line x1="262.0" y1="328.0" x2="262.0" y2="325.5" stroke="#d02845" stroke-width="0.6"/>
<line x1="275.5" y1="328.0" x2="275.5" y2="325.0" stroke="#d02845" stroke-width="0.6"/>
<line x1="287.0" y1="328.0" x2="287.0" y2="325.3" stroke="#d02845" stroke-width="0.6"/>
<line x1="208.2" y1="329.2" x2="486.3" y2="329.2" stroke="#111" stroke-width="0.8"/>
<line x1="208.2" y1="329.2" x2="208.2" y2="331.6" stroke="#111" stroke-width="0.5"/>
<line x1="227.3" y1="329.2" x2="227.3" y2="330.8" stroke="#111" stroke-width="0.5"/>
<line x1="246.3" y1="329.2" x2="246.3" y2="331.6" stroke="#111" stroke-width="0.5"/>
<line x1="265.4" y1="329.2" x2="265.4" y2="330.8" stroke="#111" stroke-width="0.5"/>
<line x1="284.4" y1="329.2" x2="284.4" y2="331.6" stroke="#111" stroke-width="0.5"/>
<line x1="303.5" y1="329.2" x2="303.5" y2="330.8" stroke="#111" stroke-width="0.5"/>
<line x1="322.6" y1="329.2" x2="322.6" y2="331.6" stroke="#111" stroke-width="0.5"/>
<line x1="341.6" y1="329.2" x2="341.6" y2="330.8" stroke="#111" stroke-width="0.5"/>
<line x1="360.7" y1="329.2" x2="360.7" y2="331.6" stroke="#111" stroke-width="0.5"/>
<line x1="379.7" y1="329.2" x2="379.7" y2="330.8" stroke="#111" stroke-width="0.5"/>
<line x1="398.8" y1="329.2" x2="398.8" y2="331.6" stroke="#111" stroke-width="0.5"/>
<line x1="417.9" y1="329.2" x2="417.9" y2="330.8" stroke="#111" stroke-width="0.5"/>
<line x1="436.9" y1="329.2" x2="436.9" y2="331.6" stroke="#111" stroke-width="0.5"/>
<line x1="456.0" y1="329.2" x2="456.0" y2="330.8" stroke="#111" stroke-width="0.5"/>
<line x1="475.0" y1="329.2" x2="475.0" y2="331.6" stroke="#111" stroke-width="0.5"/>
<text x="208.2" y="338.0" font-size="6.6" font-weight="normal" text-anchor="middle" fill="#111">0</text>
<text x="246.3" y="338.0" font-size="6.6" font-weight="normal" text-anchor="middle" fill="#111">20</text>
<text x="284.4" y="338.0" font-size="6.6" font-weight="normal" text-anchor="middle" fill="#111">40</text>
<text x="322.6" y="338.0" font-size="6.6" font-weight="normal" text-anchor="middle" fill="#111">60</text>
<text x="360.7" y="338.0" font-size="6.6" font-weight="normal" text-anchor="middle" fill="#111">80</text>
<text x="398.8" y="338.0" font-size="6.6" font-weight="normal" text-anchor="middle" fill="#111">100</text>
<text x="436.9" y="338.0" font-size="6.6" font-weight="normal" text-anchor="middle" fill="#111">120</text>
<text x="471.8" y="338.0" font-size="6.6" font-weight="normal" text-anchor="start" fill="#111" textLength="20.0" lengthAdjust="spacingAndGlyphs">140Mb</text>
<line x1="488.1" y1="298.3" x2="488.1" y2="328.2" stroke="#111" stroke-width="0.9"/>
<line x1="488.1" y1="301.7" x2="490.6" y2="301.7" stroke="#111" stroke-width="0.7"/>
<text x="491.6" y="304.0" font-size="6.4" font-weight="normal" text-anchor="start" fill="#111" textLength="6.6" lengthAdjust="spacingAndGlyphs">30</text>
<line x1="488.1" y1="310.4" x2="490.6" y2="310.4" stroke="#111" stroke-width="0.7"/>
<text x="491.6" y="312.7" font-size="6.4" font-weight="normal" text-anchor="start" fill="#111" textLength="6.6" lengthAdjust="spacingAndGlyphs">20</text>
<line x1="488.1" y1="319.0" x2="490.6" y2="319.0" stroke="#111" stroke-width="0.7"/>
<text x="491.6" y="321.3" font-size="6.4" font-weight="normal" text-anchor="start" fill="#111" textLength="6.6" lengthAdjust="spacingAndGlyphs">10</text>
<line x1="488.1" y1="327.7" x2="490.6" y2="327.7" stroke="#111" stroke-width="0.7"/>
<text x="491.6" y="330.0" font-size="6.4" font-weight="normal" text-anchor="start" fill="#111" textLength="3.4" lengthAdjust="spacingAndGlyphs">0</text>
<text transform="translate(503.2,315.5) rotate(90)" font-size="7" text-anchor="middle" fill="#111" stroke="#111" stroke-width="0.22" textLength="47" lengthAdjust="spacingAndGlyphs">Bin coverage (10<tspan font-size="4.5" dy="-2.2">5</tspan><tspan dy="2.2">)</tspan></text>
<rect x="208.2" y="339.3" width="83.8" height="7.4" fill="#fff" stroke="#111" stroke-width="0.9"/>
<rect x="298.6" y="339.3" width="188.4" height="7.4" fill="#fff" stroke="#111" stroke-width="0.9"/>
<rect x="213.3" y="339.8" width="6.9" height="6.5" fill="#5a5a5a"/>
<rect x="232.3" y="339.8" width="13.2" height="6.5" fill="#c4c4c4"/>
<rect x="253.0" y="339.8" width="7.7" height="6.5" fill="#9a9a9a"/>
<rect x="264.1" y="339.8" width="14.9" height="6.5" fill="#595959"/>
<rect x="279.0" y="339.8" width="3.5" height="6.5" fill="#bbbbbb"/>
<rect x="287.5" y="339.8" width="2.7" height="6.5" fill="#cfcfcf"/>
<rect x="306.5" y="339.8" width="5.5" height="6.5" fill="#d5d5d5"/>
<rect x="313.6" y="339.8" width="10.4" height="6.5" fill="#9a9a9a"/>
<rect x="332.7" y="339.8" width="6.9" height="6.5" fill="#a8a8a8"/>
<rect x="341.0" y="339.8" width="4.0" height="6.5" fill="#666"/>
<rect x="352.0" y="339.8" width="15.7" height="6.5" fill="#585858"/>
<rect x="372.9" y="339.8" width="13.8" height="6.5" fill="#c9c9c9"/>
<rect x="395.4" y="339.8" width="6.2" height="6.5" fill="#dddddd"/>
<rect x="410.3" y="339.8" width="7.6" height="6.5" fill="#5c5c5c"/>
<rect x="421.3" y="339.8" width="12.2" height="6.5" fill="#c6c6c6"/>
<rect x="436.2" y="339.8" width="5.2" height="6.5" fill="#8f8f8f"/>
<rect x="450.8" y="339.8" width="7.6" height="6.5" fill="#8d8d8d"/>
<rect x="468.0" y="339.8" width="7.0" height="6.5" fill="#555"/>
<line x1="264.1" y1="339.3" x2="264.1" y2="346.7" stroke="#111" stroke-width="0.5"/>
<path d="M291.8,339.3 L295.3,343.0 L291.8,346.7 Z M298.8,339.3 L295.3,343.0 L298.8,346.7 Z" fill="#1f5fae" stroke="#154a8c" stroke-width="0.6"/>
<path d="M242.83,423.43 A42.6,42.6 0 1 1 311.08,421.94 L305.30,417.81 A35.5,35.5 0 1 0 248.43,419.06 Z" fill="#dedede" stroke="none" stroke-width="1"/>
<line x1="249.4" y1="418.3" x2="241.9" y2="424.2" stroke="#222" stroke-width="0.9"/>
<line x1="242.4" y1="402.0" x2="233.0" y2="403.3" stroke="#222" stroke-width="0.9"/>
<line x1="259.8" y1="367.2" x2="255.2" y2="358.9" stroke="#222" stroke-width="0.9"/>
<line x1="274.9" y1="362.9" x2="274.5" y2="353.4" stroke="#222" stroke-width="0.9"/>
<line x1="288.7" y1="365.2" x2="292.1" y2="356.3" stroke="#222" stroke-width="0.9"/>
<line x1="304.3" y1="417.1" x2="312.1" y2="422.6" stroke="#222" stroke-width="0.9"/>
<line x1="305.3" y1="415.6" x2="313.3" y2="420.7" stroke="#222" stroke-width="0.9"/>
<path d="M306.12,434.12 A42.6,42.6 0 0 1 287.03,445.15 L285.19,438.29 A35.5,35.5 0 0 0 301.10,429.10 Z" fill="#dedede" stroke="none" stroke-width="1"/>
<path d="M287.38,445.05 A42.6,42.6 0 0 1 243.13,431.10 L248.61,426.58 A35.5,35.5 0 0 0 285.49,438.21 Z" fill="#f7931e" stroke="none" stroke-width="1"/>
<path d="M305.49,434.75 A42.6,42.6 0 0 1 304.17,435.95 L299.48,430.63 A35.5,35.5 0 0 0 300.57,429.62 Z" fill="#36a9e1" stroke="none" stroke-width="1"/>
<line x1="249.5" y1="425.8" x2="242.2" y2="431.9" stroke="#222" stroke-width="0.9"/>
<line x1="300.2" y1="428.3" x2="306.9" y2="435.1" stroke="#222" stroke-width="0.9"/>
<line x1="298.3" y1="430.0" x2="304.5" y2="437.3" stroke="#222" stroke-width="0.6"/>
<text x="276.4" y="385.5" font-size="7.3" font-weight="normal" text-anchor="middle" fill="#333" textLength="26.0" lengthAdjust="spacingAndGlyphs">Plasma:</text>
<text x="276.4" y="395.0" font-size="7.3" font-weight="normal" text-anchor="middle" fill="#333" textLength="52.0" lengthAdjust="spacingAndGlyphs">Double minute</text>
<text x="276.4" y="404.5" font-size="7.3" font-weight="normal" text-anchor="middle" fill="#333" textLength="28.5" lengthAdjust="spacingAndGlyphs">1.30 Mb</text>
<text x="276.4" y="432.3" font-size="7.3" font-weight="normal" text-anchor="middle" fill="#333" textLength="27.0" lengthAdjust="spacingAndGlyphs">der8q24</text>
<rect x="179.8" y="419.2" width="3.9" height="8.8" fill="#d9d9d9"/>
<text x="186.3" y="426.0" font-size="6.3" font-weight="normal" text-anchor="start" fill="#444" textLength="44.5" lengthAdjust="spacingAndGlyphs">Chromosome 8</text>
<rect x="179.8" y="435.5" width="3.9" height="13.2" fill="#f7931e" rx="1.2"/>
<text x="186.3" y="436.8" font-size="6.3" fill="#444" textLength="50" lengthAdjust="spacingAndGlyphs">Centrosomal <tspan font-style="italic">MYC</tspan></text>
<text x="186.3" y="444.6" font-size="6.3" font-weight="normal" text-anchor="start" fill="#444" textLength="52.0" lengthAdjust="spacingAndGlyphs">break-apart probe</text>
<text x="186.3" y="452.2" font-size="6.3" font-weight="normal" text-anchor="start" fill="#444" textLength="51.0" lengthAdjust="spacingAndGlyphs">hybridizing region</text>
<rect x="179.8" y="455.8" width="3.9" height="8.8" fill="#1d4f86"/>
<text x="186.3" y="462" font-size="6.3" fill="#444" textLength="50.5" lengthAdjust="spacingAndGlyphs"><tspan font-style="italic">MYC</tspan> gene region</text>
<text x="234.4" y="470.8" font-size="8" font-weight="normal" text-anchor="start" fill="#111" textLength="17.5" lengthAdjust="spacingAndGlyphs" font-style="italic">MYC</text>
<line x1="255.0" y1="466.9" x2="315.5" y2="466.9" stroke="#1d4f86" stroke-width="0.9"/>
<rect x="255.0" y="465.4" width="9.4" height="3.1" fill="#1d4f86"/>
<line x1="264.9" y1="463.8" x2="264.9" y2="470.0" stroke="#1d4f86" stroke-width="0.8"/>
<rect x="277.9" y="463.0" width="6.6" height="7.8" fill="#1d4f86"/>
<rect x="295.2" y="463.0" width="5.7" height="7.8" fill="#1d4f86"/>
<rect x="300.8" y="465.4" width="14.7" height="3.1" fill="#1d4f86"/>
<path d="M254.3,462.5 V453.6 H316.1 V462.5" fill="none" stroke="#333" stroke-width="0.7" stroke-dasharray="0.9,1.0"/>
<path d="M306.6,435 V453.6 M308.1,435.8 V453.6" fill="none" stroke="#333" stroke-width="0.6" stroke-dasharray="0.9,1.0"/>
<text x="334.4" y="366.3" font-size="11" font-weight="bold" text-anchor="start" fill="#111" textLength="6.0" lengthAdjust="spacingAndGlyphs">L</text>
<text transform="translate(343,418) rotate(-90)" font-size="8.6" text-anchor="middle" fill="#111" stroke="#111" stroke-width="0.22" textLength="80" lengthAdjust="spacingAndGlyphs">Variant allele frequency %</text>
<g stroke-linecap="round">
<polyline points="388.2,386.1 422.3,447.7 458.1,452.1" fill="none" stroke="#3f74a6" stroke-width="0.7" opacity="0.9"/>
<polyline points="388.2,388.6 422.3,435.4 458.1,456.7" fill="none" stroke="#3f74a6" stroke-width="0.7" opacity="0.9"/>
<polyline points="388.2,379.7 422.3,422.7 458.1,464.3" fill="none" stroke="#3f74a6" stroke-width="0.7" opacity="0.9"/>
<polyline points="388.2,390.5 422.3,449.5 458.1,464.3" fill="none" stroke="#3f74a6" stroke-width="0.7" opacity="0.9"/>
<polyline points="388.2,389.8 422.3,424.7 458.1,452.5" fill="none" stroke="#3f74a6" stroke-width="0.7" opacity="0.9"/>
<polyline points="388.2,379.1 422.3,427.3 458.1,451.4" fill="none" stroke="#3f74a6" stroke-width="0.7" opacity="0.9"/>
<polyline points="388.2,385.9 422.3,464.3 458.1,454.2" fill="none" stroke="#3f74a6" stroke-width="0.7" opacity="0.9"/>
<polyline points="388.2,387.0 422.3,433.7 458.1,460.0" fill="none" stroke="#3f74a6" stroke-width="0.7" opacity="0.9"/>
<polyline points="388.2,395.9 422.3,464.3 458.1,449.0" fill="none" stroke="#3f74a6" stroke-width="0.7" opacity="0.9"/>
<polyline points="388.2,382.1 422.3,422.1 458.1,450.4" fill="none" stroke="#3f74a6" stroke-width="0.7" opacity="0.9"/>
<polyline points="388.2,393.2 422.3,448.7 458.1,464.3" fill="none" stroke="#3f74a6" stroke-width="0.7" opacity="0.9"/>
<polyline points="388.2,378.0 422.3,447.3 458.1,459.7" fill="none" stroke="#3f74a6" stroke-width="0.7" opacity="0.9"/>
<polyline points="388.2,385.2 422.3,438.9 458.1,448.3" fill="none" stroke="#3f74a6" stroke-width="0.7" opacity="0.9"/>
<polyline points="388.2,379.6 422.3,448.9 458.1,445.9" fill="none" stroke="#3f74a6" stroke-width="0.7" opacity="0.9"/>
<polyline points="388.2,382.4 422.3,421.8 458.1,446.8" fill="none" stroke="#3f74a6" stroke-width="0.7" opacity="0.9"/>
<polyline points="388.2,388.1 422.3,425.7 458.1,446.1" fill="none" stroke="#3f74a6" stroke-width="0.7" opacity="0.9"/>
<polyline points="388.2,389.6 422.3,432.6 458.1,448.3" fill="none" stroke="#3f74a6" stroke-width="0.7" opacity="0.9"/>
<polyline points="388.2,395.5 422.3,464.3 458.1,458.2" fill="none" stroke="#3f74a6" stroke-width="0.7" opacity="0.9"/>
<polyline points="388.2,381.8 422.3,445.6 458.1,445.6" fill="none" stroke="#3f74a6" stroke-width="0.7" opacity="0.9"/>
<polyline points="388.2,395.8 422.3,427.7 458.1,449.3" fill="none" stroke="#3f74a6" stroke-width="0.7" opacity="0.9"/>
<polyline points="388.2,383.3 422.3,422.7 458.1,447.9" fill="none" stroke="#3f74a6" stroke-width="0.7" opacity="0.9"/>
<polyline points="388.2,388.8 422.3,433.6 458.1,464.3" fill="none" stroke="#3f74a6" stroke-width="0.7" opacity="0.9"/>
<polyline points="388.2,386.7 422.3,446.0 458.1,446.5" fill="none" stroke="#3f74a6" stroke-width="0.7" opacity="0.9"/>
<polyline points="388.2,394.4 422.3,464.3 458.1,447.0" fill="none" stroke="#3f74a6" stroke-width="0.7" opacity="0.9"/>
<polyline points="388.2,391.3 422.3,464.3 458.1,459.2" fill="none" stroke="#3f74a6" stroke-width="0.7" opacity="0.9"/>
<polyline points="388.2,393.9 422.3,432.6 458.1,444.6" fill="none" stroke="#3f74a6" stroke-width="0.7" opacity="0.9"/>
<polyline points="388.2,395.3 422.3,441.1 458.1,457.2" fill="none" stroke="#3f74a6" stroke-width="0.7" opacity="0.9"/>
<polyline points="388.2,388.7 422.3,425.3 458.1,445.1" fill="none" stroke="#3f74a6" stroke-width="0.7" opacity="0.9"/>
<polyline points="388.2,382.1 422.3,445.6 458.1,448.5" fill="none" stroke="#3f74a6" stroke-width="0.7" opacity="0.9"/>
<polyline points="388.2,394.5 422.3,420.5 458.1,451.1" fill="none" stroke="#3f74a6" stroke-width="0.7" opacity="0.9"/>
<polyline points="388.2,379.1 422.3,431.1 458.1,446.1" fill="none" stroke="#3f74a6" stroke-width="0.7" opacity="0.9"/>
<polyline points="388.2,384.5 422.3,464.3 458.1,464.3" fill="none" stroke="#3f74a6" stroke-width="0.7" opacity="0.9"/>
<polyline points="388.2,389.8 422.3,437.5 458.1,444.6" fill="none" stroke="#3f74a6" stroke-width="0.7" opacity="0.9"/>
<polyline points="388.2,378.3 422.3,464.3 458.1,459.4" fill="none" stroke="#3f74a6" stroke-width="0.7" opacity="0.9"/>
<polyline points="388.2,378.4 422.3,434.5 458.1,449.1" fill="none" stroke="#3f74a6" stroke-width="0.7" opacity="0.9"/>
<polyline points="388.2,396.0 422.3,436.4 458.1,458.4" fill="none" stroke="#3f74a6" stroke-width="0.7" opacity="0.9"/>
<polyline points="388.2,391.3 422.3,443.8 458.1,464.3" fill="none" stroke="#3f74a6" stroke-width="0.7" opacity="0.9"/>
<polyline points="388.2,384.3 422.3,447.0 458.1,464.3" fill="none" stroke="#3f74a6" stroke-width="0.7" opacity="0.9"/>
<polyline points="388.2,385.5 422.3,464.3 458.1,464.3" fill="none" stroke="#3f74a6" stroke-width="0.7" opacity="0.9"/>
<polyline points="388.2,388.3 422.3,431.5 458.1,453.7" fill="none" stroke="#3f74a6" stroke-width="0.7" opacity="0.9"/>
<polyline points="388.2,379.4 422.3,449.8 458.1,464.3" fill="none" stroke="#3f74a6" stroke-width="0.7" opacity="0.9"/>
<polyline points="388.2,391.1 422.3,442.1 458.1,451.0" fill="none" stroke="#3f74a6" stroke-width="0.7" opacity="0.9"/>
<polyline points="388.2,393.1 422.3,442.5 458.1,453.6" fill="none" stroke="#3f74a6" stroke-width="0.7" opacity="0.9"/>
<polyline points="388.2,386.7 422.3,441.0 458.1,453.8" fill="none" stroke="#3f74a6" stroke-width="0.7" opacity="0.9"/>
<polyline points="388.2,394.6 422.3,420.3 458.1,454.9" fill="none" stroke="#3f74a6" stroke-width="0.7" opacity="0.9"/>
<polyline points="388.2,381.6 422.3,447.2 458.1,451.1" fill="none" stroke="#3f74a6" stroke-width="0.7" opacity="0.9"/>
<polyline points="388.2,394.1 422.3,440.0 458.1,450.9" fill="none" stroke="#3f74a6" stroke-width="0.7" opacity="0.9"/>
<polyline points="388.2,392.5 422.3,464.3 458.1,464.3" fill="none" stroke="#3f74a6" stroke-width="0.7" opacity="0.9"/>
<polyline points="388.2,411.4 422.3,429.5 458.1,451.9" fill="none" stroke="#3f74a6" stroke-width="0.7" opacity="0.9"/>
<polyline points="388.2,429.5 422.3,464.3 458.1,459.2" fill="none" stroke="#3f74a6" stroke-width="0.7" opacity="0.9"/>
<polyline points="388.2,407.1 422.3,433.5 458.1,447.4" fill="none" stroke="#3f74a6" stroke-width="0.7" opacity="0.9"/>
<polyline points="388.2,412.6 422.3,434.8 458.1,457.4" fill="none" stroke="#3f74a6" stroke-width="0.7" opacity="0.9"/>
<polyline points="388.2,435.3 422.3,422.2 458.1,458.0" fill="none" stroke="#3f74a6" stroke-width="0.7" opacity="0.9"/>
<polyline points="388.2,397.7 422.3,437.1 458.1,456.7" fill="none" stroke="#3f74a6" stroke-width="0.7" opacity="0.9"/>
<polyline points="388.2,396.8 422.3,433.6 458.1,457.3" fill="none" stroke="#3f74a6" stroke-width="0.7" opacity="0.9"/>
<polyline points="388.2,405.5 422.3,421.4 458.1,451.1" fill="none" stroke="#3f74a6" stroke-width="0.7" opacity="0.9"/>
<polyline points="388.2,421.2 422.3,444.2 458.1,464.3" fill="none" stroke="#3f74a6" stroke-width="0.7" opacity="0.9"/>
<polyline points="388.2,423.4 422.3,434.3 458.1,444.2" fill="none" stroke="#3f74a6" stroke-width="0.7" opacity="0.9"/>
<polyline points="388.2,414.9 422.3,425.4 458.1,449.5" fill="none" stroke="#3f74a6" stroke-width="0.7" opacity="0.9"/>
<polyline points="388.2,423.9 422.3,438.4 458.1,450.3" fill="none" stroke="#3f74a6" stroke-width="0.7" opacity="0.9"/>
<polyline points="388.2,381.0 422.3,464.3 458.1,458.1" fill="none" stroke="#3f74a6" stroke-width="0.7" opacity="0.9"/>
<line x1="422.3" y1="446.6" x2="458.1" y2="464.3" stroke="#3f74a6" stroke-width="0.7"/>
<polyline points="388.2,381.6 422.3,464.3 458.1,454.4" fill="none" stroke="#3f74a6" stroke-width="0.7" opacity="0.9"/>
<line x1="422.3" y1="450.2" x2="458.1" y2="464.3" stroke="#3f74a6" stroke-width="0.7"/>
<polyline points="388.2,390.9 422.3,464.3 458.1,452.5" fill="none" stroke="#3f74a6" stroke-width="0.7" opacity="0.9"/>
<line x1="422.3" y1="437.8" x2="458.1" y2="464.3" stroke="#3f74a6" stroke-width="0.7"/>
<polyline points="388.2,390.6 422.3,464.3 458.1,451.4" fill="none" stroke="#3f74a6" stroke-width="0.7" opacity="0.9"/>
<line x1="422.3" y1="435.8" x2="458.1" y2="464.3" stroke="#3f74a6" stroke-width="0.7"/>
<polyline points="388.2,385.6 422.3,464.3 458.1,458.9" fill="none" stroke="#3f74a6" stroke-width="0.7" opacity="0.9"/>
<line x1="422.3" y1="446.7" x2="458.1" y2="464.3" stroke="#3f74a6" stroke-width="0.7"/>
<polyline points="388.2,388.7 422.3,464.3 458.1,444.1" fill="none" stroke="#3f74a6" stroke-width="0.7" opacity="0.9"/>
<line x1="422.3" y1="442.9" x2="458.1" y2="464.3" stroke="#3f74a6" stroke-width="0.7"/>
<polyline points="388.2,388.6 422.3,464.3 458.1,452.8" fill="none" stroke="#3f74a6" stroke-width="0.7" opacity="0.9"/>
<line x1="422.3" y1="447.3" x2="458.1" y2="464.3" stroke="#3f74a6" stroke-width="0.7"/>
<polyline points="388.2,391.8 422.3,464.3 458.1,458.0" fill="none" stroke="#3f74a6" stroke-width="0.7" opacity="0.9"/>
<line x1="422.3" y1="431.5" x2="458.1" y2="464.3" stroke="#3f74a6" stroke-width="0.7"/>
<polyline points="388.2,389.5 422.3,464.3 458.1,450.7" fill="none" stroke="#3f74a6" stroke-width="0.7" opacity="0.9"/>
<line x1="422.3" y1="451.4" x2="458.1" y2="464.3" stroke="#3f74a6" stroke-width="0.7"/>
<polyline points="388.2,390.3 422.3,464.3 458.1,458.2" fill="none" stroke="#3f74a6" stroke-width="0.7" opacity="0.9"/>
<line x1="422.3" y1="434.3" x2="458.1" y2="464.3" stroke="#3f74a6" stroke-width="0.7"/>
<polyline points="388.2,385.3 422.3,464.3 458.1,441.7" fill="none" stroke="#3f74a6" stroke-width="0.7" opacity="0.9"/>
<line x1="422.3" y1="435.1" x2="458.1" y2="464.3" stroke="#3f74a6" stroke-width="0.7"/>
<polyline points="388.2,385.8 422.3,464.3 458.1,455.4" fill="none" stroke="#3f74a6" stroke-width="0.7" opacity="0.9"/>
<line x1="422.3" y1="440.3" x2="458.1" y2="464.3" stroke="#3f74a6" stroke-width="0.7"/>
<polyline points="388.2,380.8 422.3,464.3 458.1,456.2" fill="none" stroke="#3f74a6" stroke-width="0.7" opacity="0.9"/>
<line x1="422.3" y1="426.7" x2="458.1" y2="464.3" stroke="#3f74a6" stroke-width="0.7"/>
<polyline points="388.2,384.0 422.3,464.3 458.1,443.5" fill="none" stroke="#3f74a6" stroke-width="0.7" opacity="0.9"/>
<line x1="422.3" y1="446.8" x2="458.1" y2="464.3" stroke="#3f74a6" stroke-width="0.7"/>
</g>
<path d="M386.7,377.5 L382.2,379.5 L377.2,380.5 L372.7,383.5 L373.2,386 L380.2,387 L383.7,389.5 L385.7,396 L388.2,399 L390.4,394 L392.2,389 L397.2,387 L403.7,385.5 L403.2,382.5 L398.2,380.5 L393.2,379.5 L389.7,377.5 Z" fill="#1d4f86" stroke="none" stroke-width="1"/>
<circle cx="396.8" cy="381.8" r="1.25" fill="#1d4f86"/>
<circle cx="377.7" cy="383.8" r="1.25" fill="#1d4f86"/>
<circle cx="394.9" cy="385.6" r="1.25" fill="#1d4f86"/>
<circle cx="393.9" cy="386.2" r="1.25" fill="#1d4f86"/>
<circle cx="388.0" cy="386.2" r="1.25" fill="#1d4f86"/>
<circle cx="375.8" cy="382.2" r="1.25" fill="#1d4f86"/>
<circle cx="389.0" cy="382.6" r="1.25" fill="#1d4f86"/>
<circle cx="395.1" cy="384.5" r="1.25" fill="#1d4f86"/>
<circle cx="388.9" cy="385.6" r="1.25" fill="#1d4f86"/>
<circle cx="390.0" cy="382.7" r="1.25" fill="#1d4f86"/>
<circle cx="384.6" cy="385.6" r="1.25" fill="#1d4f86"/>
<circle cx="400.2" cy="382.1" r="1.25" fill="#1d4f86"/>
<circle cx="398.7" cy="386.3" r="1.25" fill="#1d4f86"/>
<circle cx="388.9" cy="384.2" r="1.25" fill="#1d4f86"/>
<circle cx="379.2" cy="383.9" r="1.25" fill="#1d4f86"/>
<circle cx="388.3" cy="384.3" r="1.25" fill="#1d4f86"/>
<circle cx="374.0" cy="386.3" r="1.25" fill="#1d4f86"/>
<circle cx="388.7" cy="383.2" r="1.25" fill="#1d4f86"/>
<circle cx="397.2" cy="384.1" r="1.25" fill="#1d4f86"/>
<circle cx="387.9" cy="384.8" r="1.25" fill="#1d4f86"/>
<circle cx="375.2" cy="384.0" r="1.25" fill="#1d4f86"/>
<circle cx="385.6" cy="386.3" r="1.25" fill="#1d4f86"/>
<circle cx="388.6" cy="411.4" r="1.25" fill="#1d4f86"/>
<circle cx="388.0" cy="429.5" r="1.25" fill="#1d4f86"/>
<circle cx="388.2" cy="407.1" r="1.25" fill="#1d4f86"/>
<circle cx="387.8" cy="412.6" r="1.25" fill="#1d4f86"/>
<circle cx="388.1" cy="435.3" r="1.25" fill="#1d4f86"/>
<circle cx="388.5" cy="397.7" r="1.25" fill="#1d4f86"/>
<circle cx="388.6" cy="396.8" r="1.25" fill="#1d4f86"/>
<circle cx="388.2" cy="405.5" r="1.25" fill="#1d4f86"/>
<circle cx="388.0" cy="421.2" r="1.25" fill="#1d4f86"/>
<circle cx="387.9" cy="423.4" r="1.25" fill="#1d4f86"/>
<circle cx="388.3" cy="414.9" r="1.25" fill="#1d4f86"/>
<circle cx="388.6" cy="423.9" r="1.25" fill="#1d4f86"/>
<circle cx="387.7" cy="400.0" r="1.25" fill="#1d4f86"/>
<circle cx="388.6" cy="403.0" r="1.25" fill="#1d4f86"/>
<circle cx="387.5" cy="406.0" r="1.25" fill="#1d4f86"/>
<circle cx="387.8" cy="409.5" r="1.25" fill="#1d4f86"/>
<circle cx="387.8" cy="412.0" r="1.25" fill="#1d4f86"/>
<circle cx="388.5" cy="422.5" r="1.25" fill="#1d4f86"/>
<circle cx="388.0" cy="425.0" r="1.25" fill="#1d4f86"/>
<circle cx="388.0" cy="428.5" r="1.25" fill="#1d4f86"/>
<circle cx="388.4" cy="435.4" r="1.25" fill="#1d4f86"/>
<path d="M421.3,419.5 L419.3,424 L416.8,430 L416.3,434 L419.3,440 L419.8,447 L422.3,450.5 L424.8,447 L425.3,440 L428.3,434 L427.8,429 L425.3,424 L423.3,419.5 Z" fill="#1d4f86" stroke="none" stroke-width="1"/>
<circle cx="420.3" cy="447.7" r="1.25" fill="#1d4f86"/>
<circle cx="424.6" cy="435.4" r="1.25" fill="#1d4f86"/>
<circle cx="420.4" cy="422.7" r="1.25" fill="#1d4f86"/>
<circle cx="422.4" cy="449.5" r="1.25" fill="#1d4f86"/>
<circle cx="421.1" cy="424.7" r="1.25" fill="#1d4f86"/>
<circle cx="419.3" cy="427.3" r="1.25" fill="#1d4f86"/>
<circle cx="422.6" cy="433.7" r="1.25" fill="#1d4f86"/>
<circle cx="422.0" cy="422.1" r="1.25" fill="#1d4f86"/>
<circle cx="421.7" cy="448.7" r="1.25" fill="#1d4f86"/>
<circle cx="421.9" cy="447.3" r="1.25" fill="#1d4f86"/>
<circle cx="422.4" cy="438.9" r="1.25" fill="#1d4f86"/>
<circle cx="420.6" cy="448.9" r="1.25" fill="#1d4f86"/>
<circle cx="420.8" cy="421.8" r="1.25" fill="#1d4f86"/>
<circle cx="423.0" cy="425.7" r="1.25" fill="#1d4f86"/>
<circle cx="423.7" cy="432.6" r="1.25" fill="#1d4f86"/>
<circle cx="422.4" cy="445.6" r="1.25" fill="#1d4f86"/>
<circle cx="425.8" cy="427.7" r="1.25" fill="#1d4f86"/>
<circle cx="422.9" cy="422.7" r="1.25" fill="#1d4f86"/>
<circle cx="425.9" cy="433.6" r="1.25" fill="#1d4f86"/>
<circle cx="421.0" cy="446.0" r="1.25" fill="#1d4f86"/>
<circle cx="424.7" cy="432.6" r="1.25" fill="#1d4f86"/>
<circle cx="423.9" cy="441.1" r="1.25" fill="#1d4f86"/>
<circle cx="424.3" cy="425.3" r="1.25" fill="#1d4f86"/>
<circle cx="421.4" cy="445.6" r="1.25" fill="#1d4f86"/>
<circle cx="421.4" cy="420.5" r="1.25" fill="#1d4f86"/>
<circle cx="426.5" cy="431.1" r="1.25" fill="#1d4f86"/>
<circle cx="419.5" cy="437.5" r="1.25" fill="#1d4f86"/>
<circle cx="427.3" cy="434.5" r="1.25" fill="#1d4f86"/>
<circle cx="426.2" cy="436.4" r="1.25" fill="#1d4f86"/>
<circle cx="420.5" cy="443.8" r="1.25" fill="#1d4f86"/>
<circle cx="421.0" cy="447.0" r="1.25" fill="#1d4f86"/>
<circle cx="424.6" cy="431.5" r="1.25" fill="#1d4f86"/>
<circle cx="421.1" cy="449.8" r="1.25" fill="#1d4f86"/>
<circle cx="420.3" cy="442.1" r="1.25" fill="#1d4f86"/>
<circle cx="424.0" cy="442.5" r="1.25" fill="#1d4f86"/>
<circle cx="421.9" cy="441.0" r="1.25" fill="#1d4f86"/>
<circle cx="423.7" cy="420.3" r="1.25" fill="#1d4f86"/>
<circle cx="420.4" cy="447.2" r="1.25" fill="#1d4f86"/>
<circle cx="421.8" cy="440.0" r="1.25" fill="#1d4f86"/>
<circle cx="424.2" cy="429.5" r="1.25" fill="#1d4f86"/>
<circle cx="417.5" cy="433.5" r="1.25" fill="#1d4f86"/>
<circle cx="419.3" cy="434.8" r="1.25" fill="#1d4f86"/>
<circle cx="423.2" cy="422.2" r="1.25" fill="#1d4f86"/>
<circle cx="426.4" cy="437.1" r="1.25" fill="#1d4f86"/>
<circle cx="427.0" cy="433.6" r="1.25" fill="#1d4f86"/>
<circle cx="420.4" cy="421.4" r="1.25" fill="#1d4f86"/>
<circle cx="422.3" cy="444.2" r="1.25" fill="#1d4f86"/>
<circle cx="424.9" cy="434.3" r="1.25" fill="#1d4f86"/>
<circle cx="422.3" cy="425.4" r="1.25" fill="#1d4f86"/>
<circle cx="423.2" cy="438.4" r="1.25" fill="#1d4f86"/>
<path d="M457.3,444 L455.70000000000005,449 L455.3,455 L458.1,460 L460.90000000000003,455 L460.5,449 L458.90000000000003,444 Z" fill="#1d4f86" stroke="none" stroke-width="1"/>
<circle cx="456.5" cy="452.1" r="1.25" fill="#1d4f86"/>
<circle cx="455.9" cy="456.7" r="1.25" fill="#1d4f86"/>
<circle cx="456.1" cy="452.5" r="1.25" fill="#1d4f86"/>
<circle cx="455.7" cy="451.4" r="1.25" fill="#1d4f86"/>
<circle cx="458.4" cy="454.2" r="1.25" fill="#1d4f86"/>
<circle cx="458.2" cy="460.0" r="1.25" fill="#1d4f86"/>
<circle cx="458.5" cy="449.0" r="1.25" fill="#1d4f86"/>
<circle cx="456.3" cy="450.4" r="1.25" fill="#1d4f86"/>
<circle cx="456.5" cy="459.7" r="1.25" fill="#1d4f86"/>
<circle cx="456.6" cy="448.3" r="1.25" fill="#1d4f86"/>
<circle cx="459.9" cy="445.9" r="1.25" fill="#1d4f86"/>
<circle cx="460.6" cy="446.8" r="1.25" fill="#1d4f86"/>
<circle cx="460.3" cy="446.1" r="1.25" fill="#1d4f86"/>
<circle cx="456.0" cy="448.3" r="1.25" fill="#1d4f86"/>
<circle cx="455.8" cy="458.2" r="1.25" fill="#1d4f86"/>
<circle cx="460.4" cy="445.6" r="1.25" fill="#1d4f86"/>
<circle cx="457.9" cy="449.3" r="1.25" fill="#1d4f86"/>
<circle cx="459.5" cy="447.9" r="1.25" fill="#1d4f86"/>
<circle cx="457.2" cy="446.5" r="1.25" fill="#1d4f86"/>
<circle cx="457.9" cy="447.0" r="1.25" fill="#1d4f86"/>
<circle cx="458.2" cy="459.2" r="1.25" fill="#1d4f86"/>
<circle cx="457.7" cy="444.6" r="1.25" fill="#1d4f86"/>
<circle cx="458.6" cy="457.2" r="1.25" fill="#1d4f86"/>
<circle cx="455.6" cy="445.1" r="1.25" fill="#1d4f86"/>
<circle cx="459.1" cy="448.5" r="1.25" fill="#1d4f86"/>
<circle cx="459.9" cy="451.1" r="1.25" fill="#1d4f86"/>
<circle cx="456.4" cy="446.1" r="1.25" fill="#1d4f86"/>
<circle cx="457.9" cy="444.6" r="1.25" fill="#1d4f86"/>
<circle cx="459.3" cy="459.4" r="1.25" fill="#1d4f86"/>
<circle cx="457.6" cy="449.1" r="1.25" fill="#1d4f86"/>
<circle cx="456.5" cy="458.4" r="1.25" fill="#1d4f86"/>
<circle cx="456.4" cy="453.7" r="1.25" fill="#1d4f86"/>
<circle cx="458.2" cy="451.0" r="1.25" fill="#1d4f86"/>
<circle cx="455.6" cy="453.6" r="1.25" fill="#1d4f86"/>
<circle cx="460.1" cy="453.8" r="1.25" fill="#1d4f86"/>
<circle cx="459.7" cy="454.9" r="1.25" fill="#1d4f86"/>
<circle cx="459.2" cy="451.1" r="1.25" fill="#1d4f86"/>
<circle cx="460.0" cy="450.9" r="1.25" fill="#1d4f86"/>
<circle cx="458.8" cy="451.9" r="1.25" fill="#1d4f86"/>
<circle cx="457.6" cy="459.2" r="1.25" fill="#1d4f86"/>
<circle cx="458.6" cy="447.4" r="1.25" fill="#1d4f86"/>
<circle cx="458.1" cy="457.4" r="1.25" fill="#1d4f86"/>
<circle cx="460.6" cy="458.0" r="1.25" fill="#1d4f86"/>
<circle cx="459.7" cy="456.7" r="1.25" fill="#1d4f86"/>
<circle cx="456.8" cy="457.3" r="1.25" fill="#1d4f86"/>
<circle cx="460.2" cy="451.1" r="1.25" fill="#1d4f86"/>
<circle cx="459.4" cy="444.2" r="1.25" fill="#1d4f86"/>
<circle cx="459.5" cy="449.5" r="1.25" fill="#1d4f86"/>
<circle cx="459.7" cy="450.3" r="1.25" fill="#1d4f86"/>
<circle cx="422.3" cy="464.3" r="1.3" fill="#1d4f86"/>
<circle cx="458.1" cy="464.3" r="1.3" fill="#1d4f86"/>
<circle cx="456.5" cy="443.6" r="1.2" fill="#1d4f86"/>
<polyline points="388.2,377 422.3,437 458.1,446.2" fill="none" stroke="#f39a1f" stroke-width="1.3" stroke-linejoin="round"/>
<circle cx="388.2" cy="377.0" r="1.3" fill="#f39a1f"/>
<circle cx="422.3" cy="437.0" r="1.3" fill="#f39a1f"/>
<circle cx="458.1" cy="446.2" r="1.3" fill="#f39a1f"/>
<line x1="369.2" y1="371.0" x2="369.2" y2="464.3" stroke="#111" stroke-width="1.1"/>
<line x1="366.0" y1="374.2" x2="372.3" y2="374.2" stroke="#111" stroke-width="1.0"/>
<text x="364.6" y="376.9" font-size="7.5" font-weight="normal" text-anchor="end" fill="#111" textLength="18.2" lengthAdjust="spacingAndGlyphs">100.0</text>
<line x1="366.0" y1="398.2" x2="372.3" y2="398.2" stroke="#111" stroke-width="1.0"/>
<text x="364.6" y="400.9" font-size="7.5" font-weight="normal" text-anchor="end" fill="#111" textLength="14.1" lengthAdjust="spacingAndGlyphs">10.0</text>
<line x1="366.0" y1="421.4" x2="372.3" y2="421.4" stroke="#111" stroke-width="1.0"/>
<text x="364.6" y="424.1" font-size="7.5" font-weight="normal" text-anchor="end" fill="#111" textLength="10.0" lengthAdjust="spacingAndGlyphs">1.0</text>
<line x1="366.0" y1="444.6" x2="372.3" y2="444.6" stroke="#111" stroke-width="1.0"/>
<text x="364.6" y="447.3" font-size="7.5" font-weight="normal" text-anchor="end" fill="#111" textLength="10.0" lengthAdjust="spacingAndGlyphs">0.1</text>
<line x1="369.2" y1="391.2" x2="370.9" y2="391.2" stroke="#111" stroke-width="0.5"/>
<line x1="369.2" y1="387.1" x2="370.9" y2="387.1" stroke="#111" stroke-width="0.5"/>
<line x1="369.2" y1="384.2" x2="370.9" y2="384.2" stroke="#111" stroke-width="0.5"/>
<line x1="369.2" y1="381.9" x2="370.9" y2="381.9" stroke="#111" stroke-width="0.5"/>
<line x1="369.2" y1="380.1" x2="370.9" y2="380.1" stroke="#111" stroke-width="0.5"/>
<line x1="369.2" y1="378.5" x2="370.9" y2="378.5" stroke="#111" stroke-width="0.5"/>
<line x1="369.2" y1="377.2" x2="370.9" y2="377.2" stroke="#111" stroke-width="0.5"/>
<line x1="369.2" y1="376.0" x2="370.9" y2="376.0" stroke="#111" stroke-width="0.5"/>
<line x1="369.2" y1="414.4" x2="370.9" y2="414.4" stroke="#111" stroke-width="0.5"/>
<line x1="369.2" y1="410.3" x2="370.9" y2="410.3" stroke="#111" stroke-width="0.5"/>
<line x1="369.2" y1="407.4" x2="370.9" y2="407.4" stroke="#111" stroke-width="0.5"/>
<line x1="369.2" y1="405.1" x2="370.9" y2="405.1" stroke="#111" stroke-width="0.5"/>
<line x1="369.2" y1="403.3" x2="370.9" y2="403.3" stroke="#111" stroke-width="0.5"/>
<line x1="369.2" y1="401.7" x2="370.9" y2="401.7" stroke="#111" stroke-width="0.5"/>
<line x1="369.2" y1="400.4" x2="370.9" y2="400.4" stroke="#111" stroke-width="0.5"/>
<line x1="369.2" y1="399.2" x2="370.9" y2="399.2" stroke="#111" stroke-width="0.5"/>
<line x1="369.2" y1="437.6" x2="370.9" y2="437.6" stroke="#111" stroke-width="0.5"/>
<line x1="369.2" y1="433.5" x2="370.9" y2="433.5" stroke="#111" stroke-width="0.5"/>
<line x1="369.2" y1="430.6" x2="370.9" y2="430.6" stroke="#111" stroke-width="0.5"/>
<line x1="369.2" y1="428.3" x2="370.9" y2="428.3" stroke="#111" stroke-width="0.5"/>
<line x1="369.2" y1="426.5" x2="370.9" y2="426.5" stroke="#111" stroke-width="0.5"/>
<line x1="369.2" y1="424.9" x2="370.9" y2="424.9" stroke="#111" stroke-width="0.5"/>
<line x1="369.2" y1="423.6" x2="370.9" y2="423.6" stroke="#111" stroke-width="0.5"/>
<line x1="369.2" y1="422.4" x2="370.9" y2="422.4" stroke="#111" stroke-width="0.5"/>
<line x1="369.2" y1="460.9" x2="370.9" y2="460.9" stroke="#111" stroke-width="0.5"/>
<line x1="369.2" y1="456.8" x2="370.9" y2="456.8" stroke="#111" stroke-width="0.5"/>
<line x1="369.2" y1="453.9" x2="370.9" y2="453.9" stroke="#111" stroke-width="0.5"/>
<line x1="369.2" y1="451.6" x2="370.9" y2="451.6" stroke="#111" stroke-width="0.5"/>
<line x1="369.2" y1="449.8" x2="370.9" y2="449.8" stroke="#111" stroke-width="0.5"/>
<line x1="369.2" y1="448.2" x2="370.9" y2="448.2" stroke="#111" stroke-width="0.5"/>
<line x1="369.2" y1="446.9" x2="370.9" y2="446.9" stroke="#111" stroke-width="0.5"/>
<line x1="369.2" y1="445.7" x2="370.9" y2="445.7" stroke="#111" stroke-width="0.5"/>
<line x1="368.7" y1="464.3" x2="478.0" y2="464.3" stroke="#111" stroke-width="1.1"/>
<line x1="477.5" y1="373.0" x2="477.5" y2="461.5" stroke="#111" stroke-width="1.1"/>
<line x1="475.3" y1="386.7" x2="480.1" y2="386.7" stroke="#111" stroke-width="0.9"/>
<text x="481.7" y="389.1" font-size="6.6" font-weight="normal" text-anchor="start" fill="#111">10000</text>
<line x1="475.3" y1="403.6" x2="480.1" y2="403.6" stroke="#111" stroke-width="0.9"/>
<text x="481.7" y="406.0" font-size="6.6" font-weight="normal" text-anchor="start" fill="#111">1000</text>
<line x1="475.3" y1="420.5" x2="480.1" y2="420.5" stroke="#111" stroke-width="0.9"/>
<text x="481.7" y="422.9" font-size="6.6" font-weight="normal" text-anchor="start" fill="#111">100</text>
<line x1="475.3" y1="437.4" x2="480.1" y2="437.4" stroke="#111" stroke-width="0.9"/>
<text x="481.7" y="439.8" font-size="6.6" font-weight="normal" text-anchor="start" fill="#111">10</text>
<line x1="475.3" y1="454.2" x2="480.1" y2="454.2" stroke="#111" stroke-width="0.9"/>
<text x="481.7" y="456.6" font-size="6.6" font-weight="normal" text-anchor="start" fill="#111">1</text>
<line x1="476.2" y1="460.9" x2="478.8" y2="460.9" stroke="#111" stroke-width="0.45"/>
<line x1="476.2" y1="459.3" x2="478.8" y2="459.3" stroke="#111" stroke-width="0.45"/>
<line x1="476.2" y1="457.9" x2="478.8" y2="457.9" stroke="#111" stroke-width="0.45"/>
<line x1="476.2" y1="456.8" x2="478.8" y2="456.8" stroke="#111" stroke-width="0.45"/>
<line x1="476.2" y1="455.8" x2="478.8" y2="455.8" stroke="#111" stroke-width="0.45"/>
<line x1="476.2" y1="455.0" x2="478.8" y2="455.0" stroke="#111" stroke-width="0.45"/>
<line x1="476.2" y1="449.1" x2="478.8" y2="449.1" stroke="#111" stroke-width="0.45"/>
<line x1="476.2" y1="446.1" x2="478.8" y2="446.1" stroke="#111" stroke-width="0.45"/>
<line x1="476.2" y1="444.0" x2="478.8" y2="444.0" stroke="#111" stroke-width="0.45"/>
<line x1="476.2" y1="442.4" x2="478.8" y2="442.4" stroke="#111" stroke-width="0.45"/>
<line x1="476.2" y1="441.0" x2="478.8" y2="441.0" stroke="#111" stroke-width="0.45"/>
<line x1="476.2" y1="439.9" x2="478.8" y2="439.9" stroke="#111" stroke-width="0.45"/>
<line x1="476.2" y1="438.9" x2="478.8" y2="438.9" stroke="#111" stroke-width="0.45"/>
<line x1="476.2" y1="438.1" x2="478.8" y2="438.1" stroke="#111" stroke-width="0.45"/>
<line x1="476.2" y1="432.2" x2="478.8" y2="432.2" stroke="#111" stroke-width="0.45"/>
<line x1="476.2" y1="429.2" x2="478.8" y2="429.2" stroke="#111" stroke-width="0.45"/>
<line x1="476.2" y1="427.1" x2="478.8" y2="427.1" stroke="#111" stroke-width="0.45"/>
<line x1="476.2" y1="425.5" x2="478.8" y2="425.5" stroke="#111" stroke-width="0.45"/>
<line x1="476.2" y1="424.1" x2="478.8" y2="424.1" stroke="#111" stroke-width="0.45"/>
<line x1="476.2" y1="423.0" x2="478.8" y2="423.0" stroke="#111" stroke-width="0.45"/>
<line x1="476.2" y1="422.0" x2="478.8" y2="422.0" stroke="#111" stroke-width="0.45"/>
<line x1="476.2" y1="421.2" x2="478.8" y2="421.2" stroke="#111" stroke-width="0.45"/>
<line x1="476.2" y1="415.3" x2="478.8" y2="415.3" stroke="#111" stroke-width="0.45"/>
<line x1="476.2" y1="412.3" x2="478.8" y2="412.3" stroke="#111" stroke-width="0.45"/>
<line x1="476.2" y1="410.2" x2="478.8" y2="410.2" stroke="#111" stroke-width="0.45"/>
<line x1="476.2" y1="408.6" x2="478.8" y2="408.6" stroke="#111" stroke-width="0.45"/>
<line x1="476.2" y1="407.2" x2="478.8" y2="407.2" stroke="#111" stroke-width="0.45"/>
<line x1="476.2" y1="406.1" x2="478.8" y2="406.1" stroke="#111" stroke-width="0.45"/>
<line x1="476.2" y1="405.1" x2="478.8" y2="405.1" stroke="#111" stroke-width="0.45"/>
<line x1="476.2" y1="404.3" x2="478.8" y2="404.3" stroke="#111" stroke-width="0.45"/>
<line x1="476.2" y1="398.4" x2="478.8" y2="398.4" stroke="#111" stroke-width="0.45"/>
<line x1="476.2" y1="395.4" x2="478.8" y2="395.4" stroke="#111" stroke-width="0.45"/>
<line x1="476.2" y1="393.3" x2="478.8" y2="393.3" stroke="#111" stroke-width="0.45"/>
<line x1="476.2" y1="391.7" x2="478.8" y2="391.7" stroke="#111" stroke-width="0.45"/>
<line x1="476.2" y1="390.3" x2="478.8" y2="390.3" stroke="#111" stroke-width="0.45"/>
<line x1="476.2" y1="389.2" x2="478.8" y2="389.2" stroke="#111" stroke-width="0.45"/>
<line x1="476.2" y1="388.2" x2="478.8" y2="388.2" stroke="#111" stroke-width="0.45"/>
<line x1="476.2" y1="387.4" x2="478.8" y2="387.4" stroke="#111" stroke-width="0.45"/>
<line x1="476.2" y1="381.5" x2="478.8" y2="381.5" stroke="#111" stroke-width="0.45"/>
<line x1="476.2" y1="378.5" x2="478.8" y2="378.5" stroke="#111" stroke-width="0.45"/>
<line x1="476.2" y1="376.4" x2="478.8" y2="376.4" stroke="#111" stroke-width="0.45"/>
<line x1="476.2" y1="374.8" x2="478.8" y2="374.8" stroke="#111" stroke-width="0.45"/>
<text transform="translate(505.8,416.5) rotate(90)" font-size="8.6" text-anchor="middle" fill="#111" stroke="#111" stroke-width="0.22" textLength="92" lengthAdjust="spacingAndGlyphs">ctDNA concentration* (hGE/ml)</text>
<path d="M388.4,376.5 V371.3 H396.3 M396.3,364.5 V378" fill="none" stroke="#333" stroke-width="0.7" stroke-dasharray="0.9,1.0"/>
<text x="399.2" y="365.3" font-size="6.4" font-weight="normal" text-anchor="start" fill="#c4204a" textLength="41.5" lengthAdjust="spacingAndGlyphs">Systemic DHIT</text>
<text x="399.2" y="371.9" font-size="6.4" fill="#c4204a" textLength="28.5" lengthAdjust="spacingAndGlyphs"><tspan font-style="italic">TP53</tspan> loss</text>
<text x="399.2" y="378.4" font-size="6.4" font-weight="normal" text-anchor="start" fill="#c4204a" textLength="57.0" lengthAdjust="spacingAndGlyphs">High ctDNA burden</text>
<text x="429.2" y="403" font-size="6.4" fill="#2a5f98">MRD<tspan font-size="5" dy="-2.2">end–</tspan></text>
<text x="429.2" y="409.4" font-size="6.4" font-weight="normal" text-anchor="start" fill="#222" textLength="43.4" lengthAdjust="spacingAndGlyphs">Fragmentation:</text>
<text x="429.2" y="415.5" font-size="6.4" font-weight="normal" text-anchor="start" fill="#c4204a" textLength="22.0" lengthAdjust="spacingAndGlyphs">Relapse</text>
<path d="M432.7,417.7 H470.8 M456.5,417.7 V443.5" fill="none" stroke="#333" stroke-width="0.7" stroke-dasharray="0.9,1.0"/>
<text x="379.6" y="441" font-size="6.4" fill="#c4204a">MRD<tspan font-size="5" font-weight="bold" dy="-2.2">mid+</tspan></text>
<line x1="407.3" y1="437.3" x2="421.5" y2="437.3" stroke="#333" stroke-width="0.7" stroke-dasharray="0.9,1.0"/>
<text x="388.5" y="474.0" font-size="7.0" font-weight="normal" text-anchor="middle" fill="#111" textLength="41.0" lengthAdjust="spacingAndGlyphs">Pretreatment</text>
<text x="423.0" y="474.0" font-size="7.0" font-weight="normal" text-anchor="middle" fill="#111" textLength="13.5" lengthAdjust="spacingAndGlyphs">Mid-</text>
<text x="423.0" y="482.7" font-size="7.0" font-weight="normal" text-anchor="middle" fill="#111" textLength="23.0" lengthAdjust="spacingAndGlyphs">staging</text>
<text x="457.0" y="474.0" font-size="7.0" font-weight="normal" text-anchor="middle" fill="#111" textLength="14.0" lengthAdjust="spacingAndGlyphs">End-</text>
<text x="457.0" y="482.7" font-size="7.0" font-weight="normal" text-anchor="middle" fill="#111" textLength="23.0" lengthAdjust="spacingAndGlyphs">staging</text>
<path d="M388.5,486.8 H457.7 M378,492.4 H423 V487" fill="none" stroke="#111" stroke-width="1.0" stroke-dasharray="1.8,1.5"/>
<line x1="360.0" y1="494.8" x2="360.0" y2="522.5" stroke="#d8d8d8" stroke-width="0.7"/>
<line x1="380.7" y1="494.8" x2="380.7" y2="522.5" stroke="#d8d8d8" stroke-width="0.7"/>
<line x1="401.4" y1="494.8" x2="401.4" y2="522.5" stroke="#d8d8d8" stroke-width="0.7"/>
<line x1="422.2" y1="494.8" x2="422.2" y2="522.5" stroke="#d8d8d8" stroke-width="0.7"/>
<line x1="442.9" y1="494.8" x2="442.9" y2="522.5" stroke="#d8d8d8" stroke-width="0.7"/>
<line x1="463.6" y1="494.8" x2="463.6" y2="522.5" stroke="#d8d8d8" stroke-width="0.7"/>
<line x1="484.4" y1="494.8" x2="484.4" y2="522.5" stroke="#d8d8d8" stroke-width="0.7"/>
<line x1="358.0" y1="509.3" x2="497.0" y2="509.3" stroke="#cfcfcf" stroke-width="0.6"/>
<line x1="360.0" y1="509.3" x2="482.0" y2="509.3" stroke="#111" stroke-width="1.1"/>
<rect x="357.9" y="502.4" width="4.2" height="11.4" fill="#f0b81e"/>
<rect x="357.9" y="513.7" width="4.2" height="3.8" fill="#c41f3a"/>
<rect x="357.3" y="498.2" width="5.4" height="2.3" fill="#2e9a48" rx="0.8"/>
<rect x="365.9" y="502.4" width="4.2" height="11.4" fill="#f0b81e"/>
<rect x="365.9" y="513.7" width="4.2" height="3.8" fill="#c41f3a"/>
<rect x="365.3" y="498.2" width="5.4" height="2.3" fill="#2e9a48" rx="0.8"/>
<rect x="377.0" y="502.4" width="4.2" height="11.4" fill="#f0b81e"/>
<rect x="377.0" y="513.7" width="4.2" height="3.8" fill="#c41f3a"/>
<rect x="376.4" y="498.2" width="5.4" height="2.3" fill="#2e9a48" rx="0.8"/>
<circle cx="463.6" cy="509.3" r="7.2" fill="#fff" stroke="#111" stroke-width="1.0" stroke-dasharray="1.9,1.6"/>
<line x1="456.6" y1="509.3" x2="470.6" y2="509.3" stroke="#111" stroke-width="1.1"/>
<path d="M459.3,509.3 L463.6,505.0 L467.90000000000003,509.3 L463.6,513.6 Z" fill="#f6c46a" stroke="#f09a25" stroke-width="0.9"/>
<rect x="481.3" y="506.3" width="6.0" height="6.0" fill="#e9899b" stroke="#c8324d" stroke-width="0.9"/>
<text x="424.0" y="522.2" font-size="7.2" font-weight="normal" text-anchor="middle" fill="#111" textLength="55.0" lengthAdjust="spacingAndGlyphs" stroke="#fff" stroke-width="1.5" paint-order="stroke">Follow-up (months)</text>
<text x="360.0" y="531.2" font-size="7.0" font-weight="normal" text-anchor="middle" fill="#111">0</text>
<text x="401.4" y="531.2" font-size="7.0" font-weight="normal" text-anchor="middle" fill="#111">10</text>
<text x="442.9" y="531.2" font-size="7.0" font-weight="normal" text-anchor="middle" fill="#111">20</text>
<text x="484.4" y="531.2" font-size="7.0" font-weight="normal" text-anchor="middle" fill="#111">30</text>
<line x1="463.6" y1="516.6" x2="463.6" y2="537.0" stroke="#111" stroke-width="1.0" stroke-dasharray="1.8,1.5"/>
<path d="M14.5,462.1 H161.6 L169.4,470.8 V481.2 L177.2,491.5 H203.2 L210.1,500.2 V697.5 L203.5,704.6 H15 L7.2,697 V470.5 Z" fill="none" stroke="#222" stroke-width="1.05" stroke-dasharray="2.2,2.0"/>
<text x="22.0" y="476.0" font-size="8.6" font-weight="bold" text-anchor="start" fill="#111" textLength="131.0" lengthAdjust="spacingAndGlyphs">Follicular lymphoma grade 3B</text>
<text x="11.8" y="494.0" font-size="11" font-weight="bold" text-anchor="start" fill="#111" textLength="7.2" lengthAdjust="spacingAndGlyphs">H</text>
<text x="57.2" y="495.3" font-size="7.2" font-weight="bold" text-anchor="middle" fill="#111" textLength="36.5" lengthAdjust="spacingAndGlyphs">Karyotype</text>
<text x="57.2" y="504.6" font-size="7.0" font-weight="normal" text-anchor="middle" fill="#333" textLength="21.0" lengthAdjust="spacingAndGlyphs">n = 96</text>
<text x="104.5" y="494.0" font-size="11" font-weight="bold" text-anchor="start" fill="#111">I</text>
<text x="151.5" y="495.0" font-size="7.6" font-weight="bold" text-anchor="middle" fill="#111" textLength="18.5" lengthAdjust="spacingAndGlyphs">FISH</text>
<rect x="16.0" y="507.5" width="83.0" height="86.5" fill="#f5f5f5"/>
<g stroke="#454545" stroke-linecap="round" fill="none" filter="url(#blur1)">
<path d="M73.6,576.0 Q74.7,578.5 74.0,581.2" stroke-width="2.7"/>
<path d="M65.6,522.6 Q68.4,523.1 69.0,525.8" stroke-width="2.3"/>
<path d="M46.6,543.3 Q49.4,544.6 51.0,547.2" stroke-width="2.0"/>
<path d="M91.7,547.1 Q92.0,550.5 89.5,552.8" stroke-width="2.3"/>
<path d="M43.1,547.8 Q45.4,550.3 45.7,553.6" stroke-width="2.7"/>
<path d="M84.1,575.0 Q84.2,577.3 83.4,579.5" stroke-width="2.4"/>
<path d="M58.1,555.4 Q59.8,558.1 62.6,559.5" stroke-width="2.2"/>
<path d="M95.3,541.3 Q93.0,543.1 91.1,545.2" stroke-width="2.7"/>
<path d="M74.2,567.6 Q75.8,570.5 79.0,571.1" stroke-width="2.8"/>
<path d="M37.1,561.2 Q36.4,563.8 38.7,565.4" stroke-width="2.3"/>
<path d="M71.9,552.5 Q69.1,552.5 66.3,552.6" stroke-width="2.4"/>
<path d="M26.5,538.2 Q25.7,539.9 25.2,541.6" stroke-width="2.6"/>
<path d="M66.2,564.7 Q64.3,565.7 62.2,565.7" stroke-width="2.5"/>
<path d="M54.5,561.5 Q52.7,561.6 51.9,563.2" stroke-width="2.3"/>
<path d="M47.7,520.6 Q44.7,521.3 41.5,521.4" stroke-width="2.9"/>
<path d="M86.1,540.2 Q86.6,543.2 86.3,546.3" stroke-width="2.2"/>
<path d="M69.8,538.5 Q68.0,538.7 67.3,540.3" stroke-width="2.4"/>
<path d="M60.9,541.3 Q62.3,542.7 63.2,544.3" stroke-width="2.2"/>
<path d="M80.9,560.0 Q77.7,559.4 74.7,560.3" stroke-width="2.4"/>
<path d="M58.6,587.1 Q58.1,589.9 55.4,590.8" stroke-width="2.2"/>
<path d="M76.5,517.8 Q75.8,520.8 74.6,523.6" stroke-width="2.5"/>
<path d="M68.4,531.0 Q69.3,533.4 71.5,534.7" stroke-width="2.0"/>
<path d="M43.0,513.9 Q42.2,515.1 42.2,516.7" stroke-width="2.8"/>
<path d="M42.8,540.2 Q40.5,539.1 38.5,540.7" stroke-width="2.1"/>
<path d="M84.4,554.0 Q82.7,554.2 81.4,555.3" stroke-width="2.1"/>
<path d="M34.4,543.6 Q36.9,544.3 38.0,546.6" stroke-width="2.2"/>
<path d="M31.7,573.1 Q34.1,574.1 36.6,573.8" stroke-width="2.8"/>
<path d="M62.5,514.6 Q64.1,515.8 62.9,517.4" stroke-width="2.7"/>
<path d="M74.8,535.7 Q73.1,537.8 74.1,540.4" stroke-width="2.1"/>
<path d="M38.2,533.6 Q35.5,534.5 32.6,534.2" stroke-width="2.6"/>
<path d="M30.3,544.9 Q28.2,544.5 27.8,546.6" stroke-width="2.3"/>
<path d="M40.0,585.7 Q41.9,584.8 43.1,586.5" stroke-width="2.7"/>
<path d="M56.5,524.1 Q59.1,524.7 61.7,524.4" stroke-width="2.4"/>
<path d="M39.4,553.6 Q39.1,555.7 39.6,557.8" stroke-width="2.9"/>
<path d="M27.3,550.2 Q24.7,551.9 22.6,554.2" stroke-width="2.7"/>
<path d="M59.5,548.6 Q60.9,550.1 61.7,551.9" stroke-width="2.1"/>
<path d="M53.4,531.6 Q52.0,533.2 51.6,535.3" stroke-width="2.2"/>
<path d="M80.0,542.9 Q78.9,544.8 76.7,544.7" stroke-width="2.6"/>
<path d="M66.0,577.6 Q65.4,579.9 67.4,581.2" stroke-width="2.4"/>
<path d="M28.0,561.4 Q29.8,562.1 31.3,563.4" stroke-width="2.2"/>
<path d="M72.9,585.3 Q71.0,585.0 70.5,587.0" stroke-width="2.6"/>
<path d="M20.7,560.2 Q22.2,561.9 24.5,561.9" stroke-width="2.7"/>
<path d="M71.9,515.2 Q69.5,517.8 66.0,517.5" stroke-width="2.5"/>
<path d="M91.5,566.6 Q90.1,569.3 87.4,570.5" stroke-width="2.1"/>
<path d="M55.4,571.8 Q53.5,573.2 53.9,575.5" stroke-width="2.1"/>
<path d="M30.9,565.5 Q32.0,568.4 30.4,571.0" stroke-width="2.7"/>
<path d="M38.4,572.1 Q40.3,574.0 42.9,574.8" stroke-width="2.4"/>
<path d="M89.4,536.8 Q92.3,536.4 95.2,537.0" stroke-width="2.6"/>
<path d="M29.0,527.9 Q30.7,530.4 33.6,530.5" stroke-width="2.5"/>
<path d="M82.7,534.9 Q83.7,538.1 82.4,541.1" stroke-width="2.2"/>
<path d="M45.4,532.4 Q46.2,534.5 47.0,536.5" stroke-width="2.2"/>
<path d="M93.6,556.9 Q91.1,557.8 89.5,559.9" stroke-width="2.7"/>
<path d="M22.1,531.2 Q22.9,532.9 24.7,533.5" stroke-width="2.7"/>
<path d="M46.2,562.7 Q43.1,563.3 41.6,566.1" stroke-width="2.2"/>
<path d="M50.8,526.1 Q49.1,526.2 47.8,527.3" stroke-width="2.0"/>
<path d="M52.8,518.4 Q51.3,520.6 52.8,522.8" stroke-width="2.3"/>
<path d="M36.4,525.0 Q36.7,527.2 38.3,528.7" stroke-width="2.6"/>
<path d="M63.8,583.6 Q63.3,585.0 62.5,586.2" stroke-width="2.2"/>
<path d="M45.5,570.2 Q47.4,569.4 49.0,570.7" stroke-width="2.1"/>
<path d="M73.9,559.2 Q71.8,560.5 69.7,561.9" stroke-width="2.6"/>
<path d="M81.6,527.4 Q83.0,529.9 85.9,530.1" stroke-width="2.1"/>
<path d="M70.3,567.8 Q69.4,570.3 67.8,572.5" stroke-width="2.7"/>
<path d="M73.5,551.4 Q74.5,554.4 76.5,556.8" stroke-width="2.2"/>
<path d="M50.7,583.5 Q52.3,584.2 52.1,585.9" stroke-width="2.3"/>
<path d="M63.2,532.6 Q61.7,534.9 62.3,537.5" stroke-width="2.8"/>
<path d="M33.6,520.8 Q31.3,521.7 31.6,524.1" stroke-width="2.5"/>
<path d="M51.9,554.2 Q49.3,555.5 46.6,555.0" stroke-width="2.2"/>
<path d="M75.9,525.3 Q75.5,527.3 77.0,528.6" stroke-width="2.4"/>
<path d="M27.5,570.6 Q27.2,572.9 25.4,574.2" stroke-width="2.5"/>
<path d="M56.2,510.0 Q58.2,511.4 59.5,513.4" stroke-width="2.4"/>
<path d="M34.4,580.7 Q37.2,582.1 39.5,584.2" stroke-width="2.7"/>
<path d="M31.5,550.2 Q33.4,551.0 33.9,553.0" stroke-width="2.2"/>
<path d="M47.3,580.0 Q44.6,580.5 42.0,581.5" stroke-width="2.2"/>
<path d="M21.5,545.3 Q19.6,547.6 17.7,549.8" stroke-width="2.5"/>
<path d="M85.5,561.9 Q85.9,564.4 83.9,565.9" stroke-width="2.0"/>
<path d="M88.9,531.1 Q90.5,532.3 92.2,531.4" stroke-width="2.2"/>
<path d="M29.4,538.1 Q32.1,538.0 34.3,539.5" stroke-width="2.3"/>
<path d="M70.8,544.4 Q69.4,546.5 66.9,546.9" stroke-width="2.4"/>
<path d="M49.3,510.4 Q48.9,512.4 50.2,513.8" stroke-width="2.4"/>
<path d="M22.1,554.5 Q19.7,556.1 16.9,555.9" stroke-width="2.4"/>
<path d="M55.4,538.0 Q55.8,540.9 53.4,542.6" stroke-width="2.2"/>
<path d="M57.0,564.2 Q59.0,566.7 58.0,569.7" stroke-width="2.4"/>
<path d="M57.4,579.6 Q54.9,580.0 52.3,580.0" stroke-width="2.1"/>
<path d="M35.4,516.1 Q35.9,518.8 38.2,520.4" stroke-width="2.1"/>
<path d="M31.7,555.6 Q29.7,557.6 26.9,557.3" stroke-width="2.6"/>
<path d="M63.4,571.4 Q64.3,573.0 63.9,574.7" stroke-width="2.6"/>
<path d="M59.6,530.0 Q58.8,531.7 57.0,532.0" stroke-width="2.4"/>
<path d="M78.0,530.5 Q78.1,533.1 76.8,535.3" stroke-width="2.9"/>
<path d="M81.6,568.0 Q84.0,569.6 85.4,572.1" stroke-width="2.6"/>
<path d="M26.7,565.5 Q25.5,567.9 22.8,567.6" stroke-width="2.2"/>
<path d="M68.6,558.2 Q66.0,558.0 63.7,559.2" stroke-width="2.7"/>
<path d="M85.2,520.2 Q82.8,521.8 79.9,522.6" stroke-width="2.1"/>
<path d="M51.4,574.7 Q49.5,577.1 46.6,577.6" stroke-width="2.2"/>
<path d="M53.3,545.3 Q56.0,546.8 56.1,549.8" stroke-width="2.8"/>
<path d="M41.4,524.7 Q44.1,526.3 45.2,529.3" stroke-width="2.6"/>
<path d="M78.5,580.1 Q78.9,582.0 79.3,583.9" stroke-width="2.1"/>
</g>
<rect x="101.8" y="498.8" width="100.0" height="100.0" fill="#05061a"/>
<rect x="102.4" y="499.4" width="49.2" height="47.8" fill="#0a0c33"/>
<g clip-path="url(#cf1)">
<g filter="url(#blur3)">
<ellipse cx="127" cy="525" rx="18" ry="18" fill="#171b74" opacity="0.85"/>
<ellipse cx="146" cy="506" rx="10" ry="9" fill="#1b1f80" opacity="0.8"/>
<ellipse cx="110" cy="503" rx="9" ry="7" fill="#1b1f80" opacity="0.6"/>
<ellipse cx="148" cy="544" rx="9" ry="7" fill="#161a70" opacity="0.7"/>
</g>
<circle cx="139" cy="510" r="1.20" fill="#f0327e" opacity="0.25"/>
<circle cx="139.0" cy="510.0" r="0.68" fill="#f0327e"/>
<circle cx="141.3" cy="509.5" r="1.05" fill="#4fe0a0" opacity="0.25"/>
<circle cx="141.3" cy="509.5" r="0.595" fill="#4fe0a0"/>
<circle cx="143" cy="503.5" r="1.20" fill="#f0327e" opacity="0.25"/>
<circle cx="143.0" cy="503.5" r="0.68" fill="#f0327e"/>
<circle cx="125" cy="515" r="1.20" fill="#f0327e" opacity="0.25"/>
<circle cx="125.0" cy="515.0" r="0.68" fill="#f0327e"/>
<circle cx="129.5" cy="517.5" r="1.20" fill="#f0327e" opacity="0.25"/>
<circle cx="129.5" cy="517.5" r="0.68" fill="#f0327e"/>
<circle cx="124.4" cy="520.6" r="1.05" fill="#4fe0a0" opacity="0.25"/>
<circle cx="124.4" cy="520.6" r="0.595" fill="#4fe0a0"/>
<circle cx="139.4" cy="523" r="1.35" fill="#f0327e" opacity="0.25"/>
<circle cx="139.4" cy="523.0" r="0.765" fill="#f0327e"/>
<circle cx="140.5" cy="524" r="0.90" fill="#e8d84a" opacity="0.25"/>
<circle cx="140.5" cy="524.0" r="0.51" fill="#e8d84a"/>
<circle cx="148" cy="516.6" r="1.20" fill="#f0327e" opacity="0.25"/>
<circle cx="148.0" cy="516.6" r="0.68" fill="#f0327e"/>
<circle cx="117" cy="534" r="1.05" fill="#4fe0a0" opacity="0.25"/>
<circle cx="117.0" cy="534.0" r="0.595" fill="#4fe0a0"/>
<circle cx="118" cy="535.5" r="0.90" fill="#f0327e" opacity="0.25"/>
<circle cx="118.0" cy="535.5" r="0.51" fill="#f0327e"/>
<circle cx="137" cy="540" r="1.05" fill="#f0327e" opacity="0.25"/>
<circle cx="137.0" cy="540.0" r="0.595" fill="#f0327e"/>
<circle cx="143" cy="542.6" r="1.20" fill="#f0327e" opacity="0.25"/>
<circle cx="143.0" cy="542.6" r="0.68" fill="#f0327e"/>
<circle cx="144.6" cy="541.6" r="1.05" fill="#4fe0a0" opacity="0.25"/>
<circle cx="144.6" cy="541.6" r="0.595" fill="#4fe0a0"/>
<circle cx="148" cy="542" r="1.05" fill="#f0327e" opacity="0.25"/>
<circle cx="148.0" cy="542.0" r="0.595" fill="#f0327e"/>
<path d="M142.5,525.0 C142.5,527.4 142.2,530.0 141.3,532.1 C140.3,534.2 138.5,536.1 136.7,537.6 C135.0,539.1 132.8,540.5 130.5,541.0 C128.3,541.6 125.6,541.7 123.4,541.1 C121.3,540.4 119.2,538.8 117.5,537.3 C115.8,535.8 114.4,533.8 113.3,531.8 C112.2,529.7 110.8,527.3 110.8,525.0 C110.7,522.7 111.9,520.1 113.0,518.1 C114.1,516.0 115.6,514.1 117.4,512.5 C119.1,510.9 121.2,509.0 123.3,508.5 C125.5,507.9 128.2,508.6 130.5,509.1 C132.8,509.7 135.3,510.4 137.1,511.9 C138.9,513.4 140.3,515.8 141.2,517.9 C142.1,520.1 142.5,522.6 142.5,525.0Z" fill="none" stroke="#ecb428" stroke-width="1.15" stroke-dasharray="1.1,0.9"/>
</g>
<rect x="153.0" y="499.4" width="48.2" height="47.8" fill="#0a0c33"/>
<g clip-path="url(#cf2)">
<g filter="url(#blur3)">
<ellipse cx="178" cy="525" rx="18" ry="18" fill="#161a70" opacity="0.85"/>
<ellipse cx="160" cy="503" rx="10" ry="8" fill="#1a1e7a" opacity="0.7"/>
<ellipse cx="198" cy="540" rx="9" ry="10" fill="#171b70" opacity="0.7"/>
</g>
<circle cx="176" cy="515.4" r="1.05" fill="#4fe0a0" opacity="0.25"/>
<circle cx="176.0" cy="515.4" r="0.595" fill="#4fe0a0"/>
<circle cx="180.6" cy="516.6" r="1.20" fill="#f0327e" opacity="0.25"/>
<circle cx="180.6" cy="516.6" r="0.68" fill="#f0327e"/>
<circle cx="181.6" cy="515.8" r="0.90" fill="#4fe0a0" opacity="0.25"/>
<circle cx="181.6" cy="515.8" r="0.51" fill="#4fe0a0"/>
<circle cx="166" cy="522" r="1.20" fill="#f0327e" opacity="0.25"/>
<circle cx="166.0" cy="522.0" r="0.68" fill="#f0327e"/>
<circle cx="186.6" cy="520.8" r="1.05" fill="#f0327e" opacity="0.25"/>
<circle cx="186.6" cy="520.8" r="0.595" fill="#f0327e"/>
<circle cx="184.4" cy="525.4" r="1.20" fill="#f0327e" opacity="0.25"/>
<circle cx="184.4" cy="525.4" r="0.68" fill="#f0327e"/>
<circle cx="184" cy="531.6" r="1.05" fill="#4fe0a0" opacity="0.25"/>
<circle cx="184.0" cy="531.6" r="0.595" fill="#4fe0a0"/>
<circle cx="166" cy="543.5" r="0.90" fill="#4fe0a0" opacity="0.25"/>
<circle cx="166.0" cy="543.5" r="0.51" fill="#4fe0a0"/>
<circle cx="178" cy="545" r="1.20" fill="#f0327e" opacity="0.25"/>
<circle cx="178.0" cy="545.0" r="0.68" fill="#f0327e"/>
<circle cx="181" cy="546.6" r="1.20" fill="#f0327e" opacity="0.25"/>
<circle cx="181.0" cy="546.6" r="0.68" fill="#f0327e"/>
<circle cx="187" cy="502" r="1.05" fill="#f0327e" opacity="0.25"/>
<circle cx="187.0" cy="502.0" r="0.595" fill="#f0327e"/>
<circle cx="189" cy="504" r="0.90" fill="#4fe0a0" opacity="0.25"/>
<circle cx="189.0" cy="504.0" r="0.51" fill="#4fe0a0"/>
<path d="M193.0,525.0 C193.0,527.5 193.9,530.5 193.0,532.5 C192.0,534.5 189.1,535.6 187.2,537.1 C185.3,538.5 183.7,540.9 181.6,541.3 C179.5,541.8 176.9,540.6 174.7,540.0 C172.6,539.3 170.6,538.5 168.6,537.3 C166.7,536.1 163.9,534.6 163.0,532.6 C162.0,530.5 162.9,527.5 163.0,525.0 C163.2,522.5 162.8,519.9 163.7,517.8 C164.5,515.7 166.5,513.8 168.3,512.3 C170.1,510.9 172.4,509.7 174.6,509.2 C176.7,508.7 179.3,508.5 181.5,509.1 C183.6,509.7 185.4,511.4 187.3,512.8 C189.2,514.2 191.8,515.6 192.7,517.6 C193.7,519.6 193.0,522.5 193.0,525.0Z" fill="none" stroke="#ecb428" stroke-width="1.15" stroke-dasharray="1.1,0.9"/>
</g>
<rect x="102.4" y="549.4" width="49.2" height="48.6" fill="#0a0c33"/>
<g clip-path="url(#cf3)">
<g filter="url(#blur3)">
<ellipse cx="126" cy="574" rx="18.5" ry="17" fill="#181c78" opacity="0.85"/>
<ellipse cx="146" cy="556" rx="9" ry="8" fill="#1a1e7a" opacity="0.6"/>
<ellipse cx="106" cy="592" rx="9" ry="8" fill="#1a1e7a" opacity="0.6"/>
</g>
<circle cx="124" cy="564" r="1.80" fill="#f0327e" opacity="0.25"/>
<circle cx="124.0" cy="564.0" r="1.02" fill="#f0327e"/>
<circle cx="123" cy="563" r="1.05" fill="#4fe0a0" opacity="0.25"/>
<circle cx="123.0" cy="563.0" r="0.595" fill="#4fe0a0"/>
<circle cx="137.6" cy="565" r="1.80" fill="#f0327e" opacity="0.25"/>
<circle cx="137.6" cy="565.0" r="1.02" fill="#f0327e"/>
<circle cx="138.6" cy="568" r="1.65" fill="#f0327e" opacity="0.25"/>
<circle cx="138.6" cy="568.0" r="0.935" fill="#f0327e"/>
<circle cx="137.6" cy="569.6" r="1.05" fill="#4fe0a0" opacity="0.25"/>
<circle cx="137.6" cy="569.6" r="0.595" fill="#4fe0a0"/>
<circle cx="116.6" cy="577" r="1.95" fill="#f0327e" opacity="0.25"/>
<circle cx="116.6" cy="577.0" r="1.105" fill="#f0327e"/>
<circle cx="115.8" cy="575.8" r="1.05" fill="#4fe0a0" opacity="0.25"/>
<circle cx="115.8" cy="575.8" r="0.595" fill="#4fe0a0"/>
<circle cx="137" cy="585" r="1.95" fill="#e8d84a" opacity="0.25"/>
<circle cx="137.0" cy="585.0" r="1.105" fill="#e8d84a"/>
<circle cx="138.4" cy="586" r="1.50" fill="#f0327e" opacity="0.25"/>
<circle cx="138.4" cy="586.0" r="0.85" fill="#f0327e"/>
<circle cx="135" cy="591" r="2.25" fill="#f0327e" opacity="0.25"/>
<circle cx="135.0" cy="591.0" r="1.275" fill="#f0327e"/>
<circle cx="136.4" cy="592.4" r="1.65" fill="#f0327e" opacity="0.25"/>
<circle cx="136.4" cy="592.4" r="0.935" fill="#f0327e"/>
<path d="M142.5,574.0 C142.6,576.2 142.0,578.6 141.0,580.6 C140.0,582.6 138.3,584.6 136.4,586.0 C134.5,587.4 132.1,588.7 129.8,589.1 C127.4,589.6 124.7,589.4 122.3,588.9 C119.9,588.4 117.2,587.6 115.5,586.1 C113.8,584.7 112.8,582.3 111.9,580.3 C110.9,578.2 109.9,576.2 109.7,574.0 C109.6,571.8 109.8,569.2 110.8,567.3 C111.8,565.3 113.8,563.5 115.7,562.1 C117.6,560.7 120.0,559.3 122.3,558.9 C124.6,558.5 127.2,559.3 129.5,559.8 C131.8,560.4 134.3,561.0 136.1,562.3 C137.9,563.6 139.3,565.7 140.4,567.6 C141.4,569.6 142.4,571.8 142.5,574.0Z" fill="none" stroke="#ecb428" stroke-width="1.15" stroke-dasharray="1.1,0.9"/>
</g>
<rect x="102.9" y="549.9" width="48.2" height="47.6" fill="none" stroke="#e0a82c" stroke-width="0.9" stroke-dasharray="0.9,0.9"/>
<rect x="153.0" y="549.4" width="48.2" height="48.6" fill="#0a0c33"/>
<g clip-path="url(#cf4)">
<g filter="url(#blur3)">
<ellipse cx="177" cy="574" rx="18" ry="19" fill="#15196c" opacity="0.85"/>
<ellipse cx="158" cy="556" rx="8" ry="8" fill="#1a1e7a" opacity="0.6"/>
<ellipse cx="198" cy="590" rx="8" ry="8" fill="#151960" opacity="0.7"/>
</g>
<circle cx="156" cy="556" r="1.20" fill="#f0327e" opacity="0.25"/>
<circle cx="156.0" cy="556.0" r="0.68" fill="#f0327e"/>
<circle cx="172" cy="563" r="2.40" fill="#f0327e" opacity="0.25"/>
<circle cx="172.0" cy="563.0" r="1.36" fill="#f0327e"/>
<circle cx="173.6" cy="561" r="1.35" fill="#4fe0a0" opacity="0.25"/>
<circle cx="173.6" cy="561.0" r="0.765" fill="#4fe0a0"/>
<circle cx="176" cy="566.6" r="2.25" fill="#f0327e" opacity="0.25"/>
<circle cx="176.0" cy="566.6" r="1.275" fill="#f0327e"/>
<circle cx="184" cy="566" r="2.40" fill="#f0327e" opacity="0.25"/>
<circle cx="184.0" cy="566.0" r="1.36" fill="#f0327e"/>
<circle cx="188" cy="565" r="2.55" fill="#f0327e" opacity="0.25"/>
<circle cx="188.0" cy="565.0" r="1.4449999999999998" fill="#f0327e"/>
<circle cx="190.5" cy="564" r="2.10" fill="#e8d84a" opacity="0.25"/>
<circle cx="190.5" cy="564.0" r="1.19" fill="#e8d84a"/>
<circle cx="191.6" cy="563" r="1.80" fill="#f0327e" opacity="0.25"/>
<circle cx="191.6" cy="563.0" r="1.02" fill="#f0327e"/>
<circle cx="164" cy="572" r="2.40" fill="#f0327e" opacity="0.25"/>
<circle cx="164.0" cy="572.0" r="1.36" fill="#f0327e"/>
<circle cx="163" cy="573.6" r="1.35" fill="#4fe0a0" opacity="0.25"/>
<circle cx="163.0" cy="573.6" r="0.765" fill="#4fe0a0"/>
<circle cx="173" cy="572" r="2.25" fill="#f0327e" opacity="0.25"/>
<circle cx="173.0" cy="572.0" r="1.275" fill="#f0327e"/>
<circle cx="174" cy="578" r="2.25" fill="#f0327e" opacity="0.25"/>
<circle cx="174.0" cy="578.0" r="1.275" fill="#f0327e"/>
<circle cx="179" cy="579.4" r="2.25" fill="#f0327e" opacity="0.25"/>
<circle cx="179.0" cy="579.4" r="1.275" fill="#f0327e"/>
<circle cx="183" cy="578.6" r="2.10" fill="#f0327e" opacity="0.25"/>
<circle cx="183.0" cy="578.6" r="1.19" fill="#f0327e"/>
<circle cx="170" cy="582" r="2.70" fill="#f0327e" opacity="0.25"/>
<circle cx="170.0" cy="582.0" r="1.53" fill="#f0327e"/>
<circle cx="171" cy="584.4" r="2.40" fill="#f0327e" opacity="0.25"/>
<circle cx="171.0" cy="584.4" r="1.36" fill="#f0327e"/>
<circle cx="163" cy="579" r="1.80" fill="#f0327e" opacity="0.25"/>
<circle cx="163.0" cy="579.0" r="1.02" fill="#f0327e"/>
<circle cx="167" cy="588" r="1.80" fill="#f0327e" opacity="0.25"/>
<circle cx="167.0" cy="588.0" r="1.02" fill="#f0327e"/>
<circle cx="198" cy="595" r="1.05" fill="#4fe0a0" opacity="0.25"/>
<circle cx="198.0" cy="595.0" r="0.595" fill="#4fe0a0"/>
<path d="M192.2,574.5 C192.3,577.0 192.1,579.8 191.2,582.1 C190.3,584.4 188.7,586.9 186.8,588.2 C185.0,589.5 182.3,589.8 180.2,590.0 C178.0,590.2 176.0,590.0 173.9,589.6 C171.8,589.2 169.4,588.8 167.7,587.5 C166.0,586.2 164.9,583.7 163.8,581.6 C162.6,579.4 161.0,577.0 160.8,574.5 C160.7,572.0 161.7,569.1 162.7,566.9 C163.8,564.6 165.5,562.5 167.3,561.0 C169.1,559.4 171.4,558.3 173.6,557.8 C175.8,557.2 178.4,556.7 180.5,557.4 C182.6,558.2 184.2,560.4 185.9,562.1 C187.6,563.7 189.6,565.1 190.6,567.2 C191.7,569.3 192.1,572.0 192.2,574.5Z" fill="none" stroke="#f02a50" stroke-width="1.15" stroke-dasharray="1.1,0.9"/>
</g>
<rect x="153.5" y="549.9" width="47.2" height="47.6" fill="none" stroke="#d0284c" stroke-width="0.9" stroke-dasharray="0.9,0.9"/>
<text x="104.3" y="510.0" font-size="7.6" font-weight="bold" text-anchor="start" fill="#fff" textLength="20.0" lengthAdjust="spacingAndGlyphs">BCL2</text>
<text x="155.0" y="510.0" font-size="7.6" font-weight="bold" text-anchor="start" fill="#fff" textLength="20.0" lengthAdjust="spacingAndGlyphs">BCL6</text>
<text x="104.3" y="560.0" font-size="7.6" font-weight="bold" text-anchor="start" fill="#fff" textLength="17.0" lengthAdjust="spacingAndGlyphs">MYC</text>
<rect x="102.4" y="599.6" width="98.8" height="97.6" fill="#0a0d3c"/>
<g clip-path="url(#jc)"><g filter="url(#blur06)" fill="none" stroke-linecap="round">
<path d="M115.4,598.9h0M123.6,599.9h0M143.0,600.4h0M144.7,598.8h0M175.0,600.3h0M186.0,599.3h0M189.0,598.8h0M110.0,602.9h0M114.3,602.2h0M139.4,601.4h0M140.9,601.9h0M178.8,602.2h0M181.2,601.7h0M191.0,602.1h0M195.3,601.4h0M200.2,602.8h0M118.2,603.9h0M146.0,604.6h0M148.5,604.0h0M164.9,603.9h0M171.8,604.9h0M189.1,603.4h0M196.8,604.6h0M108.6,606.7h0M133.5,607.5h0M138.0,607.3h0M146.8,607.2h0M151.7,606.8h0M155.4,606.7h0M175.8,606.7h0M182.0,605.9h0M194.7,605.7h0M102.5,609.0h0M119.3,609.6h0M139.8,608.1h0M143.0,608.4h0M167.0,609.5h0M185.2,609.7h0M195.1,609.4h0M115.1,612.0h0M120.4,610.7h0M123.4,610.6h0M140.6,611.5h0M144.2,611.5h0M154.3,611.1h0M165.0,611.9h0M170.7,610.7h0M177.4,610.6h0M193.4,612.1h0M202.7,611.2h0M102.4,614.4h0M108.4,614.0h0M114.0,613.1h0M115.4,612.8h0M125.8,614.1h0M135.0,613.6h0M139.5,614.1h0M149.2,613.6h0M159.7,612.9h0M171.8,612.8h0M175.7,613.9h0M178.8,614.6h0M188.4,613.2h0M193.4,612.8h0M114.3,615.8h0M127.7,615.9h0M139.3,616.7h0M151.6,615.1h0M162.3,616.6h0M176.0,615.5h0M192.9,616.0h0M197.4,615.2h0M203.9,615.5h0M107.3,618.3h0M124.2,619.2h0M146.5,618.1h0M170.4,619.3h0M191.8,618.8h0M201.9,618.5h0M104.6,620.1h0M107.0,620.2h0M112.2,621.5h0M155.2,620.9h0M160.4,620.8h0M192.8,620.1h0M195.6,621.0h0M203.9,620.4h0M116.0,622.3h0M121.1,623.9h0M134.7,623.9h0M137.3,622.7h0M161.0,622.5h0M179.8,622.9h0M103.8,624.8h0M111.1,625.2h0M127.9,626.0h0M135.3,624.7h0M179.8,625.3h0M189.9,625.0h0M192.5,626.0h0M107.8,627.9h0M116.3,627.7h0M122.0,627.1h0M130.2,627.3h0M145.8,628.1h0M202.0,627.7h0M112.5,630.1h0M125.6,630.9h0M144.2,629.7h0M162.9,630.3h0M185.5,630.7h0M193.6,630.7h0M203.3,629.5h0M107.6,631.8h0M112.9,631.9h0M134.6,632.3h0M142.2,633.0h0M148.5,632.5h0M164.4,632.1h0M166.4,632.9h0M170.2,631.6h0M172.5,632.9h0M189.4,632.8h0M127.4,635.5h0M163.4,635.1h0M165.6,634.5h0M192.4,634.6h0M195.7,635.5h0M197.4,635.3h0M109.8,638.0h0M115.9,636.6h0M120.4,638.0h0M134.1,637.4h0M107.3,639.2h0M109.5,639.7h0M116.5,639.2h0M120.5,638.7h0M143.6,639.2h0M149.3,639.6h0M151.9,640.4h0M169.2,639.2h0M175.9,638.6h0M181.9,638.6h0M185.1,640.0h0M195.5,638.7h0M126.2,641.5h0M139.8,641.7h0M156.3,642.8h0M158.9,641.3h0M180.9,641.1h0M183.6,642.0h0M130.7,643.6h0M133.2,645.1h0M162.6,643.3h0M165.1,643.4h0M174.0,644.7h0M181.5,644.6h0M184.1,643.7h0M194.7,644.0h0M203.2,644.1h0M105.6,646.7h0M120.9,647.5h0M142.9,645.9h0M188.4,645.6h0M117.6,648.4h0M120.0,649.2h0M136.3,649.9h0M154.3,649.2h0M162.2,648.9h0M165.8,649.6h0M172.2,649.5h0M178.4,649.8h0M189.8,648.7h0M197.3,649.7h0M107.4,651.7h0M109.7,652.2h0M124.0,652.0h0M169.2,651.7h0M178.2,650.7h0M185.9,651.9h0M116.9,653.0h0M141.7,654.5h0M155.4,653.3h0M163.6,653.6h0M166.6,653.0h0M192.0,654.0h0M107.6,656.8h0M115.8,655.6h0M134.8,656.6h0M156.2,656.0h0M166.6,656.6h0M186.7,656.9h0M194.1,655.1h0M107.0,658.8h0M108.7,658.9h0M111.8,658.5h0M125.0,658.5h0M139.2,657.4h0M161.3,659.0h0M162.3,657.5h0M181.8,657.8h0M200.7,657.7h0M202.9,657.7h0M106.0,660.1h0M106.9,660.1h0M110.4,659.7h0M113.3,661.4h0M118.9,660.9h0M180.6,661.5h0M192.4,660.2h0M199.4,660.2h0M109.3,663.4h0M117.8,663.9h0M126.2,662.5h0M128.0,662.8h0M136.3,662.3h0M162.7,663.7h0M169.1,662.5h0M171.4,663.5h0M177.0,662.6h0M184.9,662.5h0M198.9,663.5h0M201.7,662.5h0M203.3,663.5h0M103.2,665.2h0M118.5,665.2h0M120.4,666.3h0M128.9,664.7h0M139.5,665.7h0M142.1,666.3h0M145.8,665.8h0M149.1,666.0h0M153.9,666.0h0M117.5,666.8h0M120.2,667.4h0M125.9,668.0h0M135.3,667.6h0M141.5,668.4h0M149.7,667.2h0M181.9,667.9h0M187.0,667.4h0M195.9,668.3h0M107.0,670.9h0M109.6,670.9h0M113.7,670.5h0M132.0,670.4h0M137.1,670.1h0M145.3,670.8h0M147.9,670.8h0M165.4,670.9h0M174.5,669.9h0M192.1,669.6h0M199.0,670.6h0M103.1,671.9h0M128.7,672.3h0M135.5,672.6h0M154.3,671.7h0M176.1,671.6h0M102.7,674.7h0M110.2,674.1h0M129.5,675.5h0M132.4,674.8h0M145.6,674.9h0M155.6,674.0h0M174.9,675.1h0M182.9,674.5h0M193.5,675.1h0M109.5,676.4h0M119.5,677.7h0M129.8,677.9h0M153.2,678.0h0M163.9,676.2h0M186.8,676.2h0M196.0,677.8h0M200.3,677.9h0M130.2,679.1h0M143.5,679.0h0M153.8,680.2h0M156.2,678.6h0M169.0,678.6h0M174.6,679.6h0M181.5,679.7h0M109.3,682.1h0M121.8,682.6h0M146.6,682.2h0M192.6,681.6h0M198.4,680.9h0M132.6,683.2h0M135.7,684.5h0M153.9,684.6h0M159.0,684.0h0M163.8,683.3h0M182.5,683.6h0M191.0,684.4h0M197.4,684.7h0M103.8,685.9h0M120.2,685.9h0M123.5,686.4h0M130.9,686.6h0M136.3,687.4h0M139.4,687.0h0M144.4,686.7h0M146.8,686.0h0M162.9,685.9h0M173.6,687.3h0M180.1,686.8h0M184.1,686.9h0M189.9,686.3h0M201.3,686.8h0M204.6,687.0h0M104.9,689.6h0M107.4,688.1h0M115.7,689.4h0M124.1,689.1h0M135.4,689.1h0M139.3,688.2h0M159.0,689.6h0M162.3,688.2h0M174.7,688.5h0M178.9,688.6h0M191.1,688.9h0M103.1,692.0h0M105.8,691.5h0M109.6,692.1h0M122.1,691.9h0M133.5,690.4h0M146.4,691.6h0M160.0,692.0h0M163.9,690.7h0M166.3,690.4h0M167.6,691.8h0M174.1,691.9h0M177.5,691.8h0M193.6,690.9h0M194.9,690.9h0M201.4,691.5h0M204.2,691.8h0M105.2,693.6h0M116.3,693.3h0M118.8,693.7h0M135.4,694.1h0M139.7,693.6h0M148.3,694.0h0M188.6,692.7h0M113.8,695.1h0M138.2,695.9h0M165.0,695.3h0M168.3,696.2h0M171.2,696.5h0M174.2,695.0h0M101.5,697.9h0M124.0,698.0h0M146.4,698.8h0M150.7,698.6h0M183.8,697.9h0M203.1,697.4h0" stroke="#18207c" stroke-width="2.6"/>
<path d="M128.8,599.2h0M154.0,598.8h0M197.4,599.5h0M200.5,599.4h0M203.0,599.4h0M105.6,602.9h0M128.8,601.3h0M169.3,601.4h0M128.9,604.5h0M134.2,603.9h0M139.6,604.1h0M142.3,604.4h0M162.4,604.3h0M183.2,603.7h0M199.3,604.8h0M202.5,604.4h0M122.6,606.9h0M143.5,606.3h0M180.0,606.1h0M184.2,606.0h0M113.1,608.6h0M127.6,608.4h0M131.2,608.9h0M135.6,609.9h0M181.1,608.2h0M196.9,609.7h0M200.0,609.8h0M106.4,611.9h0M117.2,610.9h0M127.5,611.7h0M135.7,611.7h0M139.8,611.8h0M167.9,612.0h0M187.2,612.1h0M200.0,610.8h0M121.0,614.2h0M156.6,614.0h0M162.4,613.0h0M164.3,614.5h0M180.4,614.4h0M192.3,613.5h0M196.7,612.9h0M117.5,615.8h0M130.7,616.9h0M133.5,615.7h0M141.0,615.3h0M161.3,615.7h0M168.3,615.6h0M187.5,616.2h0M115.0,617.5h0M121.8,619.1h0M147.7,619.0h0M164.0,619.1h0M172.8,617.7h0M193.4,618.8h0M130.3,620.5h0M142.5,621.7h0M150.6,620.9h0M157.5,620.3h0M163.8,620.6h0M182.3,620.9h0M105.9,623.0h0M118.5,622.8h0M145.9,623.8h0M164.4,622.9h0M169.5,623.0h0M178.0,623.5h0M183.8,623.7h0M188.9,622.4h0M200.1,622.3h0M118.0,624.7h0M125.7,624.7h0M168.5,625.1h0M171.3,625.9h0M199.0,625.8h0M203.7,625.5h0M139.4,628.6h0M150.5,627.0h0M161.6,627.0h0M164.7,628.5h0M167.5,628.6h0M174.7,627.9h0M177.6,628.4h0M191.6,627.8h0M107.2,629.2h0M114.1,629.8h0M128.1,629.7h0M141.9,630.8h0M146.4,630.8h0M154.7,629.3h0M177.0,630.1h0M178.9,629.3h0M182.2,631.0h0M200.5,629.5h0M104.6,632.4h0M118.9,633.3h0M122.1,631.9h0M124.4,632.7h0M126.0,632.5h0M130.1,633.4h0M157.2,632.6h0M197.0,631.6h0M113.9,634.5h0M125.8,634.8h0M133.3,634.7h0M138.6,635.1h0M149.3,634.6h0M155.5,634.3h0M171.0,634.1h0M173.5,634.2h0M190.5,635.1h0M101.5,637.2h0M114.1,637.4h0M118.3,636.6h0M124.0,636.4h0M130.3,637.6h0M131.4,636.7h0M172.3,637.8h0M181.2,636.6h0M185.6,637.6h0M189.6,636.3h0M193.3,637.7h0M199.0,637.7h0M139.5,639.0h0M141.1,640.2h0M158.3,640.0h0M178.8,640.1h0M189.6,640.0h0M203.4,639.2h0M115.1,641.8h0M118.4,642.6h0M137.3,642.4h0M146.2,642.5h0M153.5,641.5h0M162.4,642.0h0M174.4,641.3h0M200.3,642.4h0M102.9,644.0h0M147.9,644.6h0M149.8,644.1h0M199.2,645.2h0M116.8,645.8h0M139.9,646.5h0M153.3,647.4h0M162.7,647.4h0M163.6,646.2h0M166.6,646.6h0M191.2,647.3h0M106.3,648.6h0M125.4,649.7h0M128.4,648.6h0M150.6,649.6h0M156.9,649.2h0M161.0,649.5h0M167.9,649.3h0M185.2,648.6h0M112.8,651.0h0M134.9,651.7h0M143.7,651.0h0M154.5,650.5h0M159.6,651.5h0M161.2,650.3h0M167.1,651.6h0M175.0,651.7h0M180.5,651.7h0M190.6,651.2h0M108.6,653.9h0M128.3,653.4h0M131.2,653.6h0M136.8,654.1h0M138.4,653.0h0M144.3,653.3h0M158.6,653.5h0M160.0,652.8h0M168.5,654.3h0M173.4,654.1h0M176.6,652.8h0M178.9,654.0h0M103.1,655.4h0M118.1,655.5h0M138.1,655.8h0M140.7,656.6h0M151.7,656.2h0M158.9,655.6h0M172.0,655.7h0M202.7,655.8h0M114.7,658.8h0M158.5,658.8h0M172.2,659.0h0M174.8,657.9h0M175.8,658.6h0M178.8,659.0h0M187.4,657.4h0M193.3,657.6h0M121.4,659.9h0M134.8,660.4h0M137.6,660.1h0M149.0,661.5h0M153.2,660.5h0M157.1,660.1h0M158.5,660.7h0M164.9,661.5h0M178.7,661.2h0M189.2,661.5h0M104.2,663.0h0M120.7,663.7h0M139.6,663.8h0M141.1,662.3h0M144.4,662.9h0M146.0,663.2h0M151.5,662.6h0M158.5,662.4h0M173.9,663.5h0M179.4,662.9h0M187.5,663.3h0M189.4,663.2h0M110.0,664.9h0M124.9,665.8h0M135.3,665.5h0M158.7,664.9h0M181.1,665.7h0M194.7,665.5h0M197.5,664.9h0M107.3,667.1h0M129.0,667.7h0M151.8,668.3h0M160.9,668.3h0M163.0,667.4h0M166.1,667.5h0M197.9,667.4h0M139.3,670.2h0M152.9,669.9h0M162.5,670.7h0M173.4,670.1h0M177.5,669.5h0M182.8,670.3h0M194.9,669.8h0M196.7,670.3h0M105.7,671.6h0M108.7,672.5h0M116.5,672.2h0M126.0,672.0h0M130.6,672.9h0M132.5,671.8h0M141.6,671.8h0M160.5,672.1h0M166.7,671.8h0M168.5,672.3h0M179.8,671.6h0M198.7,673.1h0M137.6,675.3h0M147.9,674.8h0M150.7,675.0h0M106.7,677.4h0M112.3,677.7h0M114.3,677.5h0M142.1,676.8h0M164.9,676.5h0M168.2,677.8h0M171.0,676.3h0M176.9,677.3h0M182.4,676.4h0M189.9,676.7h0M191.9,676.5h0M101.8,678.6h0M105.9,680.4h0M107.6,678.8h0M121.9,679.1h0M127.4,680.2h0M134.2,679.5h0M161.2,680.3h0M188.0,679.4h0M191.4,680.0h0M199.3,679.5h0M201.4,679.6h0M104.2,682.6h0M114.3,681.4h0M117.1,681.6h0M128.3,681.0h0M144.4,681.2h0M154.3,681.8h0M181.9,682.3h0M185.5,681.1h0M190.2,681.5h0M102.5,683.3h0M110.5,683.8h0M113.4,684.5h0M118.1,684.9h0M139.8,685.0h0M156.7,683.3h0M170.7,684.2h0M177.5,685.0h0M105.8,686.7h0M117.9,687.1h0M133.7,687.1h0M141.7,687.3h0M158.3,686.3h0M176.9,686.7h0M197.5,686.9h0M126.9,689.2h0M133.0,688.1h0M138.0,689.1h0M147.8,689.3h0M153.9,687.9h0M157.0,689.0h0M165.4,688.0h0M169.3,689.0h0M171.7,688.4h0M196.1,688.6h0M112.0,692.0h0M125.0,690.5h0M184.8,690.8h0M187.6,691.6h0M101.7,693.2h0M126.4,694.5h0M132.0,693.4h0M156.0,694.5h0M159.3,693.1h0M164.2,692.8h0M175.8,693.1h0M182.9,694.2h0M202.8,694.1h0M116.4,696.8h0M122.0,695.2h0M126.1,696.7h0M161.3,695.2h0M163.8,696.0h0M192.9,695.3h0M119.5,698.8h0M128.6,698.2h0M135.6,698.5h0M148.5,698.8h0M169.3,698.0h0M196.6,698.1h0M199.5,698.8h0" stroke="#222ea4" stroke-width="2.5"/>
<path d="M102.2,598.9h0M119.4,599.8h0M136.6,599.5h0M147.4,598.8h0M151.8,599.4h0M123.0,601.1h0M125.7,602.5h0M132.7,601.1h0M135.5,602.2h0M144.0,601.3h0M147.8,602.0h0M155.8,601.1h0M184.8,601.0h0M102.4,604.1h0M107.2,604.2h0M131.8,604.9h0M137.7,604.4h0M151.2,604.8h0M156.1,603.4h0M159.0,605.0h0M166.4,603.4h0M192.2,604.6h0M119.1,607.2h0M136.5,607.5h0M150.5,605.8h0M165.2,607.3h0M170.8,606.9h0M192.0,607.1h0M201.3,605.8h0M123.2,609.9h0M151.3,608.3h0M156.7,608.9h0M188.7,609.0h0M108.3,610.8h0M133.3,611.8h0M157.5,610.8h0M161.2,612.2h0M181.9,610.9h0M110.4,614.6h0M123.6,614.2h0M150.4,613.6h0M153.6,614.2h0M199.3,612.8h0M201.6,613.1h0M106.9,616.3h0M120.3,616.9h0M178.5,616.7h0M182.3,615.8h0M105.5,617.4h0M112.9,617.6h0M153.9,617.7h0M184.3,618.7h0M116.4,621.5h0M139.5,620.8h0M144.3,620.9h0M168.0,621.1h0M200.0,620.4h0M131.8,623.4h0M172.7,622.2h0M191.9,623.3h0M108.7,626.1h0M114.6,626.3h0M120.7,626.1h0M144.1,626.1h0M155.4,624.9h0M162.2,626.2h0M173.8,625.2h0M185.2,624.8h0M195.7,626.2h0M118.7,628.3h0M127.3,627.4h0M134.0,627.3h0M142.6,627.5h0M199.5,627.2h0M134.2,630.0h0M150.2,629.5h0M160.8,629.9h0M166.1,629.2h0M168.4,630.9h0M146.0,633.4h0M151.0,632.6h0M162.2,633.1h0M179.8,632.5h0M183.8,631.8h0M109.0,634.8h0M131.5,635.4h0M135.7,634.6h0M140.7,635.0h0M158.3,635.8h0M127.2,637.9h0M178.0,636.3h0M183.0,636.7h0M196.3,637.9h0M111.9,639.9h0M147.0,640.4h0M166.6,640.2h0M109.8,641.9h0M142.1,641.5h0M166.6,641.7h0M170.5,642.8h0M190.6,641.5h0M202.0,641.8h0M114.0,644.5h0M160.8,643.8h0M193.0,644.8h0M201.1,643.5h0M110.8,645.8h0M150.9,646.6h0M175.6,645.6h0M186.9,646.2h0M203.1,646.6h0M139.0,649.6h0M145.0,649.4h0M146.3,648.3h0M104.9,651.3h0M146.2,650.6h0M165.1,650.5h0M173.5,650.7h0M193.5,651.8h0M186.6,653.0h0M123.8,655.6h0M129.5,655.5h0M162.3,655.4h0M199.5,655.1h0M146.5,657.9h0M115.3,660.4h0M129.8,660.2h0M151.5,661.1h0M171.9,660.7h0M182.6,660.7h0M202.6,660.2h0M133.7,663.2h0M149.1,662.7h0M165.7,662.4h0M132.9,665.0h0M137.3,665.3h0M163.7,665.5h0M169.3,665.8h0M182.6,664.5h0M191.5,665.9h0M121.7,668.3h0M134.2,667.2h0M146.6,668.6h0M168.0,667.0h0M200.9,668.2h0M104.2,669.3h0M119.3,669.2h0M126.3,669.1h0M180.2,669.8h0M111.2,671.7h0M115.4,673.0h0M138.2,672.3h0M170.6,672.6h0M174.8,673.2h0M107.1,674.0h0M140.9,675.2h0M188.0,675.5h0M124.5,676.5h0M157.4,677.4h0M159.9,677.5h0M174.0,678.0h0M197.4,677.9h0M109.9,679.2h0M123.3,680.2h0M137.5,680.4h0M145.5,680.2h0M173.0,678.7h0M186.4,679.0h0M135.8,681.8h0M138.3,682.1h0M141.2,682.2h0M165.5,681.3h0M171.6,681.2h0M203.4,681.6h0M120.7,683.7h0M137.7,684.3h0M146.5,684.7h0M151.9,683.5h0M172.6,683.5h0M202.1,684.4h0M108.9,686.0h0M151.6,686.5h0M181.1,686.5h0M186.8,686.5h0M193.2,685.7h0M103.2,689.0h0M131.3,691.5h0M144.9,692.1h0M189.3,691.2h0M107.9,692.8h0M112.8,693.1h0M129.6,693.6h0M138.1,693.6h0M143.3,693.1h0M150.6,693.2h0M166.9,692.8h0M110.0,695.4h0M133.3,695.2h0M144.7,696.7h0M155.9,695.1h0M184.0,696.4h0M199.1,695.8h0M105.7,698.9h0M140.3,697.3h0M157.2,698.0h0M180.2,699.0h0" stroke="#3040c8" stroke-width="2.3"/>
</g></g>
<rect x="102.4" y="599.6" width="98.8" height="97.6" fill="url(#jv)"/>
<rect x="101.8" y="598.9" width="100.0" height="98.8" fill="none" stroke="#05061a" stroke-width="1.2"/>
<text x="104.0" y="615.0" font-size="11" font-weight="bold" text-anchor="start" fill="#fff" textLength="5.2" lengthAdjust="spacingAndGlyphs">J</text>
<rect x="114.9" y="636.2" width="6.0" height="6.0" fill="none" stroke="#e0a82c" stroke-width="0.7"/>
<line x1="127.6" y1="598.0" x2="120.3" y2="636.0" stroke="#e0a82c" stroke-width="0.7" stroke-dasharray="0.9,0.9"/>
<rect x="138.7" y="656.1" width="5.6" height="5.6" fill="none" stroke="#d8274c" stroke-width="0.7"/>
<line x1="177.5" y1="598.0" x2="143.6" y2="656.0" stroke="#d8274c" stroke-width="0.7" stroke-dasharray="0.9,0.9"/>
<path d="M118.6,669.6 L120.4,667 L121.4,670.2 Z" fill="#e8e04a" stroke="none" stroke-width="1"/>
<text x="164.4" y="667.0" font-size="7.4" font-weight="bold" text-anchor="middle" fill="#fff" textLength="32.5" lengthAdjust="spacingAndGlyphs">One cell</text>
<text x="164.3" y="677.2" font-size="7.4" font-weight="bold" text-anchor="middle" fill="#fff" textLength="26.5" lengthAdjust="spacingAndGlyphs">in field</text>
<text x="10.9" y="611.5" font-size="11" font-weight="bold" text-anchor="start" fill="#111" textLength="7.4" lengthAdjust="spacingAndGlyphs">K</text>
<text x="29.5" y="610.3" font-size="7.4" font-weight="bold" text-anchor="start" fill="#111" textLength="62.7" lengthAdjust="spacingAndGlyphs">IHC: MYC+ 40%</text>
<rect x="15.8" y="614.8" width="83.3" height="82.8" fill="#eae2e2"/>
<g clip-path="url(#kc)"><g filter="url(#blur04)" fill="none" stroke-linecap="round">
<path d="M15.2,614.6h0M21.4,614.2h0M33.8,615.5h0M36.1,614.9h0M41.3,615.3h0M54.5,614.6h0M62.1,615.0h0M68.5,615.0h0M75.5,615.3h0M80.2,615.6h0M82.9,614.5h0M91.4,615.0h0M93.2,614.2h0M16.8,616.5h0M19.1,617.6h0M22.5,616.6h0M25.4,616.7h0M27.4,617.4h0M38.4,617.5h0M43.7,616.5h0M48.2,617.4h0M59.2,616.8h0M63.4,616.8h0M68.7,617.3h0M73.8,616.3h0M78.7,616.9h0M87.5,617.6h0M100.6,617.1h0M15.7,619.8h0M18.7,618.6h0M26.2,620.1h0M28.1,619.0h0M31.3,619.4h0M43.7,619.9h0M47.1,620.0h0M49.4,619.2h0M55.2,619.2h0M70.0,619.1h0M75.5,619.6h0M77.7,618.9h0M81.4,618.8h0M86.4,619.2h0M88.0,619.8h0M27.7,621.0h0M38.5,621.4h0M41.1,622.1h0M43.1,621.8h0M45.1,622.2h0M48.6,622.0h0M59.2,622.1h0M60.8,620.9h0M67.0,620.9h0M71.0,621.0h0M82.0,621.9h0M87.4,622.3h0M97.6,621.4h0M100.5,621.8h0M40.0,623.5h0M44.7,624.6h0M47.3,624.0h0M48.9,624.6h0M70.7,623.8h0M72.9,623.5h0M80.2,623.9h0M82.7,623.3h0M86.5,623.5h0M89.0,624.4h0M19.3,625.4h0M30.6,626.4h0M34.6,625.9h0M43.2,625.6h0M52.8,626.3h0M58.1,626.6h0M66.3,626.5h0M69.5,625.7h0M76.8,626.2h0M80.0,625.8h0M86.6,626.2h0M89.8,626.4h0M99.6,626.2h0M19.2,628.4h0M21.7,628.2h0M25.4,628.9h0M29.2,628.9h0M35.8,628.6h0M46.3,628.9h0M52.6,628.4h0M54.2,627.6h0M57.8,628.3h0M60.0,629.1h0M64.8,628.6h0M67.8,629.1h0M81.1,628.8h0M86.6,629.0h0M90.7,628.1h0M98.8,629.1h0M19.4,630.6h0M21.7,631.4h0M27.7,630.8h0M30.8,630.4h0M32.9,631.3h0M35.3,629.9h0M41.1,631.4h0M43.7,630.3h0M71.2,630.3h0M76.2,631.2h0M95.9,630.2h0M16.1,633.2h0M20.9,633.0h0M29.2,632.8h0M39.7,633.6h0M54.9,632.8h0M70.2,633.2h0M80.2,632.5h0M83.5,633.5h0M85.7,632.9h0M91.3,633.1h0M95.8,633.3h0M20.0,635.6h0M27.2,635.8h0M37.7,635.5h0M43.4,634.7h0M55.3,635.1h0M58.9,634.9h0M66.2,635.1h0M69.4,635.8h0M74.8,634.4h0M77.6,635.3h0M78.8,634.6h0M85.1,634.5h0M86.8,635.9h0M89.9,635.8h0M94.7,634.6h0M97.8,635.6h0M25.9,637.1h0M57.5,637.5h0M60.4,636.8h0M63.3,637.2h0M65.7,637.9h0M71.0,638.1h0M76.0,637.9h0M77.6,636.7h0M90.4,636.7h0M93.5,637.6h0M101.1,637.2h0M17.9,640.0h0M24.7,638.9h0M26.9,639.1h0M37.5,639.9h0M43.0,640.3h0M48.2,639.8h0M66.7,640.4h0M74.0,639.0h0M79.7,639.1h0M82.5,639.7h0M87.1,640.3h0M94.9,639.3h0M98.2,639.6h0M100.7,639.4h0M21.0,641.2h0M24.2,642.2h0M29.3,641.5h0M37.3,641.7h0M44.3,641.3h0M46.9,642.6h0M70.3,641.5h0M75.8,642.5h0M80.5,642.3h0M89.1,641.8h0M22.6,644.8h0M35.2,644.9h0M37.7,643.6h0M42.6,644.7h0M46.3,644.9h0M55.5,644.5h0M57.9,645.0h0M61.4,644.6h0M66.7,644.7h0M72.3,644.5h0M79.1,643.6h0M84.8,643.9h0M92.9,644.4h0M100.4,644.7h0M18.5,646.2h0M24.2,645.7h0M28.7,646.7h0M30.7,646.2h0M36.1,647.2h0M42.0,646.5h0M44.5,646.2h0M49.0,645.7h0M54.1,646.0h0M62.3,646.6h0M69.7,647.1h0M73.2,647.0h0M93.9,645.8h0M99.3,645.9h0M22.3,648.5h0M32.2,648.8h0M40.2,648.6h0M42.6,649.4h0M52.9,648.4h0M58.1,649.0h0M62.0,649.5h0M63.8,649.1h0M73.6,648.5h0M79.1,649.5h0M91.9,648.2h0M15.7,651.1h0M25.9,651.1h0M31.1,650.4h0M34.6,651.8h0M37.2,651.7h0M50.2,651.5h0M59.5,651.7h0M75.6,651.2h0M86.6,650.8h0M88.6,650.8h0M98.8,650.6h0M101.4,651.5h0M27.2,653.5h0M34.9,653.8h0M38.3,652.9h0M45.7,653.5h0M60.6,652.9h0M63.6,652.6h0M94.7,653.6h0M15.0,655.3h0M26.0,655.0h0M31.1,656.2h0M36.7,654.9h0M39.1,654.9h0M45.1,654.9h0M55.6,654.8h0M56.8,655.9h0M64.5,655.4h0M70.1,655.4h0M94.2,655.1h0M17.7,657.7h0M20.0,657.4h0M30.0,657.7h0M38.1,657.4h0M41.1,657.5h0M48.0,658.3h0M50.9,658.2h0M53.9,658.1h0M75.0,658.2h0M79.8,657.6h0M90.4,657.5h0M100.3,657.6h0M25.4,659.9h0M28.6,660.7h0M30.8,660.0h0M36.2,659.7h0M38.5,660.0h0M43.7,660.8h0M57.9,660.7h0M62.2,660.0h0M75.5,659.3h0M86.0,660.4h0M89.0,659.7h0M93.2,659.8h0M17.1,661.7h0M22.3,661.6h0M25.5,662.3h0M36.0,662.8h0M39.7,663.0h0M45.3,662.8h0M48.9,662.9h0M51.0,663.0h0M61.7,662.8h0M66.7,662.1h0M68.9,662.8h0M74.2,662.9h0M81.9,662.1h0M97.9,662.1h0M28.9,664.5h0M31.3,663.9h0M45.0,665.2h0M49.3,663.8h0M63.0,664.5h0M67.9,663.8h0M70.4,664.0h0M72.6,664.8h0M86.8,664.3h0M88.8,664.1h0M100.9,664.4h0M16.6,666.9h0M24.5,666.8h0M30.3,666.9h0M59.3,667.3h0M64.2,667.0h0M77.4,667.0h0M84.5,667.3h0M90.0,666.1h0M92.8,667.1h0M94.5,667.6h0M97.0,666.4h0M25.9,668.7h0M38.9,669.5h0M44.8,668.6h0M50.0,669.5h0M64.7,668.7h0M71.1,668.6h0M83.9,669.2h0M86.1,669.4h0M94.5,668.4h0M99.6,668.8h0M102.3,668.9h0M16.7,671.8h0M22.5,670.6h0M29.9,671.4h0M33.4,671.6h0M35.2,671.0h0M40.9,671.5h0M42.4,671.2h0M45.9,670.7h0M47.9,671.0h0M54.0,671.5h0M58.9,671.1h0M63.8,671.2h0M69.1,671.6h0M76.2,671.1h0M97.7,671.1h0M32.0,673.9h0M44.8,673.7h0M49.0,673.6h0M57.3,673.5h0M60.3,673.8h0M62.8,673.3h0M67.4,673.1h0M80.8,673.6h0M83.3,674.0h0M94.5,674.0h0M37.9,675.1h0M45.4,675.1h0M50.6,676.2h0M56.0,675.5h0M61.8,675.5h0M67.1,676.4h0M69.8,676.5h0M82.7,676.4h0M85.4,675.4h0M87.8,675.4h0M90.6,676.3h0M15.6,677.4h0M18.1,678.4h0M31.9,677.5h0M34.5,678.7h0M39.6,678.4h0M42.4,678.2h0M52.1,678.7h0M54.7,677.5h0M64.5,677.9h0M73.8,678.7h0M75.1,678.5h0M82.8,677.8h0M91.8,677.7h0M102.0,678.1h0M29.9,680.7h0M37.2,680.3h0M39.7,680.8h0M42.8,680.7h0M46.1,680.3h0M53.3,680.6h0M56.6,680.5h0M73.7,681.1h0M76.9,680.3h0M82.5,680.6h0M84.3,681.0h0M15.1,682.1h0M21.6,683.2h0M25.8,683.1h0M34.4,682.7h0M38.5,682.2h0M42.4,682.2h0M49.3,683.0h0M64.5,682.6h0M68.2,683.0h0M74.9,682.3h0M79.0,681.9h0M80.1,683.0h0M85.8,683.3h0M89.1,683.4h0M21.8,684.7h0M24.4,685.5h0M27.1,685.6h0M30.5,684.7h0M35.4,685.3h0M39.8,684.6h0M45.6,685.3h0M51.5,684.8h0M58.4,684.4h0M60.5,685.5h0M74.2,685.4h0M82.1,685.7h0M84.1,684.4h0M98.0,684.7h0M100.4,684.6h0M15.7,687.0h0M20.3,687.3h0M23.9,687.8h0M25.7,687.0h0M28.6,686.9h0M38.4,687.6h0M45.1,687.2h0M49.1,687.7h0M57.7,687.3h0M59.6,687.7h0M71.2,687.6h0M80.2,687.7h0M83.5,686.8h0M89.4,687.9h0M93.2,687.9h0M20.1,689.3h0M27.0,689.4h0M32.4,688.9h0M46.0,689.2h0M51.1,688.9h0M58.1,689.9h0M64.0,690.1h0M70.9,688.8h0M85.2,690.2h0M86.9,689.2h0M90.4,688.9h0M100.4,689.5h0M16.0,692.0h0M33.6,691.1h0M36.7,692.1h0M39.8,691.8h0M57.0,692.1h0M60.0,691.5h0M62.0,691.1h0M73.6,692.1h0M74.9,692.2h0M84.2,691.4h0M86.3,692.2h0M96.8,691.6h0M102.2,691.3h0M38.1,694.3h0M43.0,694.0h0M45.9,694.1h0M50.1,693.2h0M53.2,693.4h0M62.1,694.0h0M63.5,693.9h0M71.6,693.4h0M74.8,693.3h0M76.4,694.6h0M87.6,694.4h0M90.2,693.3h0M93.3,694.6h0M94.6,693.4h0M100.5,694.1h0M16.3,696.7h0M26.6,696.2h0M28.5,696.9h0M36.3,696.0h0M38.6,696.8h0M49.0,696.1h0M54.9,695.7h0M56.8,696.9h0M59.3,696.4h0M90.9,696.3h0M19.2,698.7h0M27.7,699.0h0M29.3,698.6h0M33.1,698.8h0M40.1,699.2h0M43.6,698.3h0M48.7,698.5h0M51.0,698.5h0M53.2,698.3h0M56.9,698.8h0M60.6,699.2h0M69.3,699.3h0M73.9,698.4h0M79.3,697.8h0M85.2,697.8h0M100.7,698.4h0" stroke="#c4bedc" stroke-width="2.5"/>
<path d="M78.7,614.9h0M89.1,614.4h0M45.1,616.9h0M61.8,616.9h0M71.7,617.8h0M76.6,617.0h0M98.3,616.8h0M33.4,618.6h0M39.5,620.0h0M57.9,619.7h0M62.7,619.8h0M64.6,619.5h0M34.8,621.5h0M63.6,620.9h0M69.1,621.0h0M23.3,624.3h0M41.3,624.0h0M60.3,624.3h0M94.6,623.9h0M40.9,625.6h0M55.8,626.4h0M92.7,626.5h0M31.4,628.7h0M38.5,631.3h0M48.6,631.0h0M58.2,630.2h0M66.6,630.2h0M73.9,630.7h0M41.9,632.6h0M50.3,633.5h0M52.0,632.6h0M60.8,633.7h0M72.3,632.6h0M76.4,633.6h0M99.0,632.2h0M22.9,634.4h0M30.0,635.7h0M32.4,634.9h0M40.9,635.9h0M50.5,634.5h0M63.5,634.9h0M71.2,635.2h0M32.1,637.3h0M39.6,636.8h0M67.8,636.6h0M84.1,637.8h0M99.1,637.2h0M32.8,639.5h0M35.8,640.0h0M40.6,639.0h0M55.4,639.5h0M72.3,639.7h0M33.6,642.1h0M55.3,642.1h0M60.1,641.2h0M67.2,641.7h0M73.6,642.7h0M93.9,641.8h0M19.8,643.4h0M51.0,643.6h0M68.4,646.7h0M78.4,645.9h0M89.1,646.6h0M19.8,648.1h0M45.4,648.9h0M82.1,649.4h0M19.1,650.8h0M28.6,651.5h0M63.3,651.4h0M70.0,651.4h0M91.5,651.2h0M25.1,654.0h0M50.2,653.9h0M56.8,653.7h0M76.2,654.0h0M84.0,653.5h0M87.4,653.3h0M90.7,653.3h0M97.7,653.6h0M99.8,653.4h0M20.2,655.9h0M29.2,655.2h0M41.2,655.2h0M47.6,655.1h0M50.1,655.3h0M60.0,655.6h0M76.2,655.0h0M78.7,655.6h0M97.2,655.9h0M102.1,655.2h0M58.2,658.5h0M77.1,658.4h0M85.4,657.1h0M87.1,658.1h0M92.6,658.1h0M34.0,660.8h0M51.5,659.9h0M71.1,659.9h0M29.4,663.0h0M56.7,662.8h0M63.1,661.9h0M79.3,661.6h0M87.4,661.5h0M92.6,661.6h0M95.0,661.6h0M21.7,664.5h0M41.1,663.8h0M59.2,664.4h0M77.7,664.7h0M81.4,664.7h0M91.4,665.1h0M19.5,667.6h0M99.9,666.6h0M28.1,669.5h0M62.7,669.6h0M88.8,669.3h0M90.9,669.0h0M20.4,671.6h0M74.9,670.6h0M90.4,671.8h0M101.0,672.1h0M20.5,673.3h0M28.1,673.1h0M39.7,672.9h0M71.1,674.2h0M75.9,673.3h0M16.8,676.1h0M30.1,676.0h0M76.7,676.2h0M96.9,675.6h0M68.0,677.7h0M94.3,678.1h0M16.4,680.3h0M19.3,679.8h0M27.8,681.0h0M66.5,680.5h0M69.6,679.8h0M89.8,679.8h0M18.7,682.7h0M29.3,682.3h0M31.8,682.0h0M52.8,683.4h0M72.5,682.7h0M96.2,682.1h0M76.5,685.2h0M41.5,686.5h0M51.6,686.5h0M74.8,686.9h0M52.8,689.2h0M56.8,689.4h0M94.3,689.8h0M97.9,690.2h0M41.1,692.4h0M52.2,692.2h0M78.1,691.8h0M93.9,691.6h0M17.2,694.0h0M25.6,694.0h0M34.5,696.0h0M42.4,696.0h0M63.0,696.1h0M65.6,697.0h0M80.2,696.8h0M88.4,695.8h0M96.3,695.7h0M58.9,697.9h0M91.7,699.2h0M94.7,698.9h0" stroke="#f6f0f2" stroke-width="2.4"/>
<path d="M17.8,614.2h0M26.1,614.7h0M39.9,615.3h0M51.8,614.1h0M57.9,615.5h0M65.5,614.1h0M30.7,616.9h0M33.0,617.0h0M50.5,617.5h0M56.7,616.7h0M84.5,617.5h0M89.6,616.4h0M92.0,616.9h0M95.8,617.3h0M91.2,619.1h0M96.1,619.9h0M99.4,618.7h0M50.7,622.2h0M55.8,621.1h0M89.3,621.9h0M91.9,622.2h0M95.1,621.3h0M21.8,623.1h0M28.9,624.1h0M37.4,624.6h0M57.3,624.6h0M98.6,623.9h0M26.8,625.7h0M32.5,625.9h0M48.1,625.8h0M74.8,626.2h0M33.8,627.9h0M39.6,628.3h0M44.7,628.5h0M78.2,629.2h0M83.1,629.0h0M87.9,628.0h0M94.3,627.6h0M50.2,630.9h0M80.1,630.7h0M88.0,630.0h0M89.6,631.1h0M22.8,632.4h0M26.7,633.6h0M31.7,632.7h0M34.7,632.1h0M37.4,633.5h0M67.4,632.4h0M78.9,632.3h0M36.0,635.8h0M45.2,634.6h0M91.7,635.4h0M21.3,637.7h0M28.2,637.7h0M42.1,638.1h0M88.5,638.1h0M23.1,639.5h0M53.0,639.2h0M59.3,640.4h0M60.7,639.8h0M63.4,640.2h0M84.3,639.0h0M17.6,642.6h0M25.7,641.5h0M32.0,641.3h0M57.3,642.1h0M102.3,641.4h0M27.5,644.7h0M30.7,644.8h0M41.1,643.7h0M49.0,644.8h0M73.9,643.8h0M98.2,644.5h0M33.6,646.0h0M38.5,647.0h0M52.9,646.8h0M59.7,646.4h0M65.9,648.5h0M69.8,649.1h0M72.2,648.2h0M77.2,648.9h0M85.3,648.2h0M87.3,648.7h0M97.0,649.5h0M23.7,651.6h0M38.7,651.5h0M65.0,650.5h0M83.1,650.7h0M93.4,650.8h0M96.6,651.4h0M32.7,653.0h0M40.6,652.5h0M43.4,653.0h0M58.1,653.9h0M71.9,652.6h0M74.1,653.8h0M81.8,653.9h0M93.2,652.7h0M18.8,655.6h0M22.9,655.0h0M34.4,655.2h0M83.6,656.2h0M86.2,655.6h0M22.8,657.1h0M35.2,657.5h0M61.8,658.0h0M23.6,660.4h0M46.8,659.9h0M54.7,659.7h0M60.1,660.7h0M81.0,660.3h0M91.7,660.3h0M99.4,660.2h0M32.7,661.7h0M43.6,661.7h0M71.3,663.0h0M89.6,661.6h0M25.5,664.7h0M47.4,664.8h0M54.7,664.6h0M65.9,664.1h0M35.7,666.4h0M40.0,666.7h0M48.8,666.9h0M53.9,666.6h0M74.1,667.6h0M21.3,668.9h0M24.4,668.9h0M30.7,668.8h0M34.3,669.4h0M36.6,669.5h0M60.6,669.2h0M67.0,669.6h0M96.3,669.1h0M25.4,670.7h0M27.6,671.2h0M38.4,671.7h0M50.2,670.7h0M56.9,670.9h0M82.6,671.2h0M87.0,671.4h0M92.1,671.1h0M15.0,674.0h0M36.5,674.4h0M46.4,672.8h0M19.6,676.2h0M22.7,675.1h0M53.8,676.0h0M64.7,676.1h0M71.3,675.7h0M93.1,675.4h0M26.9,677.6h0M46.4,678.1h0M81.1,678.3h0M22.5,680.1h0M32.5,680.9h0M58.2,680.1h0M64.0,679.8h0M101.1,680.1h0M23.7,683.4h0M47.6,682.3h0M54.9,683.0h0M59.9,683.3h0M62.8,682.4h0M69.8,682.1h0M19.2,684.5h0M48.4,684.8h0M66.9,684.4h0M80.3,684.6h0M87.3,685.1h0M31.5,686.7h0M55.1,686.7h0M91.5,686.9h0M17.1,689.2h0M22.6,689.9h0M25.4,689.0h0M35.5,689.4h0M38.1,690.0h0M40.9,690.2h0M47.9,689.8h0M76.7,689.4h0M80.0,688.9h0M91.9,688.9h0M21.8,691.6h0M24.4,691.2h0M68.6,691.0h0M80.2,690.9h0M41.2,693.9h0M56.6,693.8h0M65.7,694.3h0M68.4,693.3h0M78.7,693.5h0M81.7,693.2h0M84.4,694.0h0M20.5,695.7h0M44.5,695.7h0M47.4,696.6h0M67.1,696.0h0M83.3,696.0h0M98.5,696.4h0M101.0,695.9h0M21.8,699.0h0M34.7,697.9h0M37.4,699.2h0M45.6,698.0h0M66.6,698.2h0M71.8,699.1h0M81.7,699.1h0" stroke="#d6b6a8" stroke-width="2.3"/>
<path d="M23.9,614.2h0M69.8,614.6h0M86.6,614.8h0M96.7,615.6h0M35.2,616.5h0M54.0,616.3h0M66.3,617.5h0M81.8,617.7h0M82.8,619.8h0M93.8,618.6h0M101.8,619.9h0M18.2,623.7h0M52.4,623.2h0M76.0,623.7h0M64.5,625.4h0M84.5,626.4h0M97.3,625.4h0M41.9,628.9h0M49.6,629.0h0M70.6,628.9h0M95.8,628.7h0M99.9,630.5h0M63.0,632.7h0M64.8,633.4h0M94.3,632.3h0M23.9,637.4h0M33.4,636.8h0M73.3,637.3h0M80.8,636.7h0M86.2,636.9h0M96.9,636.8h0M51.0,639.9h0M89.8,639.8h0M92.9,640.1h0M16.5,642.6h0M42.2,642.2h0M62.1,641.3h0M82.3,644.0h0M101.2,646.9h0M56.2,649.4h0M90.5,648.1h0M20.8,650.7h0M46.9,651.3h0M56.9,651.4h0M67.2,651.5h0M77.6,651.8h0M17.8,653.6h0M79.9,652.6h0M72.6,654.9h0M88.5,655.7h0M43.0,657.8h0M65.6,660.6h0M77.9,660.5h0M83.4,660.7h0M96.5,659.8h0M99.2,664.3h0M61.3,667.4h0M72.1,666.2h0M17.6,669.8h0M55.4,668.7h0M58.1,669.4h0M75.4,668.7h0M77.7,669.4h0M95.1,671.9h0M18.2,674.0h0M23.7,673.1h0M33.6,673.6h0M42.0,673.4h0M73.6,673.2h0M89.0,674.0h0M91.7,674.0h0M33.2,675.6h0M34.6,676.2h0M40.4,676.3h0M94.6,675.3h0M78.0,678.9h0M24.2,680.7h0M47.6,680.8h0M87.2,680.1h0M36.2,681.9h0M57.7,682.1h0M94.6,682.1h0M32.6,684.5h0M53.2,684.7h0M69.9,684.2h0M94.3,685.6h0M18.4,687.5h0M36.4,687.6h0M46.5,687.4h0M63.3,687.0h0M66.7,688.8h0M18.4,692.3h0M29.0,691.8h0M44.4,691.0h0M54.5,691.0h0M69.9,691.1h0M99.5,691.9h0M29.4,693.8h0M97.1,694.2h0M72.6,696.2h0M85.7,696.0h0M77.1,698.5h0M98.4,698.9h0" stroke="#b08468" stroke-width="2.0"/>
<path d="M98.6,615.2h0M19.3,621.7h0M31.3,623.9h0M33.2,623.4h0M25.1,630.1h0M69.3,631.2h0M60.8,635.2h0M24.3,643.9h0M33.2,644.9h0M21.6,647.0h0M90.8,646.7h0M37.1,648.7h0M99.8,648.2h0M19.8,652.6h0M62.1,655.6h0M68.2,655.7h0M81.4,657.7h0M16.3,660.8h0M18.3,660.5h0M52.2,669.7h0M73.5,669.0h0M80.3,669.6h0M71.3,671.4h0M23.3,678.1h0M85.8,678.6h0M97.1,678.9h0M73.5,687.6h0M19.0,693.4h0" stroke="#7a4020" stroke-width="1.9"/>
</g></g>
<circle cx="38.0" cy="638.0" r="1.2" fill="#5a260c"/>
<circle cx="51.0" cy="648.0" r="1.4" fill="#5a260c"/>
<circle cx="17.0" cy="641.0" r="1.1" fill="#5a260c"/>
<circle cx="62.0" cy="668.0" r="1.3" fill="#5a260c"/>
<circle cx="44.0" cy="674.0" r="1.1" fill="#5a260c"/>
<circle cx="49.0" cy="682.0" r="1.5" fill="#5a260c"/>
<circle cx="97.0" cy="633.0" r="1.1" fill="#5a260c"/>
<circle cx="40.0" cy="694.0" r="1.0" fill="#5a260c"/>
<circle cx="78.0" cy="643.0" r="1.1" fill="#5a260c"/>
<circle cx="84.0" cy="617.0" r="0.9" fill="#5a260c"/>
<circle cx="70.0" cy="652.0" r="0.8" fill="#5a260c"/>
<line x1="17.0" y1="617.3" x2="35.0" y2="617.3" stroke="#e0506a" stroke-width="0.5"/>
<path d="M248,537.1 H504.4 L512.6,544.5 V697.5 L505.5,704.2 H248.8 L242.2,698 V543.7 Z" fill="none" stroke="#222" stroke-width="1.05" stroke-dasharray="2.2,2.0"/>
<text x="253.7" y="550.3" font-size="8.6" font-weight="bold" text-anchor="start" fill="#111" textLength="144.0" lengthAdjust="spacingAndGlyphs">Progression 25 months: HGBL-TH</text>
<text x="248.8" y="566.5" font-size="11" font-weight="bold" text-anchor="start" fill="#111" textLength="9.4" lengthAdjust="spacingAndGlyphs">M</text>
<text x="277.7" y="566.0" font-size="7.2" font-weight="normal" text-anchor="start" fill="#333" textLength="28.5" lengthAdjust="spacingAndGlyphs">CT-scan</text>
<text x="331.0" y="566.5" font-size="11" font-weight="bold" text-anchor="start" fill="#111" textLength="8.0" lengthAdjust="spacingAndGlyphs">N</text>
<text x="344.0" y="566.0" font-size="7.2" font-weight="normal" text-anchor="start" fill="#333" textLength="48.5" lengthAdjust="spacingAndGlyphs">Tissue biopsy</text>
<text x="434.2" y="566.5" font-size="11" font-weight="bold" text-anchor="start" fill="#111" textLength="9.0" lengthAdjust="spacingAndGlyphs">O</text>
<rect x="262.5" y="569.5" width="60.3" height="125.8" fill="#040404"/>
<g clip-path="url(#ctc)">
<g filter="url(#b08)">
<path d="M288.0,567.9 C285.9,569.8 289.7,577.0 287.6,579.3 C285.6,581.6 279.0,580.3 275.6,581.7 C272.2,583.0 269.1,585.1 267.2,587.6 C265.3,590.0 264.6,589.2 264.0,596.4 C263.5,603.6 263.7,619.5 263.6,630.8 C263.6,642.1 263.8,656.0 263.6,664.2 C263.5,672.4 262.7,674.4 262.5,679.9 C262.3,685.5 252.4,694.7 262.5,697.6 C272.5,700.6 312.8,700.6 322.8,697.6 C332.9,694.7 323.0,685.5 322.8,679.9 C322.6,674.4 322.0,672.4 321.8,664.2 C321.7,656.0 322.0,642.1 322.0,630.8 C322.0,619.5 322.4,603.7 321.8,596.4 C321.3,589.1 320.6,589.6 318.9,587.2 C317.2,584.7 314.6,583.0 311.6,581.7 C308.6,580.3 302.8,581.6 301.0,579.3 C299.2,577.0 302.8,569.8 300.6,567.9 C298.4,566.0 290.2,566.0 288.0,567.9Z" fill="#3c3c3c" stroke="none" stroke-width="1"/>
<path d="M284.5,591.9 C282.8,592.5 280.0,594.9 278.2,597.0 C276.4,599.1 275.0,601.6 273.9,604.3 C272.7,606.9 271.8,610.3 271.1,613.1 C270.4,615.9 269.9,618.7 269.5,621.0 C269.2,623.3 268.6,626.9 269.2,626.9 C269.7,626.9 270.8,622.5 272.7,621.0 C274.6,619.5 277.9,618.2 280.6,617.8 C283.2,617.5 287.2,620.1 288.8,619.0 C290.4,617.9 290.4,614.1 290.4,611.1 C290.4,608.2 289.1,604.3 288.8,601.3 C288.5,598.4 289.1,595.0 288.4,593.4 C287.7,591.9 286.2,591.3 284.5,591.9Z" fill="#050505" stroke="none" stroke-width="1"/>
<path d="M305.1,591.9 C306.5,592.1 309.0,594.6 310.4,596.6 C311.9,598.6 313.0,601.1 314.0,603.7 C315.0,606.3 315.7,609.2 316.3,612.1 C317.0,615.0 317.6,618.2 317.9,621.0 C318.2,623.7 318.9,627.8 318.3,628.4 C317.6,629.0 315.2,625.8 314.0,624.5 C312.7,623.3 311.0,623.2 310.6,621.0 C310.3,618.7 312.7,614.3 312.0,611.1 C311.3,608.0 308.1,604.9 306.5,602.3 C304.9,599.7 302.4,597.2 302.2,595.4 C301.9,593.7 303.7,591.7 305.1,591.9Z" fill="#050505" stroke="none" stroke-width="1"/>
<path d="M288.8,593.4 C290.8,590.5 299.2,592.0 302.2,593.4 C305.1,594.9 304.9,599.3 306.5,602.3 C308.1,605.2 311.3,608.0 312.0,611.1 C312.7,614.3 314.5,619.7 310.6,621.0 C306.8,622.3 292.2,620.6 288.8,619.0 C285.4,617.4 290.4,615.4 290.4,611.1 C290.4,606.9 286.8,596.4 288.8,593.4Z" fill="#2a2a2a" stroke="none" stroke-width="1"/>
<path d="M288.8,619.4 C292.3,615.5 305.7,619.5 310.6,621.0 C315.5,622.5 316.9,624.2 318.3,628.4 C319.7,632.7 319.1,639.2 319.1,646.5 C319.1,653.8 319.1,666.2 318.3,672.1 C317.4,678.0 317.6,680.6 314.0,681.9 C310.3,683.2 300.0,682.9 296.3,679.9 C292.5,677.0 292.5,670.1 291.4,664.2 C290.2,658.3 289.8,652.0 289.4,644.6 C289.0,637.1 285.3,623.3 288.8,619.4Z" fill="#1c1c1c" stroke="none" stroke-width="1"/>
<path d="M270.3,624.5 C271.0,622.4 272.0,621.3 273.7,620.2 C275.4,619.1 278.1,618.2 280.6,618.0 C283.0,617.9 287.0,617.9 288.4,619.4 C289.8,620.9 289.0,624.3 288.8,626.9 C288.6,629.4 288.5,632.5 287.4,634.7 C286.4,637.0 284.5,638.9 282.5,640.2 C280.6,641.6 277.5,642.9 275.6,643.0 C273.7,643.0 272.1,642.3 271.1,640.6 C270.1,638.9 269.7,635.4 269.5,632.8 C269.4,630.1 269.6,626.6 270.3,624.5Z" fill="#8c8c8c" stroke="none" stroke-width="1"/>
<path d="M273.1,648.5 C274.6,646.7 278.0,645.5 280.6,645.5 C283.1,645.5 286.3,646.0 288.4,648.5 C290.5,650.9 292.2,655.0 293.3,660.3 C294.5,665.5 296.8,675.0 295.3,679.9 C293.8,684.9 287.9,688.5 284.5,689.8 C281.0,691.1 276.8,690.7 274.7,687.8 C272.5,684.9 272.2,677.3 271.7,672.1 C271.2,666.8 271.3,660.3 271.5,656.3 C271.7,652.4 271.6,650.3 273.1,648.5Z" fill="#6a6a6a" stroke="none" stroke-width="1"/>
<path d="M266.8,644.6 C268.1,642.1 271.8,642.3 272.7,645.5 C273.5,648.8 272.6,658.5 271.9,664.2 C271.2,669.9 269.9,677.3 268.8,679.9 C267.6,682.6 265.9,683.2 265.2,679.9 C264.6,676.7 264.6,666.2 264.8,660.3 C265.1,654.4 265.5,647.0 266.8,644.6Z" fill="#585858" stroke="none" stroke-width="1"/>
<path d="M290.0,599.3 C290.6,597.9 291.2,596.3 292.3,595.8 C293.5,595.3 295.7,595.7 296.7,596.6 C297.7,597.5 297.0,600.3 298.2,601.3 C299.5,602.3 302.0,601.4 304.1,602.5 C306.3,603.5 309.6,605.8 311.0,607.6 C312.4,609.4 312.9,611.7 312.4,613.5 C311.9,615.3 310.3,617.6 308.1,618.6 C305.9,619.6 301.7,619.7 299.2,619.4 C296.8,619.1 294.8,618.4 293.3,617.0 C291.9,615.7 291.1,613.3 290.4,611.1 C289.6,609.0 288.9,606.2 288.8,604.3 C288.7,602.3 289.4,600.8 290.0,599.3Z" fill="#d6d6d6" stroke="none" stroke-width="1"/>
<path d="M295.3,600.5 C296.0,599.9 298.1,599.5 299.2,599.7 C300.4,600.0 301.8,601.2 302.2,602.1 C302.5,603.0 302.2,604.7 301.4,605.2 C300.5,605.8 298.1,606.0 297.1,605.6 C296.0,605.3 295.2,604.1 294.9,603.3 C294.6,602.4 294.6,601.1 295.3,600.5Z" fill="#f4f4f4" stroke="none" stroke-width="1"/>
<path d="M292.9,567.9 C293.4,565.8 295.8,565.8 296.3,567.9 C296.8,570.0 296.6,578.5 296.1,580.7 C295.6,582.8 293.9,582.8 293.3,580.7 C292.8,578.5 292.4,570.0 292.9,567.9Z" fill="#0c0c0c" stroke="none" stroke-width="1"/>
<path d="M266.8,681.9 C270.2,680.6 279.6,688.8 284.5,689.8 C289.4,690.7 291.4,688.9 296.3,687.8 C301.2,686.7 309.9,683.2 314.0,682.9 C318.1,682.6 319.5,683.4 320.8,685.8 C322.2,688.3 331.3,695.7 321.8,697.6 C312.3,699.6 273.0,700.2 263.8,697.6 C254.7,695.0 263.4,683.2 266.8,681.9Z" fill="#4e4e4e" stroke="none" stroke-width="1"/>
</g>
<g filter="url(#blur1)">
<ellipse cx="288.0" cy="587.9" rx="2.8" ry="1.6" fill="#ececec"/>
<ellipse cx="299.0" cy="587.0" rx="2.9" ry="1.8" fill="#ececec"/>
<ellipse cx="293.5" cy="590.7" rx="2.8" ry="1.2" fill="#d2d2d2"/>
<ellipse cx="288.0" cy="587.9" rx="1.0" ry="0.6" fill="#202020"/>
<ellipse cx="299.0" cy="587.0" rx="1.0" ry="0.6" fill="#202020"/>
<ellipse cx="294.3" cy="573.8" rx="1.2" ry="4.3" fill="#8a8a8a"/>
<ellipse cx="291.6" cy="631.2" rx="3.1" ry="1.4" fill="#a0a0a0"/>
<ellipse cx="297.3" cy="628.8" rx="2.0" ry="1.2" fill="#8a8a8a"/>
<ellipse cx="290.4" cy="637.7" rx="1.0" ry="2.8" fill="#7a7a7a"/>
<rect x="-1.3" y="-0.6" width="2.6" height="1.2" rx="0.4" fill="#ededed" transform="translate(284.5,591.5) rotate(141)"/>
<rect x="-1.3" y="-0.6" width="2.6" height="1.2" rx="0.4" fill="#ededed" transform="translate(280.2,595.0) rotate(124)"/>
<rect x="-1.3" y="-0.6" width="2.6" height="1.2" rx="0.4" fill="#ededed" transform="translate(276.2,600.9) rotate(114)"/>
<rect x="-1.3" y="-0.6" width="2.6" height="1.2" rx="0.4" fill="#ededed" transform="translate(273.3,607.6) rotate(107)"/>
<rect x="-1.3" y="-0.6" width="2.6" height="1.2" rx="0.4" fill="#ededed" transform="translate(271.1,614.7) rotate(103)"/>
<rect x="-1.3" y="-0.6" width="2.6" height="1.2" rx="0.4" fill="#ededed" transform="translate(269.5,621.8) rotate(98)"/>
<rect x="-1.3" y="-0.6" width="2.6" height="1.2" rx="0.4" fill="#ededed" transform="translate(268.6,628.8) rotate(98)"/>
<rect x="-1.3" y="-0.6" width="2.6" height="1.2" rx="0.4" fill="#ededed" transform="translate(305.1,591.5) rotate(40)"/>
<rect x="-1.3" y="-0.6" width="2.6" height="1.2" rx="0.4" fill="#ededed" transform="translate(309.8,595.4) rotate(57)"/>
<rect x="-1.3" y="-0.6" width="2.6" height="1.2" rx="0.4" fill="#ededed" transform="translate(313.4,600.9) rotate(71)"/>
<rect x="-1.3" y="-0.6" width="2.6" height="1.2" rx="0.4" fill="#ededed" transform="translate(315.7,607.6) rotate(77)"/>
<rect x="-1.3" y="-0.6" width="2.6" height="1.2" rx="0.4" fill="#ededed" transform="translate(317.3,614.7) rotate(81)"/>
<rect x="-1.3" y="-0.6" width="2.6" height="1.2" rx="0.4" fill="#ededed" transform="translate(318.5,621.8) rotate(85)"/>
<rect x="-1.3" y="-0.6" width="2.6" height="1.2" rx="0.4" fill="#ededed" transform="translate(319.1,628.8) rotate(88)"/>
<rect x="-1.3" y="-0.6" width="2.6" height="1.2" rx="0.4" fill="#ededed" transform="translate(319.3,636.3) rotate(88)"/>
<ellipse cx="297.5" cy="627.9" rx="1.5" ry="0.8" fill="#6c6c6c"/>
<ellipse cx="291.9" cy="653.8" rx="1.9" ry="1.5" fill="#404040"/>
<ellipse cx="297.2" cy="653.1" rx="1.9" ry="1.6" fill="#404040"/>
<ellipse cx="298.2" cy="676.6" rx="2.0" ry="1.6" fill="#4e4e4e"/>
<ellipse cx="312.3" cy="633.2" rx="1.2" ry="1.7" fill="#404040"/>
<ellipse cx="316.5" cy="671.2" rx="0.9" ry="1.4" fill="#404040"/>
<ellipse cx="308.9" cy="651.3" rx="1.1" ry="1.0" fill="#5e5e5e"/>
<ellipse cx="316.1" cy="669.4" rx="2.0" ry="0.7" fill="#343434"/>
<ellipse cx="299.0" cy="662.8" rx="2.0" ry="1.3" fill="#404040"/>
<ellipse cx="302.2" cy="656.7" rx="1.4" ry="1.0" fill="#6c6c6c"/>
<ellipse cx="298.2" cy="668.2" rx="0.9" ry="1.4" fill="#4e4e4e"/>
<ellipse cx="298.7" cy="653.0" rx="1.8" ry="0.9" fill="#6c6c6c"/>
<ellipse cx="309.0" cy="625.8" rx="1.7" ry="1.2" fill="#5e5e5e"/>
<ellipse cx="296.2" cy="647.2" rx="1.2" ry="1.3" fill="#343434"/>
<ellipse cx="315.0" cy="627.8" rx="1.8" ry="1.0" fill="#4e4e4e"/>
<ellipse cx="306.6" cy="671.9" rx="1.3" ry="0.9" fill="#4e4e4e"/>
<ellipse cx="303.4" cy="624.4" rx="0.9" ry="1.8" fill="#585858"/>
<ellipse cx="298.8" cy="661.1" rx="0.8" ry="1.0" fill="#404040"/>
<ellipse cx="316.6" cy="666.9" rx="2.0" ry="1.7" fill="#6c6c6c"/>
<ellipse cx="309.1" cy="626.5" rx="1.1" ry="1.2" fill="#343434"/>
<ellipse cx="294.9" cy="644.1" rx="1.3" ry="0.7" fill="#5e5e5e"/>
<ellipse cx="292.5" cy="631.8" rx="2.2" ry="1.3" fill="#404040"/>
<ellipse cx="302.8" cy="634.0" rx="1.0" ry="0.8" fill="#5e5e5e"/>
<ellipse cx="310.6" cy="656.5" rx="1.6" ry="1.3" fill="#5e5e5e"/>
<ellipse cx="306.6" cy="640.6" rx="1.0" ry="1.3" fill="#4e4e4e"/>
<ellipse cx="311.6" cy="645.7" rx="1.5" ry="1.0" fill="#5e5e5e"/>
<ellipse cx="302.1" cy="624.1" rx="1.4" ry="1.4" fill="#6c6c6c"/>
<ellipse cx="302.5" cy="634.5" rx="0.8" ry="1.0" fill="#5e5e5e"/>
<ellipse cx="297.7" cy="634.0" rx="1.4" ry="1.0" fill="#5e5e5e"/>
<ellipse cx="299.9" cy="673.6" rx="1.6" ry="1.8" fill="#404040"/>
<ellipse cx="301.9" cy="674.2" rx="2.0" ry="1.5" fill="#585858"/>
<ellipse cx="292.4" cy="644.4" rx="1.1" ry="1.7" fill="#6c6c6c"/>
<ellipse cx="314.9" cy="675.6" rx="1.2" ry="1.2" fill="#404040"/>
<ellipse cx="314.9" cy="640.2" rx="1.5" ry="1.4" fill="#6c6c6c"/>
<ellipse cx="309.3" cy="637.5" rx="2.1" ry="0.8" fill="#6c6c6c"/>
<ellipse cx="316.8" cy="677.7" rx="1.1" ry="1.1" fill="#585858"/>
<ellipse cx="307.6" cy="666.4" rx="1.7" ry="0.8" fill="#404040"/>
<ellipse cx="295.7" cy="658.8" rx="1.5" ry="1.1" fill="#343434"/>
<ellipse cx="301.6" cy="668.2" rx="2.1" ry="0.7" fill="#5e5e5e"/>
<ellipse cx="314.3" cy="628.7" rx="2.0" ry="1.3" fill="#6c6c6c"/>
<ellipse cx="314.3" cy="633.6" rx="1.7" ry="1.6" fill="#585858"/>
<ellipse cx="306.1" cy="667.4" rx="1.4" ry="0.8" fill="#343434"/>
<ellipse cx="309.5" cy="628.5" rx="2.0" ry="1.4" fill="#343434"/>
<ellipse cx="295.0" cy="643.0" rx="2.1" ry="1.0" fill="#343434"/>
<ellipse cx="300.4" cy="626.3" rx="1.4" ry="0.9" fill="#343434"/>
<ellipse cx="316.9" cy="644.5" rx="2.0" ry="1.1" fill="#6c6c6c"/>
<ellipse cx="293.4" cy="675.1" rx="1.5" ry="1.2" fill="#404040"/>
<ellipse cx="313.8" cy="667.0" rx="1.7" ry="1.7" fill="#4e4e4e"/>
<ellipse cx="308.0" cy="675.9" rx="1.4" ry="1.6" fill="#6c6c6c"/>
<ellipse cx="295.7" cy="672.6" rx="1.8" ry="1.1" fill="#5e5e5e"/>
<ellipse cx="313.8" cy="636.9" rx="1.8" ry="0.7" fill="#4e4e4e"/>
<ellipse cx="299.5" cy="653.5" rx="1.9" ry="1.4" fill="#6c6c6c"/>
<ellipse cx="305.1" cy="652.1" rx="2.0" ry="1.1" fill="#6c6c6c"/>
<ellipse cx="311.4" cy="679.1" rx="0.8" ry="0.8" fill="#585858"/>
<ellipse cx="315.1" cy="653.5" rx="1.9" ry="1.3" fill="#6c6c6c"/>
<ellipse cx="315.9" cy="651.3" rx="1.7" ry="1.2" fill="#6c6c6c"/>
<ellipse cx="295.0" cy="666.7" rx="2.2" ry="1.1" fill="#404040"/>
<ellipse cx="302.7" cy="657.1" rx="1.9" ry="0.9" fill="#585858"/>
<ellipse cx="314.9" cy="643.5" rx="1.9" ry="1.4" fill="#343434"/>
<ellipse cx="314.5" cy="626.4" rx="2.1" ry="0.9" fill="#585858"/>
<ellipse cx="308.5" cy="640.9" rx="2.0" ry="1.4" fill="#404040"/>
<ellipse cx="305.1" cy="665.7" rx="1.9" ry="1.6" fill="#4e4e4e"/>
<ellipse cx="316.3" cy="631.1" rx="2.2" ry="1.4" fill="#343434"/>
<ellipse cx="317.3" cy="626.4" rx="1.0" ry="1.2" fill="#4e4e4e"/>
<ellipse cx="314.5" cy="634.8" rx="1.2" ry="1.7" fill="#585858"/>
<ellipse cx="302.0" cy="656.7" rx="1.8" ry="1.0" fill="#6c6c6c"/>
<ellipse cx="297.4" cy="640.9" rx="1.5" ry="1.2" fill="#585858"/>
<ellipse cx="312.4" cy="651.3" rx="1.2" ry="1.2" fill="#404040"/>
<ellipse cx="291.7" cy="632.6" rx="1.4" ry="1.3" fill="#343434"/>
<ellipse cx="313.0" cy="645.4" rx="1.7" ry="0.9" fill="#6c6c6c"/>
<ellipse cx="293.1" cy="678.4" rx="2.1" ry="1.4" fill="#585858"/>
<ellipse cx="299.5" cy="627.2" rx="1.5" ry="1.4" fill="#404040"/>
<ellipse cx="303.8" cy="657.0" rx="1.0" ry="1.0" fill="#4e4e4e"/>
<ellipse cx="299.2" cy="676.9" rx="1.4" ry="1.3" fill="#5e5e5e"/>
<ellipse cx="307.6" cy="663.3" rx="1.2" ry="1.3" fill="#343434"/>
<ellipse cx="295.5" cy="627.6" rx="2.1" ry="0.8" fill="#4e4e4e"/>
<ellipse cx="298.4" cy="672.9" rx="1.2" ry="1.7" fill="#585858"/>
<ellipse cx="309.7" cy="664.4" rx="1.4" ry="0.8" fill="#585858"/>
<ellipse cx="309.9" cy="626.7" rx="1.8" ry="1.5" fill="#404040"/>
<ellipse cx="305.8" cy="651.1" rx="1.1" ry="1.0" fill="#5e5e5e"/>
<ellipse cx="304.6" cy="643.8" rx="2.0" ry="1.0" fill="#5e5e5e"/>
<ellipse cx="301.6" cy="661.5" rx="1.3" ry="1.1" fill="#6c6c6c"/>
<ellipse cx="302.4" cy="623.6" rx="0.8" ry="1.8" fill="#585858"/>
<ellipse cx="295.4" cy="631.0" rx="2.0" ry="1.0" fill="#343434"/>
<ellipse cx="305.8" cy="649.6" rx="1.5" ry="1.7" fill="#585858"/>
<ellipse cx="303.2" cy="664.4" rx="2.1" ry="1.1" fill="#585858"/>
<ellipse cx="313.5" cy="670.3" rx="1.1" ry="1.2" fill="#343434"/>
<ellipse cx="315.0" cy="642.6" rx="2.0" ry="1.2" fill="#585858"/>
<ellipse cx="310.7" cy="669.5" rx="1.2" ry="1.6" fill="#5e5e5e"/>
<ellipse cx="308.7" cy="639.8" rx="1.7" ry="1.1" fill="#6c6c6c"/>
<circle cx="284.2" cy="637.7" r="0.45" fill="#c4c4c4"/>
<circle cx="285.0" cy="637.6" r="0.45" fill="#c4c4c4"/>
<circle cx="281.7" cy="634.3" r="0.45" fill="#c4c4c4"/>
<circle cx="281.0" cy="631.3" r="0.45" fill="#c4c4c4"/>
<circle cx="286.3" cy="628.2" r="0.45" fill="#c4c4c4"/>
<circle cx="273.8" cy="634.6" r="0.45" fill="#c4c4c4"/>
<circle cx="279.5" cy="631.6" r="0.45" fill="#c4c4c4"/>
<circle cx="280.9" cy="626.4" r="0.45" fill="#c4c4c4"/>
<circle cx="275.5" cy="623.2" r="0.45" fill="#c4c4c4"/>
<circle cx="283.4" cy="638.0" r="0.45" fill="#c4c4c4"/>
<rect x="287.4" y="682.1" width="10.2" height="2.4" fill="#f6f6f6" rx="1"/>
<rect x="270.7" y="663.2" width="2.2" height="5.9" fill="#f4f4f4" rx="0.8"/>
<path d="M284.5,676.0 L286.4,687.8 M305.1,678.0 L306.5,689.8 M290.4,646.5 L291.6,654.4" fill="none" stroke="#b0b0b0" stroke-width="0.8"/>
<rect x="313.6" y="668.1" width="1.2" height="2.8" fill="#b8b8b8"/>
</g></g>
<circle cx="279.0" cy="671.5" r="3.3" fill="none" stroke="#f09a25" stroke-width="0.7"/>
<line x1="282.0" y1="669.6" x2="339.4" y2="633.2" stroke="#f09a25" stroke-width="0.8" stroke-dasharray="0.9,0.9"/>
<rect x="339.5" y="570.3" width="165.2" height="124.6" fill="#fff" stroke="#f7a535" stroke-width="1.1"/>
<text x="387.0" y="579.2" font-size="7.3" font-weight="bold" text-anchor="middle" fill="#111" textLength="55.8" lengthAdjust="spacingAndGlyphs">IHC: MYC+ 95%</text>
<text x="471.0" y="579.2" font-size="7.3" font-weight="bold" text-anchor="middle" fill="#111" textLength="35.0" lengthAdjust="spacingAndGlyphs">MYC FISH</text>
<rect x="344.1" y="582.3" width="86.1" height="110.7" fill="#f1e0cf"/>
<g clip-path="url(#nc)">
<path d="M344.1,582.7h0M359.0,582.2h0M382.7,584.6h0M399.0,584.4h0M411.6,584.9h0M398.1,586.8h0M406.5,587.8h0M373.7,590.4h0M405.5,590.3h0M431.6,589.4h0M361.4,591.9h0M369.1,591.7h0M351.5,594.8h0M353.8,594.7h0M402.3,595.0h0M422.8,594.2h0M367.3,596.9h0M359.8,599.0h0M371.0,599.2h0M387.8,599.7h0M396.9,600.3h0M353.3,601.9h0M355.6,602.3h0M367.3,602.4h0M400.5,602.1h0M393.3,605.1h0M405.9,604.0h0M410.8,604.8h0M420.2,604.6h0M428.1,605.2h0M347.5,606.8h0M372.4,607.5h0M386.3,606.7h0M385.2,610.1h0M388.9,609.9h0M399.5,610.1h0M422.4,610.0h0M426.4,611.9h0M365.1,614.0h0M431.6,614.1h0M363.5,617.1h0M401.0,617.0h0M345.5,620.0h0M379.9,619.4h0M372.8,621.4h0M375.2,622.2h0M389.0,621.6h0M394.9,622.2h0M427.3,621.3h0M356.8,623.8h0M360.1,623.8h0M352.4,626.5h0M384.3,626.6h0M418.8,627.2h0M377.0,628.9h0M388.3,628.9h0M431.3,629.7h0M357.8,632.4h0M366.4,632.3h0M383.3,631.9h0M421.4,632.5h0M380.4,634.3h0M385.7,634.4h0M387.3,636.4h0M398.4,636.6h0M414.8,637.4h0M370.6,639.3h0M406.8,641.7h0M359.8,644.7h0M365.1,644.6h0M388.7,643.7h0M417.0,644.7h0M349.9,646.9h0M346.0,648.7h0M414.6,649.6h0M411.7,653.8h0M394.9,657.2h0M401.5,656.1h0M421.3,656.3h0M426.5,656.4h0M387.8,658.7h0M411.4,659.7h0M357.7,661.5h0M360.6,661.1h0M379.0,663.5h0M394.3,663.6h0M407.7,664.1h0M422.8,664.6h0M352.3,666.8h0M377.7,667.2h0M347.9,669.7h0M354.0,669.5h0M389.8,671.9h0M417.7,670.9h0M426.3,671.1h0M429.9,671.2h0M371.1,674.5h0M419.2,674.1h0M421.9,673.7h0M430.7,674.4h0M389.5,676.2h0M363.0,679.1h0M425.4,678.8h0M355.9,681.1h0M375.4,681.4h0M429.8,682.1h0M367.8,683.3h0M399.3,684.4h0M367.0,686.6h0M378.6,686.2h0M404.2,686.7h0M418.6,687.1h0M394.6,688.5h0M399.4,689.2h0M369.4,691.2h0M392.7,691.4h0M429.4,692.0h0M359.2,694.1h0M362.9,694.4h0M368.5,694.1h0M388.6,693.7h0" stroke="#e6c4a4" stroke-width="2.2" stroke-linecap="round" fill="none"/>
<path d="M360.6,582.7h0M395.4,587.2h0M365.7,589.2h0M352.0,592.2h0M395.8,597.5h0M423.6,597.8h0M357.3,599.5h0M390.6,599.7h0M414.0,599.5h0M391.9,601.4h0M363.6,606.8h0M343.5,612.7h0M422.9,615.2h0M419.6,618.8h0M358.5,622.3h0M378.2,622.6h0M405.2,624.6h0M344.4,627.1h0M354.8,626.9h0M415.2,627.4h0M381.8,632.1h0M410.9,633.9h0M425.2,634.6h0M370.4,636.9h0M412.9,636.4h0M353.9,639.7h0M344.0,641.8h0M350.1,641.9h0M385.3,643.8h0M386.3,647.2h0M350.7,648.6h0M388.4,649.3h0M390.8,649.1h0M397.1,649.8h0M359.0,651.0h0M359.9,654.2h0M410.0,656.3h0M391.6,663.9h0M404.8,664.1h0M344.7,667.0h0M364.0,666.7h0M406.9,666.5h0M358.7,671.9h0M360.2,673.6h0M365.9,673.7h0M379.4,673.9h0M383.0,673.6h0M408.0,674.4h0M421.5,676.4h0M380.3,679.7h0M350.5,682.1h0M384.7,681.1h0M392.5,681.7h0M431.0,684.1h0M364.4,685.9h0M352.1,691.7h0M358.2,691.2h0M408.7,693.8h0" stroke="#8ea2d8" stroke-width="2.0" stroke-linecap="round" fill="none"/>
<path d="M346.7,582.7h0M355.5,582.0h0M376.1,581.8h0M381.0,581.7h0M392.4,582.0h0M430.1,582.4h0M349.0,584.2h0M359.3,584.5h0M390.7,584.9h0M403.0,584.7h0M413.4,585.4h0M416.1,584.8h0M419.2,585.0h0M369.6,587.3h0M375.5,587.0h0M381.3,586.8h0M387.2,587.6h0M400.5,587.0h0M403.7,587.9h0M417.8,587.8h0M348.9,590.4h0M359.4,590.0h0M371.2,590.2h0M396.5,589.8h0M411.0,589.5h0M375.3,591.6h0M386.3,592.5h0M403.3,591.9h0M421.3,592.4h0M357.2,594.4h0M368.3,594.0h0M379.3,594.2h0M386.0,594.0h0M391.2,594.8h0M407.9,594.6h0M411.3,594.9h0M419.8,595.0h0M430.6,595.4h0M353.1,597.1h0M373.0,596.5h0M393.2,597.0h0M406.6,597.5h0M363.3,599.6h0M365.7,599.1h0M377.3,599.2h0M430.6,599.9h0M369.9,601.9h0M387.2,602.0h0M403.5,601.6h0M407.2,602.2h0M412.2,602.2h0M426.3,602.4h0M348.2,605.0h0M353.5,604.5h0M362.9,604.6h0M365.6,605.3h0M391.6,604.8h0M422.5,604.3h0M395.1,607.4h0M430.2,607.7h0M368.9,609.7h0M394.6,608.9h0M397.1,609.0h0M405.0,610.1h0M346.3,612.6h0M367.1,612.7h0M372.2,611.6h0M378.6,612.3h0M381.0,612.0h0M387.0,611.8h0M407.1,612.3h0M351.6,614.4h0M377.4,615.0h0M385.2,615.0h0M397.1,614.5h0M413.3,614.3h0M417.4,614.3h0M419.1,614.7h0M425.8,614.1h0M428.6,614.9h0M355.7,617.6h0M361.4,616.9h0M366.8,616.7h0M377.6,617.2h0M384.3,616.7h0M393.2,616.6h0M398.8,617.2h0M418.5,616.7h0M365.2,619.6h0M371.6,619.1h0M385.8,619.0h0M402.3,619.0h0M414.3,619.0h0M427.9,619.2h0M344.7,622.0h0M361.0,621.9h0M381.2,622.2h0M386.6,622.0h0M403.8,621.4h0M409.9,622.3h0M421.7,621.5h0M394.5,624.9h0M410.9,624.1h0M350.3,627.1h0M366.4,627.0h0M381.5,627.1h0M392.2,626.4h0M395.4,627.4h0M401.8,627.6h0M428.9,626.5h0M348.8,629.1h0M359.7,630.0h0M362.4,628.9h0M366.1,629.9h0M367.9,630.1h0M382.5,629.1h0M394.6,629.7h0M343.7,632.5h0M398.9,631.3h0M401.3,632.0h0M414.8,632.3h0M426.2,631.8h0M345.5,634.1h0M354.2,634.6h0M356.7,634.2h0M359.7,635.0h0M408.1,633.8h0M414.5,634.2h0M430.5,634.9h0M343.7,637.4h0M356.1,636.4h0M357.7,637.2h0M375.6,637.3h0M389.5,637.0h0M421.4,636.6h0M345.0,638.8h0M368.2,639.5h0M376.8,639.6h0M400.2,639.0h0M421.8,639.6h0M426.0,639.6h0M431.0,639.8h0M358.0,641.2h0M364.5,642.1h0M403.3,642.0h0M412.4,642.4h0M414.9,641.7h0M423.8,641.9h0M426.1,641.5h0M349.0,644.9h0M362.9,644.5h0M370.8,645.0h0M376.7,643.8h0M391.6,643.6h0M396.9,644.5h0M399.8,644.1h0M422.1,644.1h0M364.2,647.4h0M372.0,646.9h0M390.0,646.1h0M396.0,646.5h0M401.4,647.2h0M421.4,647.3h0M424.2,647.4h0M354.3,649.1h0M368.4,648.6h0M371.5,648.9h0M399.2,649.9h0M422.4,649.8h0M425.6,649.2h0M428.1,648.8h0M352.1,652.3h0M366.3,651.5h0M372.1,651.9h0M386.3,651.2h0M395.9,651.1h0M403.6,651.2h0M421.0,651.3h0M429.0,652.4h0M347.7,654.4h0M376.8,654.9h0M393.5,654.0h0M428.7,653.6h0M346.6,656.8h0M349.8,656.1h0M358.2,656.2h0M364.2,656.4h0M369.9,657.4h0M378.1,656.3h0M381.5,656.9h0M406.8,656.9h0M345.0,658.5h0M368.3,659.7h0M382.4,659.6h0M399.2,658.6h0M408.8,658.6h0M425.7,658.6h0M346.8,661.2h0M364.4,661.0h0M372.9,661.6h0M395.6,661.6h0M418.0,662.3h0M346.0,664.1h0M350.7,663.4h0M353.9,664.6h0M356.4,663.7h0M368.7,663.7h0M399.5,663.5h0M411.6,663.5h0M425.3,664.3h0M355.1,667.0h0M387.2,666.1h0M390.3,667.2h0M403.6,666.2h0M429.9,666.2h0M351.5,669.0h0M359.8,669.6h0M362.1,669.5h0M388.9,668.9h0M391.5,669.0h0M393.6,669.1h0M405.3,668.7h0M411.2,669.0h0M352.3,671.7h0M360.7,671.7h0M397.7,671.7h0M406.5,671.1h0M351.2,673.7h0M362.4,674.7h0M368.3,674.4h0M377.3,674.3h0M396.2,673.6h0M426.0,673.6h0M344.0,676.4h0M375.0,677.1h0M378.5,676.8h0M380.6,676.4h0M383.4,676.6h0M395.5,676.7h0M404.6,676.8h0M409.4,676.5h0M426.5,676.2h0M356.4,678.8h0M370.9,679.7h0M391.2,678.6h0M411.6,679.3h0M353.2,680.9h0M380.8,681.4h0M396.0,681.5h0M401.4,681.7h0M373.7,683.7h0M379.3,684.5h0M413.9,684.1h0M416.8,683.5h0M428.7,684.3h0M346.6,686.0h0M354.5,688.8h0M377.5,688.3h0M380.1,689.5h0M384.9,688.3h0M408.6,688.8h0M417.0,688.9h0M422.7,688.5h0M350.3,690.8h0M355.9,690.8h0M366.4,691.5h0M381.6,690.9h0M386.3,691.5h0M396.1,691.9h0M401.3,691.9h0M413.1,691.3h0M423.9,691.9h0M426.8,691.5h0M350.8,693.9h0M354.5,693.6h0M371.7,694.1h0M374.1,693.8h0M402.7,693.7h0M421.9,694.0h0M430.9,694.3h0" stroke="#b5682f" stroke-width="2.5" stroke-linecap="round" fill="none"/>
<path d="M363.6,582.6h0M367.5,581.9h0M372.0,582.9h0M383.8,582.9h0M389.8,582.9h0M395.0,582.4h0M398.3,581.8h0M401.7,582.0h0M406.1,582.7h0M409.6,582.0h0M418.3,582.6h0M421.4,582.9h0M351.7,585.0h0M353.5,584.2h0M362.6,584.6h0M365.6,584.8h0M370.9,584.3h0M373.4,585.1h0M376.8,585.3h0M379.8,585.4h0M385.8,584.5h0M388.4,584.8h0M394.3,584.7h0M396.8,584.8h0M405.0,584.5h0M408.5,584.1h0M425.4,584.3h0M427.9,584.6h0M431.5,585.4h0M343.4,587.6h0M350.1,587.0h0M366.6,587.2h0M378.8,587.9h0M384.4,587.2h0M412.9,587.8h0M426.5,586.6h0M429.0,587.5h0M350.8,589.3h0M357.1,589.6h0M363.2,589.7h0M368.7,589.4h0M377.4,589.7h0M379.6,590.4h0M387.6,589.2h0M390.5,589.5h0M393.6,589.5h0M399.0,589.8h0M408.6,589.2h0M417.2,589.2h0M419.1,589.6h0M423.1,589.1h0M343.5,591.7h0M355.6,592.0h0M364.4,592.3h0M367.3,591.6h0M378.1,591.6h0M383.6,592.2h0M390.2,592.4h0M398.2,592.7h0M412.7,592.9h0M415.5,592.7h0M417.7,592.6h0M426.1,591.7h0M344.8,594.5h0M365.8,594.4h0M370.8,594.2h0M376.2,594.5h0M388.5,594.6h0M393.4,594.1h0M396.5,594.8h0M413.5,594.8h0M417.3,594.4h0M343.9,597.2h0M346.7,596.7h0M350.3,597.8h0M358.4,596.6h0M361.2,597.3h0M363.8,596.7h0M370.2,596.8h0M381.3,597.4h0M386.5,596.8h0M390.1,597.6h0M401.1,597.3h0M403.3,596.8h0M409.7,596.7h0M418.2,597.8h0M420.6,596.5h0M429.8,597.2h0M373.4,599.0h0M380.1,599.8h0M399.4,599.2h0M407.8,599.5h0M417.4,599.6h0M421.8,599.3h0M425.1,599.2h0M358.7,601.9h0M361.0,601.8h0M372.9,602.2h0M381.8,602.7h0M383.5,601.5h0M394.9,601.6h0M409.4,601.8h0M420.9,602.8h0M424.2,602.5h0M351.6,604.1h0M359.8,604.7h0M368.9,605.2h0M374.0,605.0h0M376.2,604.3h0M382.0,605.2h0M385.0,604.0h0M388.9,604.4h0M408.0,604.8h0M414.1,604.2h0M417.0,605.3h0M425.9,604.1h0M430.7,604.8h0M344.2,606.5h0M352.2,607.6h0M356.0,607.0h0M358.1,606.6h0M360.8,607.1h0M375.0,607.1h0M381.6,607.6h0M384.4,607.5h0M393.0,606.8h0M398.9,606.7h0M409.6,607.1h0M415.8,607.0h0M418.3,606.9h0M421.7,607.2h0M423.6,607.7h0M345.2,610.2h0M347.7,609.5h0M357.1,610.0h0M359.8,609.2h0M366.1,609.6h0M374.3,610.1h0M382.2,609.6h0M391.5,610.2h0M407.9,609.5h0M411.4,608.9h0M416.4,609.2h0M419.9,609.6h0M353.0,611.5h0M364.5,611.9h0M369.8,611.9h0M389.0,612.6h0M401.2,612.0h0M409.8,612.2h0M415.8,612.1h0M418.9,612.4h0M421.3,611.6h0M423.5,612.5h0M348.5,614.5h0M353.7,614.9h0M359.6,613.9h0M362.7,614.1h0M371.8,614.1h0M380.3,615.2h0M382.8,614.5h0M388.0,614.4h0M391.0,614.1h0M405.6,614.1h0M408.2,614.9h0M344.7,616.8h0M350.3,616.8h0M353.0,617.7h0M358.1,616.7h0M375.2,617.7h0M387.1,617.2h0M390.0,616.4h0M404.1,616.9h0M409.7,617.0h0M415.1,617.5h0M421.1,617.3h0M426.9,616.4h0M349.1,619.2h0M351.8,618.9h0M354.3,619.7h0M359.4,618.9h0M368.2,619.0h0M383.0,618.8h0M387.9,619.8h0M396.2,619.1h0M405.8,619.1h0M422.8,618.9h0M425.2,619.6h0M431.3,619.9h0M347.1,622.1h0M353.1,621.4h0M367.3,621.4h0M392.9,621.7h0M412.1,622.2h0M345.8,623.8h0M348.5,625.1h0M351.5,624.0h0M365.0,623.8h0M371.2,624.3h0M379.7,624.6h0M416.2,624.5h0M419.4,624.2h0M425.2,624.9h0M431.7,624.7h0M346.3,626.8h0M374.9,627.5h0M387.4,626.9h0M389.9,627.1h0M406.7,627.0h0M409.6,627.5h0M413.0,627.4h0M420.9,627.5h0M424.2,626.6h0M426.5,627.0h0M350.9,629.6h0M354.3,630.1h0M379.4,630.1h0M385.7,629.5h0M402.8,629.1h0M405.6,629.4h0M408.1,628.8h0M410.8,629.2h0M413.3,629.3h0M416.2,629.5h0M347.4,631.5h0M350.0,632.2h0M364.5,632.5h0M374.8,631.9h0M378.6,632.1h0M392.9,632.0h0M396.0,632.0h0M403.7,632.4h0M407.4,631.4h0M429.7,632.2h0M363.3,634.2h0M374.2,634.3h0M376.4,635.1h0M388.4,634.2h0M397.1,634.3h0M402.2,635.1h0M405.8,634.5h0M417.2,634.8h0M420.0,634.7h0M422.1,634.5h0M427.8,634.2h0M361.5,636.8h0M372.4,637.1h0M380.8,637.3h0M392.7,637.1h0M401.5,637.1h0M403.3,636.9h0M407.3,637.3h0M409.9,636.2h0M426.9,636.5h0M348.6,640.0h0M357.3,639.2h0M360.4,639.4h0M362.9,639.1h0M373.5,639.5h0M383.2,639.1h0M388.5,639.2h0M405.5,639.2h0M407.8,639.4h0M419.0,639.2h0M347.3,641.7h0M361.5,642.4h0M367.1,641.4h0M369.8,642.1h0M375.1,642.1h0M381.7,642.3h0M383.8,642.2h0M386.3,641.2h0M389.4,641.3h0M392.7,642.1h0M409.5,642.3h0M430.1,642.1h0M351.7,644.4h0M357.4,644.5h0M368.4,644.7h0M373.7,644.5h0M383.1,644.3h0M393.8,643.6h0M402.7,643.9h0M408.5,644.9h0M411.2,644.8h0M413.3,643.7h0M419.2,644.7h0M430.7,644.1h0M343.9,646.7h0M346.6,646.5h0M352.1,646.3h0M366.3,646.3h0M369.6,646.8h0M392.5,647.0h0M398.7,646.1h0M404.2,646.2h0M409.0,646.8h0M413.2,646.3h0M415.6,646.8h0M418.3,647.1h0M427.3,647.3h0M348.7,649.3h0M356.8,648.6h0M362.9,648.8h0M376.4,649.1h0M379.3,649.1h0M382.2,649.1h0M385.1,648.6h0M394.6,649.0h0M431.7,649.4h0M347.0,651.1h0M349.9,652.2h0M360.9,651.8h0M364.0,652.3h0M369.7,652.2h0M375.6,652.2h0M378.1,651.9h0M381.5,651.1h0M384.4,651.8h0M392.5,651.8h0M406.4,651.5h0M409.9,652.0h0M412.4,651.6h0M415.2,651.6h0M424.3,652.4h0M356.8,654.3h0M363.0,654.0h0M365.8,653.6h0M367.9,654.4h0M383.3,653.6h0M388.3,653.6h0M402.3,654.5h0M404.9,654.0h0M408.5,654.3h0M417.2,654.8h0M419.4,654.5h0M422.4,653.9h0M430.6,654.1h0M344.2,657.0h0M352.5,656.6h0M366.3,656.2h0M375.8,656.0h0M384.3,656.6h0M387.2,656.1h0M415.2,656.7h0M418.1,657.2h0M429.9,657.1h0M356.9,659.2h0M363.1,659.3h0M374.3,658.9h0M379.8,659.3h0M385.4,659.4h0M391.1,659.6h0M394.2,659.8h0M396.7,658.6h0M402.1,659.1h0M422.9,659.4h0M427.5,658.9h0M430.6,659.4h0M350.0,662.1h0M367.1,661.3h0M389.8,662.3h0M392.2,662.2h0M400.5,661.4h0M404.2,661.0h0M406.7,661.4h0M413.1,662.2h0M415.3,661.1h0M423.9,661.9h0M430.1,661.4h0M365.2,664.7h0M374.2,664.0h0M382.0,663.5h0M385.7,663.7h0M396.8,664.5h0M413.5,663.8h0M431.4,664.1h0M346.6,666.8h0M358.2,667.1h0M372.1,666.6h0M375.5,667.0h0M383.5,666.6h0M392.2,666.9h0M398.2,666.5h0M401.5,666.6h0M410.3,666.4h0M412.5,666.9h0M414.9,666.2h0M420.9,667.1h0M426.9,666.7h0M345.5,669.1h0M357.2,669.5h0M374.5,669.3h0M402.1,669.2h0M413.8,669.1h0M417.2,669.2h0M428.1,669.2h0M355.6,672.0h0M369.7,671.2h0M372.7,671.5h0M378.1,670.9h0M381.0,672.2h0M384.5,671.1h0M395.0,671.5h0M409.8,671.4h0M415.7,671.9h0M357.1,674.6h0M374.2,673.4h0M384.9,674.3h0M388.8,674.3h0M391.4,673.9h0M394.0,673.6h0M400.0,674.1h0M414.0,673.9h0M352.5,677.1h0M360.8,675.9h0M391.9,676.3h0M398.9,676.2h0M401.1,676.2h0M406.1,676.4h0M412.2,676.3h0M415.3,677.0h0M423.9,676.3h0M345.4,679.4h0M348.8,678.4h0M350.7,678.5h0M360.4,679.2h0M365.8,679.3h0M382.2,678.4h0M385.8,678.5h0M388.2,678.8h0M397.5,678.7h0M402.4,679.5h0M414.0,678.3h0M417.3,679.2h0M419.1,678.9h0M422.1,679.1h0M427.5,679.0h0M347.2,682.0h0M358.8,682.1h0M361.2,681.8h0M364.1,681.7h0M367.0,682.0h0M378.1,681.3h0M386.2,680.8h0M390.4,682.0h0M404.6,680.9h0M406.8,681.0h0M412.6,682.2h0M418.8,681.6h0M345.0,684.2h0M348.0,683.9h0M351.2,684.5h0M356.6,684.3h0M360.1,684.6h0M371.6,684.2h0M382.2,683.7h0M385.6,683.5h0M388.2,683.5h0M391.4,684.4h0M394.7,684.5h0M405.7,684.2h0M407.5,683.5h0M411.6,683.6h0M422.1,684.6h0M425.3,684.5h0M344.6,686.1h0M349.3,685.9h0M361.0,686.5h0M369.1,686.9h0M381.3,686.0h0M383.9,687.1h0M386.9,685.8h0M390.3,686.4h0M392.7,686.0h0M395.1,686.4h0M398.9,687.0h0M415.0,686.6h0M421.1,685.7h0M349.0,689.1h0M363.0,689.5h0M368.8,688.9h0M373.8,689.5h0M383.1,688.7h0M388.0,688.4h0M391.4,688.5h0M402.4,688.7h0M405.3,689.2h0M411.5,688.9h0M414.3,689.3h0M419.0,688.8h0M427.6,688.5h0M431.3,689.4h0M372.8,691.8h0M378.1,691.3h0M384.5,691.7h0M406.1,692.0h0M409.4,691.1h0M415.8,691.9h0M417.8,691.4h0M420.4,692.0h0M345.6,694.4h0M347.9,693.8h0M357.0,693.3h0M377.0,694.2h0M382.7,694.0h0M385.7,694.1h0M406.0,694.1h0M419.0,693.7h0M424.6,693.2h0M427.5,693.6h0" stroke="#96481a" stroke-width="2.5" stroke-linecap="round" fill="none"/>
<path d="M350.0,581.8h0M352.5,582.6h0M370.3,582.5h0M378.7,582.9h0M387.2,582.8h0M404.5,582.4h0M412.8,582.0h0M416.0,582.9h0M423.7,581.9h0M426.3,581.8h0M346.1,585.2h0M356.6,584.8h0M369.0,585.1h0M422.9,584.7h0M347.3,587.7h0M352.4,587.3h0M355.5,587.0h0M358.0,587.5h0M360.8,587.1h0M364.7,587.7h0M372.1,587.3h0M389.4,586.9h0M392.1,586.6h0M409.7,586.8h0M415.7,587.7h0M421.0,586.9h0M423.8,587.8h0M345.4,589.4h0M354.6,590.4h0M383.2,589.3h0M385.4,589.3h0M403.1,590.0h0M413.9,590.4h0M424.8,590.1h0M427.8,590.2h0M346.7,592.4h0M349.6,591.5h0M358.7,592.7h0M372.7,591.8h0M381.0,592.6h0M393.0,591.8h0M395.0,592.3h0M400.7,591.7h0M407.3,592.1h0M409.7,592.8h0M424.0,592.8h0M429.9,592.8h0M348.2,594.4h0M359.7,594.1h0M362.6,594.4h0M373.6,594.0h0M382.7,594.8h0M399.0,595.2h0M405.9,595.3h0M424.7,595.0h0M427.6,594.5h0M355.9,597.7h0M375.3,597.4h0M378.5,596.6h0M383.7,597.0h0M398.4,597.7h0M413.1,596.9h0M415.7,597.0h0M427.4,597.8h0M345.6,599.3h0M347.8,599.9h0M351.7,599.9h0M354.6,599.1h0M368.3,599.9h0M382.9,599.1h0M385.9,599.3h0M393.4,599.6h0M403.1,599.3h0M405.2,600.3h0M410.7,600.0h0M419.5,599.8h0M428.8,600.3h0M343.6,602.2h0M347.6,602.8h0M350.4,601.6h0M364.3,602.0h0M375.3,601.8h0M378.2,602.1h0M389.3,601.9h0M398.0,602.2h0M415.8,602.4h0M418.5,601.8h0M429.3,601.6h0M345.8,605.2h0M356.6,605.3h0M371.1,604.2h0M379.3,605.2h0M396.7,605.0h0M399.3,605.2h0M402.4,604.4h0M350.2,607.0h0M367.4,607.6h0M369.7,607.3h0M378.2,607.6h0M389.5,607.5h0M401.7,607.3h0M403.4,607.2h0M406.2,607.0h0M412.0,607.7h0M426.5,607.7h0M351.1,608.9h0M353.7,609.3h0M362.4,609.4h0M371.6,610.2h0M377.4,609.0h0M379.3,609.3h0M402.4,610.3h0M414.2,609.9h0M425.7,609.3h0M428.3,608.9h0M430.5,609.2h0M350.4,612.5h0M355.9,611.5h0M359.0,612.0h0M361.0,611.8h0M376.1,612.6h0M383.5,611.9h0M392.4,611.5h0M395.7,611.9h0M397.7,612.1h0M403.4,612.5h0M412.3,611.7h0M430.1,612.1h0M345.1,614.6h0M356.8,614.4h0M369.0,614.9h0M373.4,615.2h0M393.3,615.2h0M400.2,613.9h0M403.1,615.1h0M411.1,614.3h0M347.1,617.0h0M369.8,616.6h0M372.3,616.5h0M381.2,616.9h0M394.8,616.5h0M406.2,617.1h0M412.8,616.6h0M423.4,616.7h0M430.2,617.4h0M357.0,618.8h0M363.2,620.1h0M373.9,620.2h0M376.7,619.1h0M390.4,619.8h0M394.5,619.7h0M399.3,619.8h0M408.5,619.9h0M410.6,619.5h0M416.7,619.8h0M350.3,621.9h0M355.3,622.1h0M363.9,621.8h0M369.2,622.2h0M384.6,621.9h0M398.9,621.6h0M400.7,622.4h0M407.3,622.2h0M415.2,621.9h0M417.9,622.6h0M423.4,621.7h0M429.2,621.4h0M354.2,624.4h0M362.7,624.8h0M368.6,624.0h0M374.6,623.9h0M377.2,624.6h0M382.4,625.1h0M385.2,624.9h0M388.7,624.9h0M390.6,624.8h0M396.2,624.9h0M400.2,624.8h0M402.5,625.0h0M408.7,624.0h0M414.3,624.5h0M422.6,623.9h0M428.5,625.0h0M357.9,626.2h0M360.6,626.7h0M364.1,626.5h0M370.2,626.3h0M372.2,626.8h0M378.4,626.6h0M398.6,626.9h0M404.3,627.4h0M345.2,629.5h0M357.6,629.9h0M370.7,629.8h0M374.2,629.4h0M390.8,629.2h0M396.5,629.5h0M399.1,628.8h0M420.1,629.3h0M422.2,629.1h0M425.4,630.1h0M428.3,629.2h0M352.3,631.6h0M355.8,631.5h0M361.4,631.7h0M369.9,632.3h0M373.0,631.6h0M387.5,631.5h0M390.4,631.7h0M409.5,632.3h0M412.2,632.6h0M417.5,631.8h0M423.3,631.3h0M348.6,634.1h0M351.7,633.8h0M365.5,634.2h0M368.0,634.9h0M371.6,634.4h0M382.4,634.6h0M391.5,635.0h0M393.3,634.6h0M399.6,634.4h0M347.4,636.8h0M349.2,636.9h0M352.0,636.4h0M363.5,636.3h0M367.2,637.0h0M377.9,637.0h0M383.6,636.5h0M395.3,637.5h0M418.1,636.9h0M424.4,636.6h0M429.2,636.3h0M351.6,639.0h0M366.2,639.3h0M379.7,639.7h0M385.2,639.7h0M390.8,638.9h0M393.5,639.6h0M396.1,639.5h0M402.2,638.8h0M410.6,639.6h0M414.3,638.8h0M417.3,640.0h0M428.1,639.9h0M353.0,641.6h0M355.4,641.2h0M372.6,641.5h0M378.0,642.4h0M395.3,641.2h0M398.8,642.3h0M401.2,642.0h0M418.8,641.5h0M421.7,642.0h0M346.0,644.3h0M354.2,644.4h0M379.5,643.8h0M404.8,644.3h0M425.3,644.9h0M427.9,644.1h0M355.8,647.1h0M358.7,646.8h0M360.7,646.3h0M374.8,647.3h0M378.0,646.6h0M380.7,647.2h0M383.6,647.2h0M407.2,646.8h0M430.1,646.9h0M359.6,649.7h0M365.6,648.6h0M373.7,649.2h0M402.3,649.9h0M405.0,649.8h0M408.5,649.1h0M411.0,648.7h0M416.5,649.5h0M419.7,649.2h0M344.3,651.4h0M355.8,651.7h0M389.3,652.4h0M397.7,652.1h0M401.0,652.4h0M417.7,651.1h0M426.3,651.5h0M345.8,654.4h0M351.7,654.9h0M354.7,654.2h0M371.7,654.6h0M374.4,654.4h0M380.2,654.1h0M385.8,654.0h0M391.2,653.8h0M397.1,654.5h0M400.3,653.6h0M414.4,654.1h0M425.4,654.2h0M355.5,657.0h0M361.0,657.1h0M372.0,657.2h0M389.1,656.9h0M392.6,657.3h0M397.8,657.0h0M404.1,656.6h0M412.2,656.7h0M423.7,657.0h0M348.7,658.7h0M351.4,659.5h0M354.4,658.9h0M360.0,658.8h0M366.2,659.3h0M371.0,659.3h0M377.4,659.2h0M405.9,659.8h0M414.6,658.9h0M416.1,659.3h0M420.0,659.3h0M344.2,661.4h0M352.5,661.1h0M355.8,662.2h0M370.2,661.6h0M374.9,661.7h0M377.9,661.0h0M380.9,661.6h0M383.8,661.4h0M386.5,662.1h0M398.0,661.3h0M410.1,661.3h0M420.7,661.5h0M426.7,661.3h0M348.3,663.8h0M360.1,664.2h0M362.9,663.5h0M371.8,664.6h0M377.0,664.4h0M388.3,663.5h0M402.9,663.8h0M416.3,663.6h0M420.3,664.2h0M428.1,663.6h0M350.4,666.6h0M361.3,666.3h0M367.6,666.6h0M370.2,666.0h0M380.6,666.5h0M396.1,666.2h0M417.6,666.8h0M424.2,666.8h0M366.1,668.5h0M367.8,669.3h0M371.3,669.1h0M376.8,669.5h0M379.9,668.5h0M382.1,668.8h0M386.0,669.2h0M396.2,669.4h0M400.2,668.5h0M408.1,669.1h0M420.2,669.8h0M423.0,668.8h0M425.9,669.0h0M430.9,668.7h0M343.6,672.0h0M346.9,671.4h0M349.8,671.2h0M364.3,671.4h0M367.5,671.4h0M374.8,671.6h0M387.5,671.4h0M393.0,671.4h0M401.1,672.0h0M404.1,672.1h0M412.8,672.0h0M420.8,671.2h0M424.2,670.9h0M345.2,673.7h0M348.6,673.9h0M354.7,674.0h0M403.2,673.4h0M404.8,673.8h0M411.5,673.4h0M416.9,674.5h0M427.6,674.2h0M346.6,676.1h0M350.0,676.3h0M355.4,676.5h0M358.5,676.5h0M363.6,676.8h0M366.3,676.8h0M369.2,676.9h0M372.8,676.2h0M387.3,675.8h0M417.9,676.8h0M429.0,676.5h0M354.5,678.4h0M368.9,679.2h0M374.3,678.4h0M376.6,679.7h0M393.8,679.2h0M399.8,679.1h0M405.2,679.2h0M408.5,678.7h0M430.8,678.6h0M343.8,681.7h0M369.5,681.3h0M372.6,681.8h0M398.1,681.5h0M410.0,681.0h0M414.9,681.0h0M420.7,681.8h0M424.4,681.7h0M426.7,681.4h0M354.0,684.3h0M362.8,684.1h0M365.9,683.3h0M376.7,684.1h0M396.6,683.6h0M401.9,683.7h0M418.9,684.1h0M353.2,686.7h0M355.1,686.0h0M358.7,685.8h0M372.5,686.6h0M375.5,686.5h0M401.5,686.3h0M406.6,686.9h0M409.0,686.6h0M412.6,686.9h0M423.6,686.1h0M427.4,686.5h0M429.6,686.2h0M346.0,688.9h0M350.8,688.7h0M357.6,688.8h0M360.0,688.8h0M365.6,689.3h0M371.0,689.3h0M396.1,689.4h0M425.0,689.3h0M344.1,691.3h0M347.0,691.2h0M360.5,692.1h0M363.7,691.7h0M375.7,691.4h0M390.2,691.9h0M398.4,692.1h0M404.0,692.1h0M365.4,693.3h0M379.2,694.6h0M390.9,693.3h0M393.7,693.5h0M396.9,694.3h0M400.4,694.2h0M411.4,693.9h0M414.3,693.6h0M416.6,694.6h0" stroke="#6e2c0a" stroke-width="2.4" stroke-linecap="round" fill="none"/>
</g>
<line x1="345.0" y1="583.4" x2="361.0" y2="583.4" stroke="#e0506a" stroke-width="0.5"/>
<rect x="443.3" y="581.9" width="55.7" height="49.3" fill="#43207e"/>
<rect x="443.3" y="581.9" width="55.7" height="49.3" fill="#fff" filter="url(#of1)"/>
<g clip-path="url(#oc1)"><g filter="url(#b15)">
<ellipse cx="495.5" cy="619" rx="5" ry="11" fill="#07040e" opacity="0.95"/>
<ellipse cx="476.5" cy="591" rx="5" ry="3.6" fill="#07040e" opacity="0.85"/>
<ellipse cx="451.5" cy="588.5" rx="3.6" ry="2.6" fill="#07040e" opacity="0.8"/>
<ellipse cx="463" cy="627" rx="6" ry="3" fill="#07040e" opacity="0.85"/>
<ellipse cx="487" cy="604" rx="3" ry="3" fill="#07040e" opacity="0.7"/>
<ellipse cx="456" cy="594.5" rx="9" ry="6" fill="#c0309a" opacity="0.4"/>
<ellipse cx="489" cy="589.5" rx="8" ry="4.5" fill="#c0309a" opacity="0.4"/>
<ellipse cx="470" cy="612" rx="10" ry="6" fill="#3a34b0" opacity="0.5"/>
</g></g>
<rect x="443.3" y="581.9" width="55.7" height="49.3" fill="#fff" filter="url(#of1b)"/>
<path d="M443.5,609.5 C452,608.5 458,607 464,604.5 C470,602.3 474,602.5 479,602" fill="none" stroke="#3fe06a" stroke-width="0.8"/>
<path d="M481,611 L484,612.5" fill="none" stroke="#3fe06a" stroke-width="0.7"/>
<rect x="468.5" y="599.2" width="18.3" height="18.3" fill="none" stroke="#ecb428" stroke-width="1.1" stroke-dasharray="1.1,0.9"/>
<line x1="477.1" y1="617.5" x2="470.7" y2="635.3" stroke="#ecb428" stroke-width="1.2" stroke-dasharray="1.1,0.9"/>
<rect x="443.3" y="635.4" width="55.7" height="56.1" fill="#4c2488"/>
<rect x="443.3" y="635.4" width="55.7" height="56.1" fill="#fff" filter="url(#of2)"/>
<g clip-path="url(#oc2)"><g filter="url(#b15)">
<ellipse cx="470.7" cy="664.5" rx="14" ry="15.5" fill="#5a34b0" opacity="0.9"/>
<ellipse cx="476" cy="671" rx="7" ry="7.5" fill="#d8307a" opacity="0.6"/>
<ellipse cx="464" cy="662" rx="5" ry="6" fill="#c83a90" opacity="0.5"/>
<ellipse cx="476" cy="643" rx="6.5" ry="6" fill="#08040f"/>
<ellipse cx="487.5" cy="680" rx="6" ry="6.5" fill="#08040f"/>
<ellipse cx="445" cy="681" rx="5" ry="8" fill="#0c0618"/>
<ellipse cx="447" cy="651" rx="5" ry="4" fill="#0c0618"/>
</g></g>
<rect x="443.3" y="635.4" width="55.7" height="56.1" fill="#fff" filter="url(#of2b)"/>
<path d="M445.5,645.5 C450,646.5 454,648.5 458,648.8 C462,649 466,647 469,646.5 L468,649 C463,651.5 458,652 453,653.5 L449,653 C452,651 455,650 457,649.5 C452,648.5 448,647.5 445.5,645.5Z" fill="#39d868" stroke="none" stroke-width="1"/>
<path d="M485.6,664.3 C485.7,666.7 485.2,669.3 484.3,671.5 C483.4,673.7 482.1,676.2 480.3,677.6 C478.6,679.0 476.1,679.2 473.9,679.7 C471.7,680.2 469.5,680.9 467.3,680.5 C465.2,680.2 462.8,679.2 461.0,677.7 C459.2,676.3 457.3,674.0 456.6,671.8 C455.9,669.5 456.5,666.7 456.5,664.3 C456.6,661.9 456.3,659.2 457.1,657.1 C457.9,654.9 459.6,652.8 461.3,651.3 C463.0,649.9 465.3,649.1 467.4,648.4 C469.6,647.7 472.1,646.9 474.2,647.4 C476.3,647.9 478.3,649.9 480.0,651.5 C481.6,653.2 483.0,655.1 483.9,657.3 C484.9,659.4 485.6,661.9 485.6,664.3Z" fill="none" stroke="#f2c028" stroke-width="1.1" stroke-dasharray="1,0.9"/>
<rect x="443.7" y="635.8" width="54.9" height="55.3" fill="none" stroke="#e0a82c" stroke-width="0.9" stroke-dasharray="0.9,0.9"/>
</g>
<path d="M0.5,0 V711 M0,0.5 H520 M519.5,0 V712 M0,710.8 H520" stroke="#000" stroke-width="1.2" fill="none"/>
<line x1="0" y1="711" x2="520" y2="711" stroke="#000" stroke-width="2"/>
</svg>
</body></html>
